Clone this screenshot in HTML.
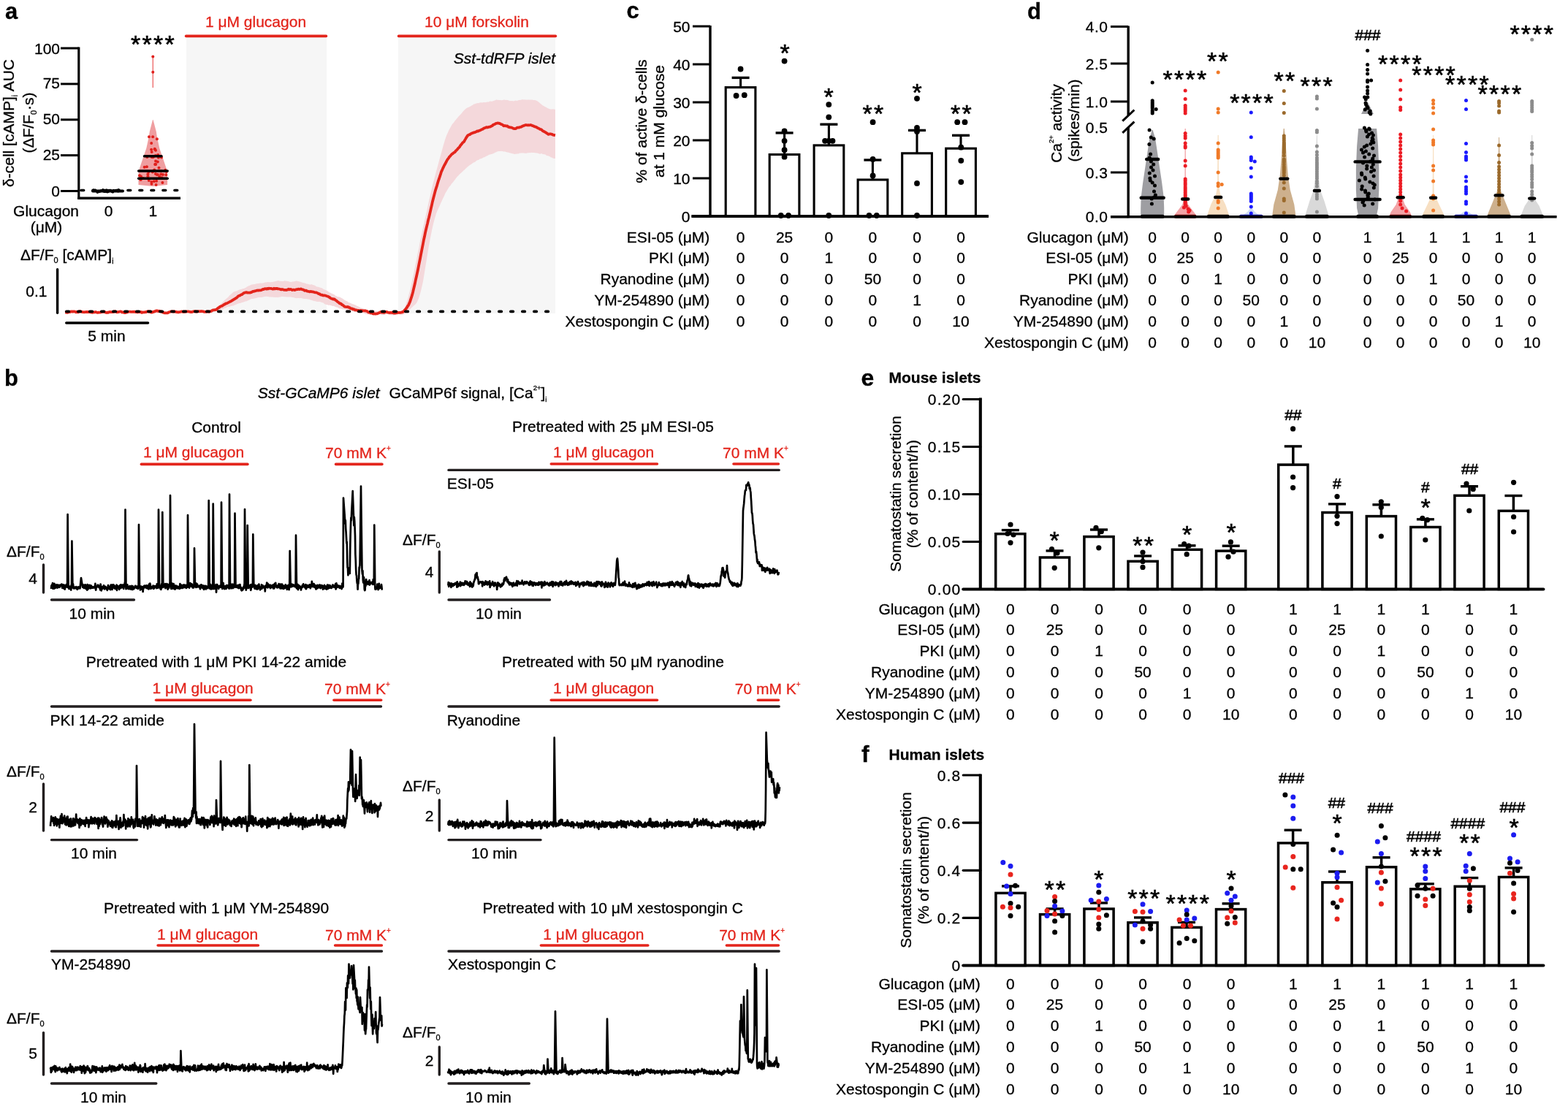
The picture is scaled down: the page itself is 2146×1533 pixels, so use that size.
<!DOCTYPE html>
<html><head><meta charset="utf-8"><style>
html,body{margin:0;padding:0;background:#fff;}
svg{display:block;}
text{font-family:"Liberation Sans",Arial,sans-serif;stroke:#000;stroke-width:0.3px;}
text[fill="#e3241b"]{stroke:#e3241b;}
</style></head><body>
<svg width="2146" height="1533" viewBox="0 0 2146 1533" font-family="Liberation Sans, Arial, sans-serif" font-size="21">
<rect width="2146" height="1533" fill="#fff"/>
<text x="6.9" y="25.8" font-size="31" font-weight="bold">a</text>
<line x1="107.8" y1="64.5" x2="107.8" y2="272.5" stroke="#000" stroke-width="3.2"/>
<line x1="106.2" y1="271.3" x2="247" y2="271.3" stroke="#000" stroke-width="3.4"/>
<line x1="83" y1="261.5" x2="107.8" y2="261.5" stroke="#000" stroke-width="3"/>
<text x="82" y="269" text-anchor="end">0</text>
<line x1="83" y1="212.6" x2="107.8" y2="212.6" stroke="#000" stroke-width="3"/>
<text x="82" y="218.6" text-anchor="end">25</text>
<line x1="83" y1="163.8" x2="107.8" y2="163.8" stroke="#000" stroke-width="3"/>
<text x="82" y="169.8" text-anchor="end">50</text>
<line x1="83" y1="114.9" x2="107.8" y2="114.9" stroke="#000" stroke-width="3"/>
<text x="82" y="120.9" text-anchor="end">75</text>
<line x1="83" y1="66" x2="107.8" y2="66" stroke="#000" stroke-width="3"/>
<text x="82" y="73.5" text-anchor="end">100</text>
<text x="108" y="296" text-anchor="end">Glucagon</text>
<text x="63.5" y="318" text-anchor="middle">(μM)</text>
<text x="148.5" y="296" text-anchor="middle">0</text>
<text x="209.3" y="296" text-anchor="middle">1</text>
<text transform="translate(19,168.5) rotate(-90)" text-anchor="middle">δ-cell [cAMP]<tspan font-size="10" dy="5">i</tspan><tspan dy="-5"> AUC</tspan></text>
<text transform="translate(46.2,168) rotate(-90)" text-anchor="middle">(ΔF/F<tspan font-size="11" dy="4">0</tspan><tspan dy="-4">·s)</tspan></text>
<line x1="110.9" y1="260.6" x2="247" y2="260.6" stroke="#000" stroke-width="3.5" stroke-linecap="round" stroke-dasharray="3.8 12.2"/>
<line x1="127" y1="261.5" x2="168" y2="261.5" stroke="#000" stroke-width="4" stroke-linecap="round"/>
<circle cx="149.6" cy="260.7" r="1.9" fill="#000"/>
<circle cx="147.9" cy="262.3" r="1.9" fill="#000"/>
<circle cx="163.6" cy="261.1" r="1.9" fill="#000"/>
<circle cx="145.7" cy="261.5" r="1.9" fill="#000"/>
<circle cx="153.6" cy="262.3" r="1.9" fill="#000"/>
<circle cx="151.2" cy="260.6" r="1.9" fill="#000"/>
<circle cx="128" cy="260.2" r="1.9" fill="#000"/>
<circle cx="144" cy="261.8" r="1.9" fill="#000"/>
<circle cx="138.6" cy="261.1" r="1.9" fill="#000"/>
<circle cx="133.4" cy="263" r="1.9" fill="#000"/>
<circle cx="149.3" cy="260.9" r="1.9" fill="#000"/>
<circle cx="136.1" cy="262.3" r="1.9" fill="#000"/>
<circle cx="142.9" cy="262" r="1.9" fill="#000"/>
<circle cx="161.7" cy="261.7" r="1.9" fill="#000"/>
<circle cx="142.5" cy="261.7" r="1.9" fill="#000"/>
<circle cx="149.9" cy="260.9" r="1.9" fill="#000"/>
<circle cx="141.8" cy="261.1" r="1.9" fill="#000"/>
<circle cx="146.2" cy="260.4" r="1.9" fill="#000"/>
<circle cx="138" cy="261.2" r="1.9" fill="#000"/>
<circle cx="162.3" cy="260" r="1.9" fill="#000"/>
<circle cx="151" cy="260.7" r="1.9" fill="#000"/>
<circle cx="145.6" cy="260.7" r="1.9" fill="#000"/>
<circle cx="135.4" cy="261.6" r="1.9" fill="#000"/>
<circle cx="130.6" cy="260.4" r="1.9" fill="#000"/>
<circle cx="146.8" cy="262.6" r="1.9" fill="#000"/>
<circle cx="157.6" cy="260.8" r="1.9" fill="#000"/>
<circle cx="155.3" cy="260.7" r="1.9" fill="#000"/>
<circle cx="154.4" cy="262.7" r="1.9" fill="#000"/>
<circle cx="140.9" cy="260" r="1.9" fill="#000"/>
<circle cx="145.3" cy="262.1" r="1.9" fill="#000"/>
<path d="M209.6 164 213.8 180 214.8 187 218.3 203 223.8 219 228.8 234 229.1 242 229.1 253 209.3 255 209.3 255 189.5 253 189.5 242 189.8 234 194.8 219 200.3 203 203.8 187 204.8 180 209 164Z" fill="#ec8d8f" fill-opacity="0.85"/>
<line x1="209.3" y1="77.5" x2="209.3" y2="120" stroke="#e66" stroke-width="1.3"/>
<circle cx="209.3" cy="77.5" r="2" fill="#e0201c"/>
<circle cx="209.3" cy="98.7" r="2" fill="#e0201c"/>
<circle cx="209.1" cy="187.2" r="2" fill="#e0201c"/>
<circle cx="208.8" cy="235.6" r="2" fill="#e0201c"/>
<circle cx="222.9" cy="239.1" r="2" fill="#e0201c"/>
<circle cx="212.7" cy="224.8" r="2" fill="#e0201c"/>
<circle cx="221.4" cy="243.2" r="2" fill="#e0201c"/>
<circle cx="202.4" cy="238.3" r="2" fill="#e0201c"/>
<circle cx="208.8" cy="215.2" r="2" fill="#e0201c"/>
<circle cx="214.9" cy="190.2" r="2" fill="#e0201c"/>
<circle cx="221" cy="215.5" r="2" fill="#e0201c"/>
<circle cx="192.7" cy="246.1" r="2" fill="#e0201c"/>
<circle cx="193" cy="241.6" r="2" fill="#e0201c"/>
<circle cx="220.3" cy="238.5" r="2" fill="#e0201c"/>
<circle cx="220.4" cy="234.3" r="2" fill="#e0201c"/>
<circle cx="204" cy="187.2" r="2" fill="#e0201c"/>
<circle cx="213" cy="205.8" r="2" fill="#e0201c"/>
<circle cx="218.2" cy="241.7" r="2" fill="#e0201c"/>
<circle cx="207.7" cy="207.9" r="2" fill="#e0201c"/>
<circle cx="211.7" cy="204.3" r="2" fill="#e0201c"/>
<circle cx="214.7" cy="239" r="2" fill="#e0201c"/>
<circle cx="226.4" cy="232.8" r="2" fill="#e0201c"/>
<circle cx="212.2" cy="225" r="2" fill="#e0201c"/>
<circle cx="191" cy="240.2" r="2" fill="#e0201c"/>
<circle cx="207.5" cy="251.7" r="2" fill="#e0201c"/>
<circle cx="207.2" cy="196.1" r="2" fill="#e0201c"/>
<circle cx="216.9" cy="215.7" r="2" fill="#e0201c"/>
<circle cx="213.1" cy="220.4" r="2" fill="#e0201c"/>
<circle cx="201.3" cy="215.1" r="2" fill="#e0201c"/>
<circle cx="202.4" cy="241.3" r="2" fill="#e0201c"/>
<circle cx="211.8" cy="203.7" r="2" fill="#e0201c"/>
<circle cx="222.4" cy="250.1" r="2" fill="#e0201c"/>
<circle cx="207.7" cy="215.1" r="2" fill="#e0201c"/>
<circle cx="203.4" cy="235.3" r="2" fill="#e0201c"/>
<circle cx="227.3" cy="239.3" r="2" fill="#e0201c"/>
<circle cx="214.1" cy="247.8" r="2" fill="#e0201c"/>
<circle cx="210.2" cy="214.5" r="2" fill="#e0201c"/>
<circle cx="210" cy="233.7" r="2" fill="#e0201c"/>
<circle cx="212.9" cy="213.1" r="2" fill="#e0201c"/>
<circle cx="207.3" cy="249" r="2" fill="#e0201c"/>
<circle cx="216.2" cy="211.9" r="2" fill="#e0201c"/>
<circle cx="212.9" cy="238" r="2" fill="#e0201c"/>
<circle cx="210.8" cy="248.3" r="2" fill="#e0201c"/>
<circle cx="209.4" cy="214.9" r="2" fill="#e0201c"/>
<circle cx="195.8" cy="244" r="2" fill="#e0201c"/>
<circle cx="211.3" cy="232.5" r="2" fill="#e0201c"/>
<circle cx="213.1" cy="225" r="2" fill="#e0201c"/>
<circle cx="227.9" cy="235.1" r="2" fill="#e0201c"/>
<circle cx="197.7" cy="228.7" r="2" fill="#e0201c"/>
<circle cx="203.8" cy="247" r="2" fill="#e0201c"/>
<circle cx="213.6" cy="253.1" r="2" fill="#e0201c"/>
<circle cx="207.1" cy="204.8" r="2" fill="#e0201c"/>
<circle cx="192.3" cy="245.8" r="2" fill="#e0201c"/>
<circle cx="217.5" cy="229.7" r="2" fill="#e0201c"/>
<circle cx="200.9" cy="228.3" r="2" fill="#e0201c"/>
<circle cx="215.9" cy="239.1" r="2" fill="#e0201c"/>
<circle cx="215.8" cy="221.4" r="2" fill="#e0201c"/>
<line x1="197.5" y1="213.7" x2="221" y2="213.7" stroke="#000" stroke-width="3.5" stroke-linecap="round"/>
<line x1="189.7" y1="234" x2="229.2" y2="234" stroke="#000" stroke-width="3.5" stroke-linecap="round"/>
<line x1="189.7" y1="244.2" x2="229.2" y2="244.2" stroke="#000" stroke-width="3.5" stroke-linecap="round"/>
<text x="179.1" y="72" font-size="34" letter-spacing="2.2" style="stroke-width:0.6px">****</text>
<rect x="255" y="51" width="192" height="378" fill="#f6f6f6"/>
<rect x="545" y="51" width="215" height="378" fill="#f6f6f6"/>
<line x1="254.6" y1="49.4" x2="446.4" y2="49.4" stroke="#e3241b" stroke-width="3.6" stroke-linecap="round"/>
<line x1="545.6" y1="49.4" x2="760.4" y2="49.4" stroke="#e3241b" stroke-width="3.6" stroke-linecap="round"/>
<text x="350" y="37" text-anchor="middle" fill="#e3241b">1 μM glucagon</text>
<text x="652.5" y="37" text-anchor="middle" fill="#e3241b">10 μM forskolin</text>
<text x="760" y="87" text-anchor="end" font-style="italic">Sst-tdRFP islet</text>
<line x1="78.6" y1="368.7" x2="78.6" y2="428.3" stroke="#000" stroke-width="3.4" stroke-linecap="round"/>
<text x="64.5" y="405.5" text-anchor="end">0.1</text>
<text x="28" y="356">ΔF/F<tspan font-size="11" dy="4">0</tspan><tspan dy="-4"> [cAMP]</tspan><tspan font-size="10" dy="5">i</tspan></text>
<line x1="90.8" y1="442" x2="202.5" y2="442" stroke="#000" stroke-width="3.6" stroke-linecap="round"/>
<text x="146" y="467" text-anchor="middle">5 min</text>
<path d="M89 427.2 90 426.9 91 427.2 92 427.1 93 426.6 94 426.8 95 426.9 96 426.9 97 427.3 98 427 99 427 100 427.5 101 427.1 102 426.8 103 426.6 104 426.4 105 426.5 106 426.6 107 426.6 108 426.5 109 426.4 110 426.6 111 426.7 112 426.7 113 427 114 426.6 115 426.9 116 426.7 117 426.5 118 426.4 119 426.2 120 425.8 121 426.2 122 426.4 123 426.8 124 426.7 125 426.7 126 426.8 127 427 128 427 129 426.9 130 426.6 131 426.7 132 426.7 133 426.6 134 426.6 135 426.4 136 426.6 137 426.9 138 427 139 427 140 427.3 141 427.2 142 427.5 143 427.4 144 427.3 145 427.3 146 427 147 426.9 148 426.9 149 426.6 150 426.7 151 426.7 152 426.5 153 426.6 154 426.5 155 426.5 156 426.5 157 426.3 158 426 159 426.1 160 426.3 161 426.1 162 426.3 163 426.5 164 426.4 165 426.2 166 426.5 167 426.6 168 426.5 169 426.4 170 426.3 171 426.1 172 426.4 173 426.5 174 426.3 175 426.6 176 426.7 177 426.6 178 426.5 179 426.8 180 426.5 181 426.5 182 426.6 183 426.5 184 426.6 185 426.8 186 426.7 187 427.2 188 427.1 189 426.7 190 426.7 191 426.5 192 426.7 193 426.6 194 426.3 195 426.4 196 426.6 197 426.8 198 426.8 199 426.7 200 426.8 201 426.5 202 426.3 203 426.2 204 425.9 205 426.2 206 426.2 207 426.7 208 426.8 209 426.9 210 427.4 211 427.3 212 427.5 213 427 214 426.3 215 426.6 216 427 217 426.7 218 426.6 219 426.2 220 426.9 221 427.1 222 427 223 426.6 224 426.6 225 427 226 427.5 227 427.5 228 427.6 229 427.3 230 427.1 231 426.6 232 426.5 233 426.3 234 426.1 235 425.6 236 425.7 237 425.9 238 426.3 239 426.5 240 426.3 241 426.6 242 426.9 243 426.9 244 426.8 245 427 246 426.5 247 426.5 248 426.3 249 426.5 250 426.2 251 426.5 252 426 253 425.9 254 425.5 255 425.8 256 425.8 257 425.9 258 425.9 259 426.6 260 426.8 261 426.8 262 426.2 263 426.2 264 426.6 265 426.5 266 426 267 425.9 268 425.8 269 426.2 270 426.3 271 426.1 272 425.8 273 426 274 426.2 275 426.6 276 426.6 277 426.5 278 426.5 279 426.8 280 426.7 281 426.5 282 426.4 283 426.6 284 426.6 285 426.7 286 426.5 287 426.2 288 426.1 289 425.6 290 424.9 291 424.7 292 423.4 293 423 294 422.5 295 422 296 421.1 297 420.1 298 419.3 299 419 300 418.3 301 417.2 302 415.9 303 415.3 304 414.2 305 413.2 306 412.3 307 411.2 308 410.3 309 409.4 310 408.4 311 407.8 312 406.9 313 405.8 314 404.6 315 403.7 316 402.8 317 401.9 318 401 319 400.1 320 399.5 321 399.1 322 398.8 323 398.5 324 398.2 325 397.7 326 397.3 327 396.7 328 396.4 329 396.1 330 395.9 331 395.5 332 395.2 333 395.1 334 394.9 335 394.3 336 393.9 337 393.2 338 392.5 339 392.1 340 391.5 341 391.1 342 390.7 343 390.1 344 389.7 345 389.5 346 389.3 347 389.2 348 388.9 349 388.9 350 388.4 351 388.3 352 388.3 353 388.1 354 388.1 355 387.8 356 387.6 357 387.6 358 387.7 359 387.4 360 387.4 361 386.9 362 386.9 363 386.3 364 386.4 365 386.2 366 386.1 367 386 368 386.2 369 386.1 370 386.4 371 386.1 372 386.1 373 385.9 374 385.7 375 385.5 376 385.2 377 384.9 378 384.8 379 384.6 380 384.2 381 384.1 382 384.6 383 384.7 384 384.8 385 384.9 386 384.7 387 385 388 385 389 384.2 390 384.4 391 384.5 392 384.7 393 384.8 394 385 395 385 396 385.8 397 385.8 398 386 399 385.9 400 385.6 401 385.4 402 385.6 403 385.1 404 384.9 405 384.6 406 384.4 407 384.7 408 385 409 385.2 410 385.4 411 385.7 412 386 413 386.4 414 386.8 415 387 416 387.3 417 387.4 418 387.8 419 388.3 420 388.8 421 388.6 422 388.9 423 389.2 424 389.6 425 389.6 426 389.3 427 389.3 428 390 429 390 430 390.5 431 390.8 432 391.5 433 392.3 434 392.4 435 392.7 436 392.8 437 393.2 438 393.6 439 393.9 440 394 441 394.6 442 395.2 443 395.9 444 396.2 445 396.7 446 397 447 397.6 448 398.3 449 398.8 450 399.8 451 400.4 452 400.6 453 401.3 454 401.8 455 402.1 456 402.6 457 403.1 458 403.6 459 404.7 460 405 461 405.6 462 406.2 463 406.3 464 406.3 465 406.7 466 407 467 407.8 468 408.3 469 408.8 470 409.4 471 410.2 472 411 473 411.6 474 411.9 475 412.3 476 412.9 477 413.9 478 414.2 479 414.5 480 415 481 415.5 482 415.9 483 416.3 484 416.5 485 417.1 486 417.3 487 417.7 488 418.4 489 418.9 490 419.1 491 419.9 492 420.2 493 420.9 494 421.5 495 421.6 496 421.9 497 422.4 498 422.6 499 422.9 500 423.1 501 423.6 502 424 503 424.5 504 425.1 505 425.2 506 425.3 507 425.3 508 425.1 509 425.4 510 425.5 511 425.1 512 425.1 513 425.3 514 425.8 515 425.7 516 425.7 517 425.7 518 425.8 519 425.9 520 425.7 521 425.4 522 425.8 523 425.3 524 425.3 525 425.3 526 425.2 527 425.3 528 425.2 529 425.2 530 425.6 531 425.5 532 425.8 533 425.9 534 425.7 535 425.7 536 425.7 537 425.3 538 425.5 539 425.4 540 425.8 541 426.1 542 426.7 543 426.5 544 427 545 426.7 546 426.5 547 426 548 425.8 549 425.6 550 425.2 551 424.5 552 423.8 553 422.5 554 420.5 555 418.5 556 415.5 557 412.5 558 409.4 559 405.8 560 402.1 561 398.6 562 394.2 563 389.5 564 384.9 565 380.2 566 375.5 567 370.7 568 365.8 569 360.6 570 355.9 571 350.8 572 345.6 573 340.9 574 335.7 575 330.4 576 325.8 577 320.9 578 316.6 579 311.9 580 307.3 581 302.7 582 298.2 583 293.8 584 289.6 585 284.8 586 280.2 587 275.3 588 271.1 589 266.7 590 262.5 591 257.9 592 253.8 593 249.8 594 246.4 595 242.3 596 238.6 597 234.5 598 231 599 227.4 600 223.8 601 220 602 216.2 603 212.7 604 209.3 605 205.6 606 201.8 607 198.3 608 194.9 609 191.6 610 188.5 611 185.8 612 183.4 613 181.3 614 178.9 615 176.9 616 175.3 617 173.4 618 171.6 619 170.1 620 168.8 621 167.7 622 166.3 623 165 624 163.8 625 162.6 626 161.4 627 160.1 628 159.1 629 157.9 630 156.9 631 156 632 154.7 633 153.6 634 152.3 635 151.2 636 150.2 637 149.3 638 148.4 639 147.8 640 147.2 641 147 642 146.5 643 146.1 644 145.6 645 144.8 646 144.3 647 143.8 648 142.8 649 142.6 650 142.2 651 141.8 652 141.6 653 141.3 654 140.9 655 141.2 656 140.8 657 140.3 658 140.4 659 140.3 660 140.4 661 140.2 662 140.1 663 140 664 140.3 665 140.1 666 139.7 667 139.5 668 139.5 669 139.4 670 138.7 671 138.6 672 138.7 673 138.8 674 138.6 675 138.3 676 137.8 677 137.6 678 137.2 679 136.6 680 136.5 681 136.9 682 136.8 683 136.9 684 137 685 137 686 137.3 687 137.2 688 136.9 689 136.7 690 136.6 691 136.7 692 137 693 136.7 694 137.1 695 137 696 137.4 697 137.8 698 138.2 699 138 700 138.2 701 138 702 138.3 703 138.4 704 138.1 705 137.7 706 137.5 707 137.9 708 137.8 709 137.6 710 136.9 711 137 712 136.8 713 137 714 136.3 715 136.3 716 136.2 717 136.6 718 136.2 719 136.6 720 136.4 721 136.7 722 136.5 723 136.4 724 136.4 725 136.7 726 136.6 727 136.7 728 136.6 729 136.7 730 136.9 731 136.9 732 137 733 137.3 734 137.7 735 138.1 736 138.8 737 139.4 738 140.3 739 141.2 740 142.2 741 142.7 742 143.7 743 144.6 744 145.1 745 145.6 746 146.2 747 146.5 748 147.3 749 147.8 750 148.3 751 148.7 752 149.1 753 149.5 754 149.4 755 149.6 756 149.5 757 149.3 758 149.6 759 149.7 760 149.7 760 217.1 759 217.1 758 216.8 757 216.7 756 216 755 215.6 754 215.6 753 214.6 752 214.1 751 213.8 750 213 749 213.2 748 212.9 747 211.8 746 211.6 745 211.3 744 211.1 743 211.3 742 210.6 741 210.1 740 210.6 739 210.7 738 210.4 737 210.1 736 209.7 735 209.6 734 209.6 733 209.2 732 209.2 731 208.9 730 209 729 209 728 208.9 727 208.8 726 209.3 725 209.1 724 209.3 723 209.2 722 209.2 721 209.8 720 209.8 719 209.7 718 209.8 717 209.4 716 209.6 715 209.6 714 209.2 713 209.8 712 209.6 711 209.6 710 210.4 709 210.3 708 210.5 707 210.7 706 210.5 705 210.9 704 211.1 703 210.5 702 210.5 701 210.1 700 209.9 699 209.6 698 209.4 697 209 696 208.8 695 208.5 694 208.4 693 208.1 692 208 691 207.3 690 207.5 689 207.4 688 207.1 687 206.9 686 206.7 685 206.9 684 207.1 683 207 682 207 681 207.5 680 207.6 679 208.4 678 208.6 677 209.2 676 209.7 675 210.2 674 210.5 673 210.9 672 211.1 671 211.5 670 211.6 669 212.1 668 212.6 667 213.3 666 213.6 665 214.1 664 214.8 663 215.2 662 215.2 661 216 660 216.4 659 217.1 658 217.2 657 217.4 656 217.9 655 219 654 219.1 653 219.5 652 220 651 221 650 221.7 649 222.2 648 222.5 647 223.3 646 224.1 645 224.7 644 225.4 643 225.8 642 226.8 641 227.6 640 228.3 639 229.3 638 230.3 637 231.1 636 232.2 635 232.9 634 233.7 633 235 632 235.7 631 236.7 630 237.4 629 238.4 628 239.5 627 240.8 626 241.6 625 242.8 624 244 623 245.5 622 246.8 621 248 620 249.2 619 250.4 618 251.6 617 253.2 616 254.4 615 255.6 614 257.1 613 258.7 612 260.3 611 262.2 610 263.5 609 265.4 608 268.1 607 270 606 272 605 274.2 604 276.4 603 278.6 602 280.9 601 282.9 600 285.3 599 287.5 598 289.8 597 292.3 596 295.7 595 298.9 594 302.7 593 306.6 592 310.9 591 315.5 590 320.4 589 325.4 588 331 587 336.2 586 341.9 585 348.2 584 354.5 583 360.4 582 366.7 581 372.9 580 379.1 579 385 578 389.7 577 394 576 398.5 575 401.9 574 405.3 573 408.5 572 410.6 571 412.9 570 414.8 569 416 568 417.1 567 417.9 566 418.5 565 419.7 564 420.6 563 421.4 562 422.6 561 423.5 560 424.3 559 425.4 558 425.9 557 427.1 556 428 555 428.6 554 429.5 553 430.1 552 430.4 551 430.9 550 430.7 549 430.5 548 430.4 547 430.2 546 430 545 430.2 544 430.6 543 430.7 542 431.1 541 431.1 540 431.3 539 431.6 538 431.6 537 431.3 536 431.6 535 431 534 430.9 533 430.7 532 430.7 531 430 530 430.1 529 429.9 528 430.5 527 430.6 526 431 525 431 524 431.2 523 431.1 522 430.7 521 430.3 520 430.1 519 429.8 518 429.8 517 429.7 516 429.7 515 429.8 514 430.1 513 430.2 512 430.1 511 429.9 510 429.7 509 429.9 508 430 507 429.7 506 429.9 505 430 504 430.4 503 430.4 502 429.9 501 429.7 500 429.7 499 429.2 498 428.8 497 428.3 496 428.4 495 428.2 494 428.2 493 428 492 427.8 491 427.7 490 427.6 489 427.4 488 427.1 487 427 486 426.6 485 426.8 484 426.7 483 426.2 482 425.8 481 426 480 425.8 479 425.9 478 425.7 477 425.3 476 425.3 475 425.1 474 424.5 473 424.2 472 423.7 471 423.4 470 423.3 469 423.5 468 422.9 467 422.8 466 422.3 465 422.4 464 422 463 421.6 462 420.5 461 420.7 460 420.3 459 419.9 458 419.4 457 419 456 418.8 455 419 454 418.4 453 418 452 418 451 417.6 450 417.8 449 417.8 448 417 447 416.9 446 416.7 445 416.4 444 415.9 443 415 442 414.2 441 414.3 440 413.7 439 413.6 438 413 437 413 436 413 435 413 434 412.9 433 412.7 432 412.3 431 412.3 430 412.1 429 411.7 428 411.4 427 410.9 426 410.8 425 410.6 424 409.9 423 409.6 422 409.7 421 409.3 420 409.2 419 409.1 418 409.1 417 409.1 416 409.1 415 408.7 414 408.6 413 408.3 412 408.1 411 408.1 410 408.2 409 408.1 408 408.1 407 408 406 408.3 405 408.1 404 407.9 403 407.4 402 407.3 401 407.1 400 407 399 406.8 398 406.6 397 406.4 396 406.4 395 406.6 394 406.4 393 406.6 392 406.6 391 406.3 390 406.3 389 406.3 388 406.1 387 406 386 406.1 385 406 384 406.4 383 406.6 382 406.7 381 406.8 380 407.2 379 406.8 378 406.9 377 406.9 376 406.7 375 406.9 374 406.8 373 406.6 372 406.7 371 406.6 370 406.5 369 406.5 368 406.3 367 406.1 366 406.1 365 405.8 364 405.8 363 406.1 362 406.1 361 406.2 360 406.5 359 406.7 358 407.1 357 407.1 356 406.9 355 406.9 354 407.1 353 407.2 352 407.5 351 407.9 350 408.1 349 408.6 348 408.4 347 408.8 346 408.9 345 409.1 344 409.1 343 409.7 342 409.8 341 410.7 340 411.1 339 411.6 338 411.9 337 412.4 336 412.3 335 413.1 334 413.3 333 413.6 332 413.9 331 414 330 414.4 329 414.9 328 415 327 415.2 326 415.5 325 416.1 324 416.3 323 416.9 322 417.2 321 417.6 320 418.3 319 418.5 318 418.6 317 419 316 419.1 315 419.6 314 419.9 313 419.8 312 420 311 420.1 310 420.9 309 421.2 308 421.7 307 422.1 306 422.7 305 423.3 304 423.7 303 423.5 302 423.7 301 423.8 300 423.8 299 423.7 298 423.9 297 424.2 296 425 295 425.3 294 425.5 293 426 292 426.5 291 426.9 290 427.2 289 427.2 288 427.3 287 427.3 286 427.6 285 427.4 284 427.5 283 427.3 282 427 281 426.7 280 427.3 279 427.2 278 427.3 277 427.6 276 428 275 428.4 274 428.4 273 427.9 272 428 271 427.9 270 427.6 269 427.3 268 427.2 267 427.7 266 427.6 265 427.2 264 427 263 427 262 427.3 261 427.3 260 427.6 259 427.7 258 427.9 257 428 256 427.9 255 427.8 254 427.7 253 427.6 252 427.6 251 427.6 250 427.3 249 427.3 248 427.3 247 427.5 246 427.6 245 427.6 244 427.7 243 428.3 242 428.4 241 428.4 240 428.2 239 428.2 238 428.5 237 428.4 236 428.2 235 428 234 428 233 428.2 232 427.9 231 427.8 230 428 229 427.7 228 427.6 227 427.7 226 427.7 225 427.9 224 427.6 223 427.7 222 428 221 428.4 220 428.6 219 428.4 218 428.6 217 428.9 216 428.8 215 428.5 214 428.5 213 428.7 212 428.8 211 428.4 210 428.4 209 428.5 208 428.4 207 428.6 206 428.1 205 428 204 428.3 203 428.4 202 428.2 201 428.5 200 428.3 199 428.4 198 428.4 197 428 196 428.1 195 428.4 194 428.2 193 428.3 192 428.1 191 428 190 428.1 189 428 188 427.8 187 427.7 186 427.7 185 427.9 184 427.6 183 427.6 182 427 181 427.2 180 427.3 179 427 178 427.4 177 427.6 176 427.7 175 428.2 174 428.1 173 428 172 428.4 171 428.2 170 428.2 169 428.2 168 428.1 167 427.8 166 427.9 165 427.7 164 427.5 163 427.8 162 427.8 161 427.8 160 427.6 159 427.8 158 427.8 157 428 156 427.9 155 427.8 154 427.7 153 428.1 152 427.7 151 427.6 150 427.4 149 427.5 148 427.6 147 427.7 146 427.9 145 428.2 144 427.9 143 428.3 142 428 141 428.1 140 428 139 427.8 138 427.6 137 428 136 427.7 135 427.6 134 427.8 133 427.8 132 427.6 131 427.4 130 427.1 129 427.4 128 427.6 127 427.2 126 427.1 125 427.2 124 427.3 123 427.7 122 427.1 121 427.2 120 427.7 119 428 118 428 117 428.3 116 427.9 115 427.8 114 428 113 427.4 112 427.3 111 427.9 110 427.8 109 428 108 428.6 107 428.5 106 428.7 105 428.8 104 428.4 103 428.2 102 427.9 101 427.6 100 427.7 99 428 98 427.5 97 427.6 96 427.9 95 428.1 94 428 93 428 92 427.7 91 427.9 90 428 89 427.8Z" fill="#f4d8db"/>
<path d="M89 427.6 90 427.5 91 427.6 92 427.8 93 427.7 94 427 95 427.1 96 427 97 426.3 98 426.5 99 426.5 100 426.6 101 426.3 102 426.4 103 426.8 104 427.3 105 426.8 106 427.3 107 427.3 108 426.8 109 426.1 110 426.4 111 426.5 112 426.9 113 427.1 114 427.2 115 427.3 116 427.1 117 427.1 118 426.9 119 427 120 427 121 427 122 426.9 123 427.1 124 427.4 125 427.4 126 427.8 127 427.6 128 427.5 129 427.2 130 427.3 131 427 132 427.4 133 427.8 134 427.9 135 427.7 136 427.6 137 427.6 138 427.4 139 427 140 426.9 141 426.8 142 426.7 143 426.6 144 427.5 145 427.8 146 428 147 427.6 148 427.9 149 427.3 150 426.9 151 427 152 427.1 153 427.2 154 427.2 155 426.7 156 426.8 157 426.3 158 426.4 159 426.9 160 427.4 161 427 162 427.1 163 426.9 164 426.4 165 426.4 166 426.6 167 427.5 168 427.3 169 427.6 170 427.9 171 428.2 172 427.9 173 427.7 174 427.5 175 427.1 176 426.7 177 426.7 178 426.7 179 426.8 180 426.8 181 426.8 182 426.7 183 426.8 184 426.7 185 426.9 186 427.2 187 427.2 188 427.4 189 427 190 427.1 191 427.1 192 427.1 193 426.9 194 427.9 195 427.5 196 427.5 197 427.3 198 427.4 199 427 200 427.2 201 426.5 202 426.2 203 426.4 204 426.7 205 426.4 206 427 207 427.6 208 427.6 209 427 210 427 211 426.6 212 426 213 425.8 214 425.3 215 425.3 216 425.8 217 425.8 218 425.7 219 426.2 220 426.4 221 426.5 222 427 223 427.7 224 427.9 225 428.3 226 428.4 227 428.4 228 428.3 229 428.4 230 428.1 231 427.3 232 427.1 233 426.7 234 426.4 235 426.4 236 426.4 237 426.5 238 426.7 239 426.4 240 426.7 241 427.1 242 426.9 243 427.3 244 427.5 245 427.1 246 427.1 247 426.8 248 426.4 249 426.4 250 426.8 251 426.7 252 426.9 253 426.6 254 426.7 255 426.5 256 426.4 257 426.4 258 426.4 259 426.6 260 426.8 261 427.1 262 427 263 427.2 264 426.3 265 426.4 266 426.1 267 426.3 268 426.2 269 426.7 270 426.4 271 426.3 272 426 273 426.3 274 426.2 275 426 276 426.1 277 426.1 278 426.3 279 426.6 280 426.9 281 426.8 282 426.9 283 426.6 284 426.3 285 426.4 286 426.8 287 426.6 288 426.2 289 426 290 425.1 291 424.8 292 424.3 293 424.4 294 424.2 295 424 296 423.9 297 423.1 298 422 299 421.3 300 420.9 301 419.8 302 419.4 303 418.9 304 418.8 305 418 306 417.3 307 416.8 308 416.3 309 415.4 310 415.3 311 414.9 312 414.4 313 413.9 314 413.4 315 412.7 316 412.4 317 411.8 318 411.1 319 410.5 320 409.9 321 409.2 322 408.7 323 407.9 324 407.6 325 406.4 326 405.5 327 404.8 328 404.7 329 403.9 330 403.4 331 403.1 332 402.5 333 401.5 334 401 335 400.6 336 400.4 337 400.1 338 400.5 339 400.5 340 400.7 341 400.7 342 400.7 343 400.2 344 400.2 345 399.5 346 399 347 398.9 348 398.6 349 398.3 350 398.1 351 397.8 352 397.5 353 397.6 354 397.5 355 397.4 356 397.4 357 397.3 358 397 359 396.2 360 395.9 361 396 362 395.3 363 395.2 364 395.3 365 395.6 366 395 367 395.3 368 394.7 369 394.8 370 394.9 371 394.8 372 395.2 373 395.5 374 395.6 375 394.7 376 395.4 377 395 378 395.1 379 394.8 380 395.3 381 395.3 382 395.5 383 395.8 384 396.1 385 396.4 386 396 387 396.2 388 396.6 389 396.8 390 396.9 391 396.9 392 397 393 396.7 394 396.2 395 395.7 396 396.3 397 396.2 398 395.9 399 396.4 400 397 401 396.7 402 396.6 403 397 404 396.9 405 396.4 406 396.1 407 396.2 408 395.7 409 395.7 410 396.1 411 395.6 412 395.5 413 396 414 396.4 415 396.3 416 397.2 417 397.8 418 397.7 419 397.6 420 398.4 421 398.7 422 398.8 423 399 424 399.4 425 398.9 426 399.1 427 399.4 428 399.4 429 399.7 430 399.9 431 400.3 432 400.3 433 400.4 434 400.9 435 401.4 436 402 437 402.1 438 402.9 439 403.5 440 403.8 441 403.7 442 404.3 443 404.5 444 404.2 445 404.5 446 404.8 447 405.2 448 405.5 449 405.8 450 406.4 451 407 452 407.9 453 408.4 454 408.8 455 409 456 409.6 457 409.3 458 409.6 459 410.8 460 411.2 461 412.1 462 413 463 413.7 464 414.4 465 415.4 466 415.4 467 416 468 417.1 469 417.4 470 418.2 471 419.3 472 419.8 473 420 474 420.2 475 420.1 476 420 477 420.8 478 420.7 479 421.4 480 422.2 481 422.3 482 422.3 483 423.4 484 423.2 485 423.6 486 424.4 487 424.4 488 424.4 489 424.9 490 424.9 491 425 492 425.3 493 425.2 494 424.9 495 425.3 496 425.2 497 425.3 498 425.3 499 425.4 500 425.3 501 425.7 502 425.8 503 426.6 504 427.2 505 427.7 506 427.5 507 428.5 508 428.1 509 428.5 510 429.2 511 429.6 512 429.1 513 429.5 514 429.6 515 429.4 516 429.4 517 429 518 428.6 519 428.2 520 427.4 521 427 522 427.7 523 427.5 524 427.7 525 427.8 526 427.8 527 427.2 528 427.1 529 426.8 530 427.3 531 427.6 532 427.8 533 428 534 428 535 427.8 536 427.8 537 428.1 538 428.1 539 428.6 540 428.6 541 428.5 542 428 543 428.3 544 428 545 427.8 546 427.8 547 428 548 427.8 549 427.7 550 427.3 551 427.1 552 426.4 553 425.9 554 424.3 555 423.5 556 422 557 420.8 558 418.8 559 417.8 560 415.4 561 413.3 562 410.2 563 407.2 564 403.9 565 400.2 566 395.9 567 391.7 568 387.5 569 382.5 570 378.3 571 373.7 572 369 573 363.8 574 358.9 575 354 576 348.7 577 343.7 578 338.5 579 333.5 580 328 581 323.8 582 318.6 583 314.3 584 310.1 585 306.1 586 301.5 587 297.7 588 293.5 589 289.1 590 284.7 591 280.4 592 275.7 593 271.7 594 268 595 264.1 596 260.3 597 257.2 598 254.1 599 250.6 600 247.2 601 244.5 602 241.4 603 238.4 604 235 605 233.1 606 230.6 607 228.6 608 226.5 609 224.8 610 222.8 611 221 612 219 613 217.6 614 216.4 615 214.7 616 213.8 617 212.6 618 211.4 619 210.6 620 210 621 209 622 208.6 623 207.6 624 206.2 625 205.4 626 204.4 627 203 628 202.1 629 201.2 630 199.3 631 198.1 632 197 633 195.5 634 194.7 635 194 636 192.1 637 190.4 638 188.6 639 187.1 640 185.6 641 184.9 642 184.4 643 184.1 644 183.4 645 182.7 646 182.5 647 181.9 648 181.7 649 181.2 650 181.2 651 180.6 652 180.2 653 179.4 654 179.7 655 179.2 656 178.8 657 178.4 658 178 659 177.3 660 177 661 176.5 662 175.6 663 175.4 664 174.9 665 174.5 666 174.1 667 174.5 668 174.2 669 173.8 670 173.7 671 173.7 672 172.8 673 172.5 674 171.9 675 170.8 676 170.4 677 170 678 169.5 679 168.8 680 168.8 681 168.4 682 168.7 683 168.7 684 169.2 685 169.4 686 170.2 687 170.4 688 170.9 689 172.1 690 172.3 691 171.9 692 172.3 693 172.6 694 172.3 695 173.1 696 173.9 697 174 698 174.4 699 174.4 700 174.7 701 174.8 702 175.7 703 175.9 704 176.2 705 176.1 706 176.1 707 175.3 708 174.6 709 174.7 710 174.7 711 174.2 712 174 713 173.8 714 173.3 715 172.8 716 172.3 717 171.9 718 171.6 719 171.2 720 171 721 171.3 722 171.3 723 171.2 724 171.3 725 171.3 726 171 727 171.3 728 171.8 729 172.2 730 172.4 731 173 732 173.4 733 173.6 734 174 735 174.6 736 175.3 737 175.5 738 176.2 739 176.8 740 177 741 177.5 742 178.4 743 179.2 744 179.7 745 180.2 746 180.8 747 181.4 748 182.1 749 182.8 750 183.6 751 183.9 752 183.4 753 183.3 754 183.4 755 183.8 756 183.9 757 184.7 758 184.9 759 185 760 185.2" fill="none" stroke="#e3241b" stroke-width="3.8" stroke-linejoin="round"/>
<line x1="90.8" y1="426.4" x2="753" y2="426.4" stroke="#000" stroke-width="3.6" stroke-linecap="round" stroke-dasharray="3.6 12.4"/>
<text x="6" y="527.5" font-size="31" font-weight="bold">b</text>
<text x="352.8" y="545" font-style="italic">Sst-GCaMP6 islet</text>
<text x="532.4" y="545">GCaMP6f signal, [Ca<tspan font-size="9.5" dy="-11">2+</tspan><tspan dy="11">]</tspan><tspan font-size="9.5" dy="5">i</tspan></text>
<text x="296" y="592" text-anchor="middle">Control</text>
<text x="265" y="625.5" text-anchor="middle" fill="#e3241b">1 μM glucagon</text>
<text x="445" y="627" fill="#e3241b">70 mM K<tspan font-size="10" dy="-10">+</tspan></text>
<line x1="193.4" y1="635.4" x2="338.9" y2="635.4" stroke="#e3241b" stroke-width="3.6" stroke-linecap="round"/>
<line x1="459.6" y1="635.4" x2="522.9" y2="635.4" stroke="#e3241b" stroke-width="3.6" stroke-linecap="round"/>
<text x="9" y="762">ΔF/F<tspan font-size="11" dy="4">0</tspan></text>
<line x1="59.5" y1="773" x2="59.5" y2="811" stroke="#231f20" stroke-width="3.4" stroke-linecap="round"/>
<text x="51" y="799" text-anchor="end">4</text>
<line x1="70.5" y1="821" x2="183.5" y2="821" stroke="#231f20" stroke-width="3.4" stroke-linecap="round"/>
<text x="126" y="847" text-anchor="middle">10 min</text>
<text x="839" y="591" text-anchor="middle">Pretreated with 25 μM ESI-05</text>
<text x="826" y="625.5" text-anchor="middle" fill="#e3241b">1 μM glucagon</text>
<text x="989" y="627" fill="#e3241b">70 mM K<tspan font-size="10" dy="-10">+</tspan></text>
<line x1="754.3" y1="635" x2="899.4" y2="635" stroke="#e3241b" stroke-width="3.6" stroke-linecap="round"/>
<line x1="1004" y1="635" x2="1065.4" y2="635" stroke="#e3241b" stroke-width="3.6" stroke-linecap="round"/>
<line x1="614" y1="643.4" x2="1066.2" y2="643.4" stroke="#231f20" stroke-width="3.4" stroke-linecap="round"/>
<text x="611.8" y="669">ESI-05</text>
<text x="551" y="746">ΔF/F<tspan font-size="11" dy="4">0</tspan></text>
<line x1="601.3" y1="755" x2="601.3" y2="811" stroke="#231f20" stroke-width="3.4" stroke-linecap="round"/>
<text x="593.5" y="790" text-anchor="end">4</text>
<line x1="614" y1="821" x2="752.5" y2="821" stroke="#231f20" stroke-width="3.4" stroke-linecap="round"/>
<text x="682.5" y="847" text-anchor="middle">10 min</text>
<text x="296" y="913" text-anchor="middle">Pretreated with 1 μM PKI 14-22 amide</text>
<text x="277.7" y="948.5" text-anchor="middle" fill="#e3241b">1 μM glucagon</text>
<text x="444" y="950" fill="#e3241b">70 mM K<tspan font-size="10" dy="-10">+</tspan></text>
<line x1="213.6" y1="958.3" x2="342.9" y2="958.3" stroke="#e3241b" stroke-width="3.6" stroke-linecap="round"/>
<line x1="457" y1="958.3" x2="521.6" y2="958.3" stroke="#e3241b" stroke-width="3.6" stroke-linecap="round"/>
<line x1="70.5" y1="967" x2="521.5" y2="967" stroke="#231f20" stroke-width="3.4" stroke-linecap="round"/>
<text x="68.4" y="993">PKI 14-22 amide</text>
<text x="9" y="1063">ΔF/F<tspan font-size="11" dy="4">0</tspan></text>
<line x1="59.5" y1="1073" x2="59.5" y2="1137" stroke="#231f20" stroke-width="3.4" stroke-linecap="round"/>
<text x="51" y="1112" text-anchor="end">2</text>
<line x1="70.5" y1="1149.6" x2="187.5" y2="1149.6" stroke="#231f20" stroke-width="3.4" stroke-linecap="round"/>
<text x="128.5" y="1175" text-anchor="middle">10 min</text>
<text x="839" y="913" text-anchor="middle">Pretreated with 50 μM ryanodine</text>
<text x="826" y="948.5" text-anchor="middle" fill="#e3241b">1 μM glucagon</text>
<text x="1005.8" y="950" fill="#e3241b">70 mM K<tspan font-size="10" dy="-10">+</tspan></text>
<line x1="754.3" y1="958.3" x2="899.4" y2="958.3" stroke="#e3241b" stroke-width="3.6" stroke-linecap="round"/>
<line x1="1037.4" y1="958.3" x2="1065.4" y2="958.3" stroke="#e3241b" stroke-width="3.6" stroke-linecap="round"/>
<line x1="614" y1="967" x2="1066.2" y2="967" stroke="#231f20" stroke-width="3.4" stroke-linecap="round"/>
<text x="611.8" y="993">Ryanodine</text>
<text x="551" y="1083">ΔF/F<tspan font-size="11" dy="4">0</tspan></text>
<line x1="601.3" y1="1095" x2="601.3" y2="1137" stroke="#231f20" stroke-width="3.4" stroke-linecap="round"/>
<text x="593.5" y="1124" text-anchor="end">2</text>
<line x1="614" y1="1149.6" x2="740" y2="1149.6" stroke="#231f20" stroke-width="3.4" stroke-linecap="round"/>
<text x="676.5" y="1175" text-anchor="middle">10 min</text>
<text x="296" y="1250" text-anchor="middle">Pretreated with 1 μM YM-254890</text>
<text x="284" y="1285.5" text-anchor="middle" fill="#e3241b">1 μM glucagon</text>
<text x="445" y="1287" fill="#e3241b">70 mM K<tspan font-size="10" dy="-10">+</tspan></text>
<line x1="216.1" y1="1294" x2="353.4" y2="1294" stroke="#e3241b" stroke-width="3.6" stroke-linecap="round"/>
<line x1="458.6" y1="1294" x2="522.4" y2="1294" stroke="#e3241b" stroke-width="3.6" stroke-linecap="round"/>
<line x1="70.5" y1="1302" x2="522.5" y2="1302" stroke="#231f20" stroke-width="3.4" stroke-linecap="round"/>
<text x="70" y="1327">YM-254890</text>
<text x="9" y="1401">ΔF/F<tspan font-size="11" dy="4">0</tspan></text>
<line x1="59.5" y1="1413.5" x2="59.5" y2="1471" stroke="#231f20" stroke-width="3.4" stroke-linecap="round"/>
<text x="51" y="1449" text-anchor="end">5</text>
<line x1="70.5" y1="1483" x2="213.8" y2="1483" stroke="#231f20" stroke-width="3.4" stroke-linecap="round"/>
<text x="141.5" y="1509" text-anchor="middle">10 min</text>
<text x="838.8" y="1250" text-anchor="middle">Pretreated with 10 μM xestospongin C</text>
<text x="812.4" y="1285.5" text-anchor="middle" fill="#e3241b">1 μM glucagon</text>
<text x="984.2" y="1287" fill="#e3241b">70 mM K<tspan font-size="10" dy="-10">+</tspan></text>
<line x1="740.4" y1="1294" x2="886.8" y2="1294" stroke="#e3241b" stroke-width="3.6" stroke-linecap="round"/>
<line x1="994.4" y1="1294" x2="1065.4" y2="1294" stroke="#e3241b" stroke-width="3.6" stroke-linecap="round"/>
<line x1="614" y1="1302" x2="1066.2" y2="1302" stroke="#231f20" stroke-width="3.4" stroke-linecap="round"/>
<text x="613" y="1327">Xestospongin C</text>
<text x="551" y="1420">ΔF/F<tspan font-size="11" dy="4">0</tspan></text>
<line x1="601.3" y1="1433" x2="601.3" y2="1471" stroke="#231f20" stroke-width="3.4" stroke-linecap="round"/>
<text x="593.5" y="1459" text-anchor="end">2</text>
<line x1="614" y1="1483" x2="724.3" y2="1483" stroke="#231f20" stroke-width="3.4" stroke-linecap="round"/>
<text x="668.5" y="1509" text-anchor="middle">10 min</text>
<path d="M70 806 70.4 801.6 70.8 801.7 71.2 800.5 71.6 804.2 72 798.1 72.4 805.7 72.8 801 73.2 803.4 73.6 802.2 74 805.6 74.4 798.8 74.8 802.1 75.2 802.2 75.6 805 76 800.7 76.4 802.4 76.8 800.9 77.2 802.7 77.6 803.7 78 800.4 78.4 804.6 78.8 803.9 79.2 802.9 79.6 804 80 800.9 80.4 802.5 80.8 800.8 81.2 802.4 81.6 803.8 82 801.5 82.4 801.9 82.8 801.1 83.2 800.3 83.6 800.8 84 801.7 84.4 799.6 84.8 802.2 85.2 804.8 85.6 803.1 86 801.5 86.4 800.4 86.8 800.7 87.2 805.4 87.6 802 88 800.8 88.4 802.8 88.8 806.6 89.2 803 89.6 804 90 803.4 90.4 801.7 90.8 800.2 91.2 801.6 91.6 801.8 92 803.3 92.1 803.6 92.6 704 93.6 804.5 93.6 804.5 94 801.7 94.4 805.9 94.8 804.5 95.2 802.9 95.6 804.7 96 803.7 96.4 805.8 96.8 806.5 97.2 807.6 97.6 800.8 98 800.8 98.4 740.5 99.4 804.4 99.6 803.8 100 799.3 100.4 802.8 100.8 805.3 101.2 804 101.6 805.4 102 803.7 102.4 803.6 102.8 804.5 103.2 805 103.6 805.1 104 804.9 104.4 803.2 104.8 805.5 105.2 805 105.6 806.8 106 806.7 106.4 804.8 106.8 803.7 107.2 803.4 107.6 805.3 108 804.8 108.4 803.8 108.8 804.8 109.2 803.2 109.5 805.3 111 791 113 803.1 113.2 803.7 113.6 803.6 114 800.6 114.4 803.9 114.8 804.9 115.2 801.6 115.6 803.8 116 800.6 116.4 803.2 116.8 800.4 117.2 805.6 117.6 804.6 118 803.7 118.4 802.5 118.8 806.2 119.2 807.7 119.6 800.1 120 805.7 120.4 806.6 120.8 803.8 121.2 801 121.6 804.8 122 802.8 122.4 802.2 122.8 800.9 123.2 804.5 123.6 805.4 124 803 124.4 804.9 124.8 801.6 125.2 805 125.6 803.3 126 803 126.4 803.2 126.8 804.7 127.2 804.5 127.6 804.2 128 803.6 128.4 803.3 128.8 804.3 129.2 803.5 129.6 804.4 130 802.7 130.4 798.8 130.8 805.5 131.2 807.7 131.6 804.2 132 803.6 132.4 803.5 132.8 803.3 133.2 803.2 133.6 800.8 134 801.8 134.4 800.8 134.8 803.3 135.2 802.3 135.6 804.1 136 802.5 136.4 804.9 136.8 803.8 137.2 807.4 137.6 799.5 138 801.8 138.4 804.9 138.8 808.3 139.2 803.1 139.6 803.5 140 803.1 140.4 805.8 140.8 802.8 141.2 804.7 141.6 803.4 142 801.3 142.4 804.1 142.8 804.6 143.2 806.4 143.6 803.6 144 802.8 144.4 805.2 144.8 804.5 145.2 804.7 145.6 804 146 806.6 146.4 805 146.8 807.8 147.2 806.3 147.6 805.4 148 801 148.4 805.1 148.8 804.6 149.2 805.7 149.6 806.1 150 803 150.4 805.4 150.8 802.5 151.2 807.2 151.6 800.9 152 800.5 152.4 800.7 152.8 801.6 153.2 801.2 153.6 806.9 154 802.4 154.4 800.3 154.8 804.9 155.2 801.6 155.6 800.5 156 804.5 156.4 803.9 156.8 801.9 157.2 805.5 157.6 803 158 806 158.4 803.9 158.8 806 159.2 802.9 159.6 800.7 160 808 160.4 802.4 160.8 803.3 161.2 802.1 161.6 803.1 162 803.5 162.4 803.5 162.8 804.7 163.2 806.8 163.6 803.4 164 801.4 164.4 801.6 164.8 802.1 165.2 800.4 165.6 804.9 166 802.2 166.4 802.5 166.8 803.4 167.2 800.5 167.6 801.6 168 804.2 168.4 804.3 168.8 802.2 169.2 805.9 169.6 800.2 170 801.8 170.4 802.2 170.8 797.4 171.1 803.2 171.5 697.5 172.5 806.2 172.8 804.2 173.2 803.8 173.6 802 174 803.3 174.4 800.3 174.8 805.3 175.2 803.1 175.6 804.1 176 806.1 176.4 804.3 176.8 804.1 177.2 804.4 177.6 802.1 178 805.1 178.4 806.4 178.8 805.4 179.2 806.4 179.6 802.7 180 803.1 180.4 801.8 180.8 806.8 181.2 803.7 181.6 806.8 182 802.7 182.4 803.5 182.8 804.7 183.2 806.2 183.6 804.4 184 804.5 184.4 804.3 184.8 804.3 185.2 801.8 185.6 804 186 803.6 186.4 803.8 186.8 804.8 187.2 802.6 187.6 804.2 188 804.3 188.4 805.5 188.8 805.9 189.2 802.3 189.6 804.6 190 718 191 802.5 191.2 802.4 191.6 803.8 192 807.5 192.4 804.1 192.8 802.6 193.2 805.1 193.6 802.8 194 806.5 194.4 805.1 194.8 806.9 195.2 803 195.6 810 196 805.6 196.4 805.6 196.8 804 197.2 802 197.6 801.7 198 803 198.4 802 198.8 803.9 199.2 801.9 199.6 804.4 200 804.5 200.4 801.3 200.8 805 201.2 802.7 201.6 805.4 202 803.8 202.4 805.4 202.8 801.4 203.2 803.4 203.6 806.3 204 802.2 204.4 799.2 204.8 799.7 205.2 798.6 205.6 799.5 206 802.7 206.4 805.9 206.8 802.9 207.2 805.1 207.6 803.6 208 803.4 208.4 803.1 208.8 803.1 209.2 804 209.6 801.5 210 805.9 210.4 805.5 210.8 803.3 211.2 805.3 211.6 802.1 212 802.6 212.4 803.6 212.8 802.8 213.2 802.3 213.6 801.9 214 802.2 214.4 805.1 214.8 799.3 215.2 803.6 215.6 802.7 216 804.7 216.4 804.4 216.6 802 217 697.5 218 803.8 218 803.8 218.4 802.3 218.8 804.7 219.2 802.1 219.6 806.2 220 803.8 220.4 806.8 220.8 801.4 221.2 799.3 221.6 804.3 221.9 804.2 222.3 701 223.3 802.2 223.6 803.7 224 802.2 224.4 802.1 224.8 801.8 225.2 800 225.6 800.7 226 799 226.4 805.1 226.8 800.8 227.2 802.8 227.6 800.3 228 803.9 228.4 799 228.8 804.4 229.2 802.8 229.6 806.7 230 800 230.4 802.8 230.8 803.3 231.2 804.9 231.6 801.5 232 802.3 232.4 797.8 232.6 798.7 233 678 234 801.2 234 801.2 234.4 806 234.8 806 235.2 803.1 235.6 798.6 236 799.8 236.4 801.8 236.8 805.5 237.2 803.6 237.6 799 238 802.4 238.4 805.8 238.8 802.1 239.2 801.6 239.6 806.7 240 802.7 240.4 801.7 240.8 803.3 241.2 802.8 241.6 801.9 242 805.2 242.4 805.2 242.8 804.6 243.2 802.7 243.6 805.2 244 803.1 244.4 803.7 244.8 804.6 245.2 804.2 245.6 805.9 246 803.4 246.4 799.2 246.8 800 247.2 805.1 247.6 801.8 248 802.9 248.4 800.8 248.8 804 249.2 801.4 249.6 805 250 801.2 250.4 804.2 250.8 803.1 251.2 800.5 251.6 804.2 252 800.5 252.4 800.7 252.8 803.8 253.2 801.1 253.6 801 254 801.5 254.4 800.9 254.8 804.8 255.2 803.5 255.6 802.3 256 802.1 256.4 803.1 256.6 804 257 705 258 803.1 258 803.1 258.4 801 258.8 800.9 259.2 804.7 259.6 800.6 260 800.7 260.4 798 260.8 799 261.2 802.1 261.6 800 262 802.6 262.4 799.3 262.8 799.8 263.2 802.9 263.6 804.3 264 802.6 264.4 803.5 264.8 804.4 265.2 803.8 265.6 800.5 266 750.4 267 802 267.2 802.8 267.6 799 268 800.8 268.4 804 268.8 798.7 269.2 800.7 269.6 803.1 270 799.7 270.4 803.3 270.8 801.9 271.2 802.9 271.6 803 272 803.4 272.4 801.8 272.8 803 273.2 801.6 273.6 803.9 274 806.2 274.4 803.3 274.8 803.3 275.2 800.4 275.6 804.1 276 801.2 276.4 801 276.8 803.8 277.2 803.3 277.6 805.1 278 805.4 278.4 801.5 278.8 803.2 279.2 806.8 279.6 805 280 804.7 280.4 805.6 280.8 801.8 281.2 804.1 281.6 805.8 282 806.4 282.4 802.3 282.8 803.6 283.2 804.4 283.6 803.5 284 803 284.4 805.1 284.8 803.3 285.2 800.6 285.2 801 285.7 685 286.7 801 286.8 800.6 287.2 805.7 287.6 799.5 288 801 288.4 803.5 288.8 806.4 289.2 806.2 289.6 801.4 290 803.3 290.4 800.7 290.8 805.8 291.2 801.2 291.2 801.4 291.7 689.6 292.7 805.1 292.8 806 293.2 801.7 293.6 803.8 294 804.7 294.4 803.1 294.8 805.8 295.2 803.5 295.6 800 296 810.7 296.4 804.9 296.8 803.7 297.2 800.2 297.6 803 298 801.6 298.4 803.8 298.8 802.9 299.2 805.9 299.6 802.4 300 803.1 300.4 803 300.8 801.8 301.2 801.6 301.6 803.9 302 803.8 302.4 800.9 302.6 800.6 303 687.5 304 802.7 304 802.7 304.4 806 304.8 801.4 305.2 803.5 305.6 798.2 306 801.9 306.4 802 306.8 803.6 307.2 806.2 307.6 802.7 308 805.6 308.4 804.4 308.8 805 309.2 802.2 309.6 806 310 801.2 310.4 804.3 310.8 801.6 311.2 803 311.6 801.4 312 802.8 312.4 804.4 312.8 803.7 313.2 801.1 313.6 805.7 314 676.6 315 803 315.2 801.7 315.6 799.1 316 801 316.4 805.3 316.8 800.9 317.2 804.6 317.6 802.2 318 804.2 318.4 799.5 318.8 805.1 319.2 802.5 319.6 804.3 320 803 320.4 804 320.8 802.2 321.1 803 321.5 702.7 322.5 803.6 322.8 802.3 323.2 801.7 323.6 802 324 803.8 324.4 801.9 324.8 803.9 325.2 801.1 325.6 802.3 326 804.9 326.4 805.1 326.8 800.9 327.2 804.8 327.6 801.4 328 804.7 328.4 800 328.8 801.8 329.2 803.3 329.6 804 330 807.3 330.4 806.7 330.8 808.3 331.2 807.6 331.6 805 332 804.8 332.4 807.3 332.8 805.4 333.2 805 333.6 802.6 334 804.8 334.4 799.6 334.6 801.3 335 697 336 804.3 336 804.3 336.4 804.6 336.8 807.7 337.2 802.9 337.6 805.4 338 800.8 338.2 803.1 338.7 719 339.7 803.4 340 805 340.4 804.6 340.8 803.5 341.2 803.9 341.6 804 342 803.8 342.4 800.8 342.8 800.5 343.2 807.8 343.6 806.6 344 800.2 344.4 803.8 344.8 803.7 345.2 803.7 345.6 802.8 345.9 801.4 346.3 731.4 347.3 802.9 347.6 802.5 348 803 348.4 805.3 348.8 805.6 349.2 800.9 349.6 802.1 350 801.8 350.4 805.7 350.8 803.5 351.2 806.3 351.6 802.7 352 804 352.4 801.4 352.8 806.3 353.2 803 353.6 800.9 354 802.5 354.4 799.5 354.8 804.3 355.2 804.6 355.6 804.9 356 807.3 356.4 803.7 356.8 806.2 357.2 805.3 357.6 804.1 358 800.3 358.4 805.8 358.8 803.1 359.2 803.9 359.6 801.4 360 804 360.4 803.6 360.8 803.2 361.2 802.6 361.6 805 362 804.7 362.4 804 362.8 809.3 363.2 801.9 363.6 802.3 364 801.3 364.4 803.7 364.8 801.5 365.2 797.5 365.6 800 366 802.3 366.4 804.4 366.8 799.2 367.2 800.9 367.6 801.7 368 800.9 368.4 803.3 368.8 802.2 369.2 803 369.6 800.7 370 805.2 370.4 802.1 370.8 804.5 371.2 801.6 371.6 803.7 372 801.5 372.4 801 372.8 801.1 373.2 802.3 373.6 802 374 805.3 374.4 800.3 374.8 800.1 375.2 805.5 375.6 803.4 376 798.8 376.4 803 376.8 802.4 377.2 797.8 377.6 801.2 378 801.9 378.4 803.5 378.8 804.1 379.2 802.3 379.6 804.4 380 802 380.4 801 380.8 801.1 381.2 803.8 381.6 799.1 382 803.8 382.4 801.1 382.8 802.4 383.2 804.1 383.6 805.5 384 799.7 384.4 801.7 384.8 803.7 385.2 802.6 385.6 805.4 386 799.7 386.4 804.4 386.8 804.3 387.2 803.6 387.6 805.8 388 801.6 388.4 805.8 388.8 801.8 389.2 804.7 389.6 802.8 390 805 390.4 804.7 390.8 800.4 391.2 803.2 391.6 803.2 392 803.3 392.4 801.9 392.8 806.8 393.2 803.8 393.6 806.3 394 801.8 394.4 801 394.8 802.7 395.2 801.5 395.6 807.2 396 803 396.2 804 396.7 754 397.7 802 398 802.3 398.4 803.4 398.8 801.8 399.2 800.4 399.6 799.7 400 801.6 400.4 802.6 400.8 802.2 401.2 801 401.6 800.3 402 801.7 402.4 802.4 402.8 801.1 403.2 801.4 403.6 801.1 404 803.3 404.4 801 404.6 801.6 405 732.7 406 805.3 406 805.3 406.4 803.8 406.8 803.9 407.2 799.9 407.6 803.9 408 807.1 408.4 801.3 408.8 801 409.2 802.5 409.6 804.7 410 803.9 410.4 802.3 410.8 803 411.2 805.1 411.6 804.3 412 807.5 412.4 805 412.8 803.9 413.2 804.3 413.6 802 414 801 414.4 802.7 414.8 803.2 415.2 799.4 415.6 801 416 801.6 416.4 803 416.8 802.3 417.2 803.8 417.6 803.3 418 805.2 418.4 800 418.8 806.1 419.2 805.8 419.6 803.3 420 804.1 420.4 803.8 420.8 801.1 421.2 802.7 421.6 803.4 422 802.5 422.4 803.8 422.8 802 423.2 801.8 423.6 800.4 424 801.1 424.4 801 424.8 805.2 425.2 802.2 425.6 800.2 426 802.7 426.4 801.4 426.8 795.9 427.2 802.8 427.6 798.9 428 802.9 428.4 799.9 428.8 799.1 429.2 803.1 429.6 799.1 430 801.4 430.4 802.7 430.8 804 431.2 804 431.6 802.7 432 801.2 432.4 806.4 432.8 801.6 433.2 806.2 433.6 802 434 805 434.4 805 434.8 800.9 435.2 803.7 435.6 804.3 436 804 436.4 802.6 436.8 803.4 437.2 802 437.6 800.5 438 804.5 438.4 801.3 438.8 805.1 439.2 803.6 439.6 801.2 440 802.8 440.4 802.7 440.8 801.4 441.2 804.4 441.6 802.4 442 806.6 442.4 805.3 442.8 802.1 443.2 803.8 443.6 803.6 444 800.9 444.4 805.6 444.8 805.8 445.2 805.5 445.6 802.7 446 805.7 446.4 803.1 446.8 805.2 447.2 806.7 447.6 803.4 448 800.7 448.4 802.9 448.8 804.7 449.2 805.6 449.6 800.8 450 802.4 450.4 803.1 450.8 803.8 451.2 804.7 451.6 801.2 452 802.1 452.4 804.5 452.8 803.4 453.2 803.9 453.6 804.9 454 803.3 454.4 804 454.8 802 455.2 800.5 455.6 800.5 456 803.2 456.4 802.8 456.8 801.8 457.2 803.8 457.6 801.7 458 803.7 458.4 803.4 458.8 802.1 459.2 799.2 459.6 806.4 460 804.2 460.4 798.4 460.8 802.1 461.2 803.6 461.6 802.5 462 803.8 462.4 801 462.8 803.2 463.2 802.3 463.6 802.4 464 802.6 464.4 803.2 464.8 805 465.2 801.9 465.6 802.4 466 803.5 466.4 803.3 466.8 804.2 467.2 804.9 467.6 806 468 803.1 468.4 798.6 468.8 802.7 469.2 803.9 469.6 802.8 470 681.6 472.5 716.9 472.8 712.4 473.2 723.3 473.6 728.4 474 735.9 474.4 743.7 474.8 741.9 475.2 764.4 475.6 776.8 476 777.5 476.4 787.3 476.8 785.6 477.2 778.1 477.6 777.6 478 780.1 478.4 778.8 478.8 785 479.2 753.3 479.6 733.4 480 718.7 480.4 708.6 480.8 712.3 481.2 701.7 482.7 672.2 484.2 713 484.4 719.3 484.8 707.8 485.2 713.1 485.6 722 486 733.1 486.4 758.7 486.8 767.4 487.2 780 487.6 787 488 787.6 488.4 794.7 488.8 798.3 489.2 798 489.6 806.6 490 799.2 490.4 798.8 490.8 793 491.2 792 491.6 776.7 492 777.7 492.4 772.6 492.5 774.2 494 665.6 495.5 781.6 495.6 781.9 496 785.8 496.4 781 496.8 793.7 497.2 797.4 497.6 789.8 498 790.2 498.4 795 498.8 806.4 499.2 808.2 499.6 807.7 500 799.6 500.4 802.1 500.8 800.6 501.2 793.2 501.6 797.5 502 797.1 502.4 796.4 502.8 796.8 503.2 796.4 503.6 799.8 504 796 504.4 796.5 504.8 797 505.2 797.3 505.6 794.2 506 800.6 506.4 798.5 506.8 799.2 507.2 798.1 507.6 797.5 508 797 508.4 797.3 508.8 797.3 509.2 798.8 509.6 797.1 510 796.2 510.4 799.8 510.8 793.2 511.2 794 511.6 799 511.8 799.5 512.3 718.7 513.3 804.2 513.6 806.6 514 803.5 514.4 806.6 514.8 805.3 515.2 804.5 515.6 804.6 516 805.1 516.4 799.7 516.8 804.8 517.2 803.4 517.6 807.2 518 802.6 518.4 806.1 518.8 798.9 519.2 805.2 519.6 804.3 520 803.3 520.4 803.6 520.8 803.4 521.2 804.6 521.6 803.4 522 800.1 522.4 803.1 522.8 807.6" fill="none" stroke="#000" stroke-width="2.7" stroke-linejoin="round"/>
<path d="M613 799.8 613.4 800.3 613.8 797 614.2 803 614.6 797.5 615 798.9 615.4 801.2 615.8 798.5 616.2 798.7 616.6 798.6 617 800.9 617.4 803.8 617.8 800.1 618.2 798.5 618.6 801.1 619 799.4 619.4 800.4 619.8 802.2 620.2 799.4 620.6 800.7 621 799.3 621.4 800.2 621.8 800.8 622.2 798.6 622.6 799.5 623 799.6 623.4 798.8 623.8 798 624.2 797.6 624.6 799.9 625 799.8 625.4 803.7 625.8 796.3 626.2 800.6 626.6 801.4 627 802.8 627.4 801.3 627.8 799 628.2 800.1 628.6 800.6 629 799.2 629.4 801 629.8 796.7 630.2 802.1 630.6 801.5 631 798.4 631.4 800.1 631.8 799.3 632.2 797.7 632.6 799.3 633 800.6 633.4 798.4 633.8 798.2 634.2 799 634.6 799.6 635 800.9 635.4 797.8 635.8 799.6 636.2 798.8 636.6 795.3 637 797.9 637.4 798.2 637.8 798.6 638.2 799.3 638.6 795.9 639 799.3 639.4 798.1 639.8 796.9 640.2 800.3 640.6 800.6 641 798.4 641.4 800.9 641.8 799.2 642.2 800.3 642.6 798.6 643 802.9 643.4 796.4 643.8 800.7 644.2 801.9 644.6 797.8 645 800.8 645.4 800.9 645.8 802.5 646.2 803.6 646.6 800.9 647 799.4 647.4 802.5 647.8 801 648.2 796.8 648.6 796.8 649 795.2 649.4 794.3 649.8 792.7 650.2 793 650.6 786.5 651 789.4 651.4 786.8 651.8 784.8 652.2 788.5 652.6 784 653 790.8 653.4 790.7 653.8 789.8 654.2 793.4 654.6 793.2 655 799.2 655.4 799.2 655.8 798.1 656.2 796.6 656.6 796.8 657 797 657.4 796.8 657.8 796.2 658.2 797 658.6 797.6 659 797.6 659.4 797 659.8 796.4 660.2 802.3 660.6 796 661 796.9 661.4 799.1 661.8 798 662.2 799.1 662.6 799.7 663 800.6 663.4 800 663.8 796.8 664.2 799.9 664.6 795.4 665 798 665.4 797.5 665.8 796.6 666.2 799.4 666.6 798.1 667 800.4 667.4 796.5 667.8 800.1 668.2 799.5 668.6 799 669 796.6 669.4 798.7 669.8 796.3 670.2 795.3 670.6 804 671 800.5 671.4 802.1 671.8 798.7 672.2 800.2 672.6 800.4 673 800.4 673.4 799.2 673.8 798.8 674.2 796.2 674.6 800.4 675 800.1 675.4 801.3 675.8 799.1 676.2 802.4 676.6 799 677 797.7 677.4 801 677.8 799.1 678.2 797.9 678.6 799.8 679 800.9 679.4 800.1 679.8 801.3 680.2 807 680.6 801.6 681 802.8 681.4 797.4 681.8 800.7 682.2 801.5 682.6 799.6 683 798.8 683.4 801.2 683.8 800.3 684.2 799.8 684.6 802.9 685 803.4 685.4 801.6 685.8 800.7 686.2 802.1 686.6 802.4 687 802 687.4 798.6 687.8 800.1 688.2 800.5 688.6 800 689 799.3 689.4 797.7 689.8 793.3 690.2 793.1 690.6 791.2 691 795 691.4 791.1 691.8 791 692.2 791.5 692.6 790.3 693 789.6 693.4 791.6 693.8 792.7 694.2 796.2 694.6 795.8 695 793.2 695.4 796.9 695.8 797.9 696.2 796.1 696.6 799 697 797 697.4 800.5 697.8 799.4 698.2 797.5 698.6 798.4 699 799.8 699.4 798.9 699.8 800.1 700.2 800.6 700.6 798.1 701 798.8 701.4 802.9 701.8 799.5 702.2 798.4 702.6 799.6 703 797.5 703.4 801.3 703.8 800 704.2 801.2 704.6 800.8 705 800 705.4 801.2 705.8 799.8 706.2 798.1 706.6 797.3 707 798.5 707.4 795.1 707.8 801.7 708.2 796.8 708.6 799.2 709 797.2 709.4 795.6 709.8 798.2 710.2 797.9 710.6 798 711 799.4 711.4 797.3 711.8 798.8 712.2 798.9 712.6 797.8 713 797.9 713.4 799.1 713.8 798.2 714.2 798.5 714.6 794.7 715 798.7 715.4 798.7 715.8 797.8 716.2 798.2 716.6 800.4 717 797.5 717.4 798.3 717.8 796.6 718.2 796.3 718.6 797.1 719 796.8 719.4 798.9 719.8 797.7 720.2 798.8 720.6 796.9 721 796.1 721.4 797.8 721.8 797.2 722.2 797.6 722.6 797.7 723 797.8 723.4 800 723.8 800.5 724.2 799.3 724.6 797.5 725 800.9 725.4 796.2 725.8 795.4 726.2 799.8 726.6 799.7 727 799.3 727.4 799.6 727.8 796.6 728.2 797.7 728.6 801.5 729 800.7 729.4 797.6 729.8 801.9 730.2 797.5 730.6 798.3 731 799.8 731.4 797.4 731.8 798.4 732.2 798.9 732.6 798.8 733 801 733.4 800.6 733.8 798.1 734.2 798.9 734.6 800.2 735 799.6 735.4 798.3 735.8 800.3 736.2 800.7 736.6 798.4 737 800.6 737.4 796.8 737.8 797 738.2 800.1 738.6 798 739 797.5 739.4 798.8 739.8 798.1 740.2 799.3 740.6 796.5 741 798.4 741.4 804.3 741.8 799.8 742.2 796.8 742.6 800.6 743 799.8 743.4 801.3 743.8 799.4 744.2 797.9 744.6 801.4 745 800 745.4 796.2 745.8 800.1 746.2 798.6 746.6 800.5 747 798.1 747.4 799.9 747.8 798.7 748.2 799 748.6 798.1 749 797.5 749.4 798.5 749.8 799.4 750.2 799.1 750.6 801.1 751 799.2 751.4 799.1 751.8 801.6 752.2 798.3 752.6 799.1 753 797.5 753.4 798.5 753.8 800.9 754.2 798.9 754.6 800.4 755 796.6 755.4 796.1 755.8 799 756.2 796.4 756.6 803 757 800.7 757.4 796.7 757.8 798.7 758.2 798.3 758.6 799.6 759 798.8 759.4 800.4 759.8 801.2 760.2 798.5 760.6 796.9 761 799.5 761.4 798.7 761.8 800.4 762.2 798.2 762.6 799.5 763 799.2 763.4 798.4 763.8 798 764.2 799.7 764.6 802.5 765 799.8 765.4 798.2 765.8 799.3 766.2 798.1 766.6 796 767 798.6 767.4 800.6 767.8 797.6 768.2 796 768.6 798.5 769 801 769.4 799.7 769.8 799.5 770.2 801.6 770.6 800.6 771 799.5 771.4 797.7 771.8 798.3 772.2 798 772.6 799.5 773 796.4 773.4 800.5 773.8 798.3 774.2 797.8 774.6 799.9 775 794.9 775.4 797 775.8 797.5 776.2 799.8 776.6 798 777 800.8 777.4 797.9 777.8 799.4 778.2 797.6 778.6 800.5 779 797.8 779.4 798.7 779.8 797.3 780.2 796.2 780.6 797.6 781 799.5 781.4 796.2 781.8 795.4 782.2 797.3 782.6 799.1 783 796.3 783.4 796.7 783.8 798.2 784.2 797.1 784.6 798 785 799.8 785.4 798 785.8 798 786.2 799.6 786.6 798.1 787 797.2 787.4 797 787.8 796.9 788.2 802 788.6 798.7 789 799.9 789.4 800.3 789.8 797.8 790.2 800.3 790.6 798.6 791 796 791.4 799.3 791.8 798 792.2 799 792.6 800.2 793 803.3 793.4 799 793.8 799.1 794.2 800.4 794.6 800.2 795 799.6 795.4 797.8 795.8 797.9 796.2 799.1 796.6 797.6 797 798 797.4 797.1 797.8 801.1 798.2 796.8 798.6 802.2 799 798.3 799.4 797.6 799.8 797 800.2 800.2 800.6 800.6 801 798.1 801.4 800.1 801.8 799.2 802.2 798.9 802.6 799.6 803 800.4 803.4 796 803.8 795.8 804.2 799.3 804.6 798.9 805 800.1 805.4 796.7 805.8 797.8 806.2 801.7 806.6 797.3 807 800.2 807.4 798.4 807.8 798.9 808.2 797.5 808.6 801.9 809 797.2 809.4 798.3 809.8 798.8 810.2 801.9 810.6 800.3 811 800.9 811.4 799.7 811.8 800 812.2 800.6 812.6 802.2 813 800.3 813.4 797.9 813.8 801.9 814.2 800.1 814.6 798 815 799.2 815.4 798.1 815.8 803 816.2 799.1 816.6 796.2 817 799.5 817.4 797.7 817.8 801.2 818.2 799.2 818.6 796.2 819 798.1 819.4 797.2 819.8 798.1 820.2 798.5 820.6 796.5 821 799.7 821.4 797.8 821.8 797.7 822.2 800.4 822.6 802.3 823 798.5 823.4 802.3 823.8 796.4 824.2 800.8 824.6 798.8 825 800 825.4 798.3 825.8 799.1 826.2 799.7 826.6 799.8 827 801.4 827.4 804 827.8 799.3 828.2 800.2 828.6 797.7 829 796.7 829.4 803 829.8 798.6 830.2 799.4 830.6 800.6 831 802.1 831.4 801.3 831.8 803.7 832.2 800.2 832.6 797.5 833 800.5 833.4 800.4 833.8 799 834.2 800 834.6 799.7 835 803.3 835.4 799.5 835.8 798.2 836.2 800.7 836.6 797.4 837 800.8 837.4 801.2 837.8 798.9 838.2 799.5 838.6 799.3 839 802.8 839.4 800.9 839.8 798.1 840.2 798.5 840.6 800.5 841 800.5 841.4 799.2 841.8 801 842.2 797.6 842.6 794.2 843 787.4 843.4 780.8 843.8 775.1 844.2 767.6 844.6 765.2 845 764.5 845.4 768.9 845.8 775.1 846.2 780.2 846.6 790.6 847 791.9 847.4 799.6 847.8 801.1 848.2 799.4 848.6 800.6 849 800 849.4 800.7 849.8 800.7 850.2 801.1 850.6 801.2 851 799.5 851.4 799.2 851.8 799.3 852.2 798.9 852.6 797.5 853 801.1 853.4 800 853.8 800 854.2 797.5 854.6 797.3 855 795.5 855.4 799.7 855.8 801.6 856.2 801.6 856.6 801 857 799.5 857.4 801.2 857.8 801 858.2 801.8 858.6 802.2 859 800.5 859.4 800.9 859.8 802.4 860.2 802.1 860.6 800.9 861 797.4 861.4 800.1 861.8 802.3 862.2 801.1 862.6 802.3 863 800.4 863.4 801.3 863.8 802.6 864.2 802.3 864.6 802.1 865 803.4 865.4 803.8 865.8 803.9 866.2 799 866.6 800.8 867 800.9 867.4 800.6 867.8 798.8 868.2 803.5 868.6 799.6 869 801.6 869.4 797.9 869.8 801 870.2 801.7 870.6 800.7 871 803.4 871.4 806.1 871.8 801.3 872.2 801.4 872.6 805.4 873 803.5 873.4 801.7 873.8 799.8 874.2 803.3 874.6 802.3 875 804.6 875.4 800.7 875.8 801.7 876.2 801.4 876.6 801.4 877 803.6 877.4 803 877.8 800.9 878.2 801.8 878.6 801.6 879 803 879.4 801.1 879.8 799.4 880.2 800.3 880.6 800.5 881 801.9 881.4 802.2 881.8 801.8 882.2 800.4 882.6 799.2 883 800.7 883.4 799.8 883.8 799.1 884.2 800.5 884.6 800.7 885 801.2 885.4 798.2 885.8 796.9 886.2 800.1 886.6 797.6 887 800.6 887.4 797.5 887.8 798.2 888.2 796 888.6 802 889 797.8 889.4 798.4 889.8 797.7 890.2 797.9 890.6 799.8 891 799 891.4 799.2 891.8 801.5 892.2 797.2 892.6 801.4 893 802.1 893.4 797.3 893.8 800.2 894.2 797.5 894.6 796.2 895 798.2 895.4 800.9 895.8 801.2 896.2 799.5 896.6 798.9 897 799.6 897.4 799 897.8 799.1 898.2 796.7 898.6 800.6 899 800.7 899.4 804.1 899.8 801.7 900.2 800.8 900.6 801.2 901 801.4 901.4 799.4 901.8 797.2 902.2 799.7 902.6 800.2 903 800.8 903.4 799.4 903.8 799.3 904.2 800.7 904.6 801.4 905 802 905.4 800.4 905.8 801.6 906.2 799.2 906.6 802.2 907 800.8 907.4 798.7 907.8 800.5 908.2 800.7 908.6 798.5 909 801.4 909.4 800 909.8 801.3 910.2 798.7 910.6 800.5 911 801.3 911.4 799.5 911.8 799.4 912.2 798.7 912.6 800.4 913 800 913.4 800.9 913.8 799.7 914.2 797.9 914.6 797.8 915 799.2 915.4 800.8 915.8 803.8 916.2 801.5 916.6 798.9 917 796.6 917.4 800.5 917.8 799.4 918.2 797.5 918.6 800.8 919 799.5 919.4 798.6 919.8 796 920.2 800.7 920.6 799.4 921 798.9 921.4 798 921.8 799.1 922.2 801.5 922.6 800.2 923 802.8 923.4 801.4 923.8 800.1 924.2 800.8 924.6 799.4 925 797 925.4 797.8 925.8 799.2 926.2 796.9 926.6 797.2 927 796.1 927.4 801 927.8 796.5 928.2 797.2 928.6 797.9 929 801.1 929.4 801.4 929.8 799 930.2 800.6 930.6 798.1 931 799.5 931.4 803.8 931.8 801.2 932.2 799.5 932.6 797.4 933 799 933.4 797.3 933.8 796 934.2 800.7 934.6 800.8 935 800.2 935.4 801.8 935.8 798 936.2 803.1 936.6 799.6 937 801.8 937.4 802.1 937.8 802.6 938.2 804 938.6 800.9 939 799.7 939.4 798.4 939.8 800.3 940.2 797.5 940.6 794.5 941 793.8 941.4 792.3 941.8 788.3 942.2 787.4 942.6 791.4 943 791.7 943.4 793.5 943.8 800.2 944.2 799.2 944.6 801.7 945 796.1 945.4 800.1 945.8 797.7 946.2 802.4 946.6 797.9 947 797.8 947.4 799.1 947.8 799.2 948.2 798 948.6 800.6 949 800.1 949.4 800.6 949.8 800.2 950.2 798.7 950.6 798.7 951 800.8 951.4 798.5 951.8 802.8 952.2 800.1 952.6 799.2 953 802 953.4 800.3 953.8 802.8 954.2 801.2 954.6 803.9 955 800.7 955.4 798.1 955.8 799.3 956.2 799 956.6 802.7 957 804.6 957.4 801.5 957.8 799.5 958.2 802.8 958.6 802.2 959 800.9 959.4 802.3 959.8 801.6 960.2 799.6 960.6 802.6 961 800.9 961.4 800.2 961.8 801.2 962.2 804.3 962.6 804.7 963 804.1 963.4 801.1 963.8 800 964.2 802.2 964.6 801.2 965 801.5 965.4 799.2 965.8 799.7 966.2 799.5 966.6 802.5 967 802.9 967.4 800.1 967.8 802.2 968.2 802.3 968.6 800.2 969 801.4 969.4 802.5 969.8 799.3 970.2 802.9 970.6 800.7 971 801 971.4 800.4 971.8 798.4 972.2 801.2 972.6 800.7 973 799.7 973.4 800.1 973.8 801.3 974.2 800.4 974.6 799.7 975 800.9 975.4 802.2 975.8 800.9 976.2 799.7 976.6 802.3 977 800.6 977.4 802 977.8 800.9 978.2 799.5 978.6 798.9 979 799.4 979.4 800.7 979.8 797.9 980.2 801.9 980.6 802.9 981 800.5 981.4 799.3 981.8 798.3 982.2 801.5 982.6 801.7 983 801.5 983.4 802.1 983.8 800.1 984.2 801 984.6 802.1 985 801 985.4 799.3 985.8 796.7 986.2 793 986.6 789 987 787.2 987.4 787.8 987.8 781.8 988.2 781.5 988.6 777.4 989 780.3 989.4 777.2 989.8 780.6 990.2 780.2 990.6 788.7 991 783.4 991.4 787.7 991.8 787.3 992.2 790.7 992.6 785.9 993 785.3 993.4 782.2 993.8 782.5 994.2 781.3 994.6 782.2 995 774 995.4 781.3 995.8 783 996.2 784.1 996.6 787.1 997 789.7 997.4 791.3 997.8 793.3 998.2 793.6 998.6 794.7 999 796.6 999.4 795.2 999.8 796.3 1000.2 797.6 1000.6 798.7 1001 799.5 1001.4 799.3 1001.8 796.8 1002.2 801.2 1002.6 801.4 1003 801.9 1003.4 800.4 1003.8 801.1 1004.2 799.3 1004.6 797.9 1005 799.5 1005.4 799.2 1005.8 801.1 1006.2 800.8 1006.6 798.9 1007 800 1007.4 800.4 1007.8 800.6 1008.2 802.8 1008.6 799.7 1009 802.4 1009.4 798.3 1009.8 799.6 1010.2 803.2 1010.6 801.4 1011 800.7 1011.4 801.5 1011.8 800.2 1012.2 800.8 1012.6 801.5 1013 801.3 1013.4 801.6 1013.8 800.2 1014.2 800 1014.6 795.5 1015 795 1015.4 791.1 1015.8 773.1 1016.2 748.9 1016.6 723.5 1017 699 1017.4 695.5 1017.8 692.4 1018.2 689.2 1018.6 683.7 1019 678.8 1019.4 676.5 1019.8 671.9 1020.2 670.9 1020.6 670.6 1021 670.9 1021.4 663.8 1021.8 664.9 1022.2 664.8 1022.6 664.7 1023 663.6 1023.4 661.8 1023.8 661.9 1024.2 660.2 1024.6 662.3 1025 664.7 1025.4 663.6 1025.8 668.9 1026.2 667.2 1026.6 668 1027 672 1027.4 673.6 1027.8 681.1 1028.2 686.5 1028.6 694.1 1029 702 1029.4 702.3 1029.8 705.5 1030.2 712.5 1030.6 716.9 1031 718 1031.4 724.2 1031.8 730.2 1032.2 732.4 1032.6 734.3 1033 738.6 1033.4 740.5 1033.8 746.4 1034.2 750 1034.6 756.3 1035 754.9 1035.4 758.4 1035.8 763.9 1036.2 769 1036.6 765.7 1037 770.8 1037.4 770.3 1037.8 769.4 1038.2 770.5 1038.6 771.9 1039 769.4 1039.4 772.6 1039.8 775.1 1040.2 772.4 1040.6 773.5 1041 772.8 1041.4 773.4 1041.8 775.4 1042.2 775.6 1042.6 773.4 1043 780.8 1043.4 778 1043.8 777.9 1044.2 776.6 1044.6 778.8 1045 778.5 1045.4 781 1045.8 777.3 1046.2 780.3 1046.6 777.9 1047 779.8 1047.4 782.9 1047.8 777.8 1048.2 778.9 1048.6 780 1049 778.2 1049.4 780.6 1049.8 778.3 1050.2 776.9 1050.6 780.4 1051 779 1051.4 778.9 1051.8 779.2 1052.2 780.3 1052.6 780.7 1053 778.5 1053.4 783.1 1053.8 785 1054.2 779.5 1054.6 781.4 1055 780.3 1055.4 780.3 1055.8 781.7 1056.2 783.9 1056.6 784.2 1057 781.4 1057.4 781.7 1057.8 782.3 1058.2 778.4 1058.6 783.8 1059 783.9 1059.4 780.2 1059.8 784.8 1060.2 779.2 1060.6 784 1061 782.3 1061.4 781.1 1061.8 782.9 1062.2 782.2 1062.6 782.5 1063 782.7 1063.4 780.5 1063.8 781.8 1064.2 784.2 1064.6 786.3 1065 784.9 1065.4 785.9 1065.8 782.8" fill="none" stroke="#000" stroke-width="2.7" stroke-linejoin="round"/>
<path d="M69 1130.8 69.4 1125.6 69.8 1124.4 70.2 1117.3 70.6 1123.2 71 1122.9 71.4 1123.8 71.8 1121.6 72.2 1124 72.6 1122.3 73 1119.1 73.4 1127 73.8 1126.7 74.2 1129.9 74.6 1124 75 1122.6 75.4 1122.1 75.8 1118.4 76.2 1127.7 76.6 1120.3 77 1120.6 77.4 1124.3 77.8 1130.3 78.2 1125.8 78.6 1121.2 79 1122.5 79.4 1127.6 79.8 1124.9 80.2 1122.6 80.6 1124.5 81 1128.2 81.4 1132.6 81.8 1120.9 82.2 1122.6 82.6 1122.4 83 1116.8 83.4 1122.2 83.8 1122 84 1126.8 84.5 1114 85.5 1127.1 85.8 1124.4 86.2 1119.3 86.6 1123.3 87 1123.1 87.4 1121.6 87.8 1124.9 88.2 1116.7 88.6 1123.9 89 1128.1 89.4 1127.4 89.8 1128.2 90.2 1128.2 90.6 1129.4 91 1119.8 91.4 1127.1 91.8 1117.8 92.2 1122.6 92.6 1117.6 93 1128.2 93.4 1129.1 93.8 1123.9 94.2 1130.9 94.6 1122.1 95 1125.1 95.4 1125.3 95.8 1121 96.2 1126.2 96.6 1131.5 97 1120.5 97.4 1127.9 97.8 1124.2 98.2 1131.2 98.6 1126.5 99 1127.5 99.4 1127.6 99.8 1126.2 100.2 1120.4 100.6 1130.5 101 1120.7 101.4 1126.3 101.8 1127.5 102.2 1122.1 102.6 1125.5 103 1129.3 103.4 1125.1 103.8 1121.8 104.2 1114.7 104.6 1121.5 105 1122.9 105.4 1123.2 105.8 1121.3 106.2 1126.3 106.6 1122.7 107 1124.4 107.4 1127.2 107.8 1122.1 108.2 1124.2 108.6 1132.9 109 1128.1 109.4 1120.4 109.8 1124.9 110.2 1127.4 110.6 1129.7 111 1125.6 111.4 1123 111.8 1122.2 112.2 1127.4 112.6 1126.2 113 1123.3 113.4 1124.5 113.8 1123.9 114.2 1127.8 114.6 1122.8 115 1127.2 115.4 1128.3 115.8 1127.4 116.2 1122.9 116.6 1131 117 1124 117.4 1127.4 117.8 1122.8 118.2 1119 118.6 1126.2 119 1126.5 119.4 1125 119.8 1126.1 120.2 1122.6 120.6 1122.2 121 1124.5 121.4 1132.1 121.8 1128 122.2 1122.7 122.6 1126.4 123 1122.4 123.4 1122.4 123.8 1127.2 124.2 1122.4 124.6 1118 125 1120.1 125.4 1123.8 125.8 1123.6 126.2 1127.3 126.6 1120.1 127 1125.4 127.4 1124.5 127.8 1122.5 128.2 1126.6 128.6 1125.3 129 1120.3 129.4 1127.5 129.8 1119 130.2 1123.2 130.6 1123 131 1124.5 131.4 1120.5 131.8 1123.2 132.2 1123.5 132.6 1127.8 133 1121.5 133.4 1124.6 133.8 1123.4 134.2 1119.5 134.6 1134 135 1124.7 135.4 1119.9 135.8 1130.7 136.2 1121.6 136.6 1126.7 137 1128 137.4 1122.8 137.8 1123.5 138.2 1122.8 138.6 1124.4 139 1119 139.4 1120.2 139.8 1124.4 140.2 1128.9 140.6 1127.6 141 1131.6 141.4 1127.8 141.8 1123.4 142.2 1124.5 142.6 1117.7 143 1121.6 143.4 1121.4 143.8 1126 144.2 1127.5 144.6 1123 145 1122.4 145.4 1118.6 145.8 1123.6 146.2 1125.1 146.6 1125.9 147 1121.5 147.4 1131.7 147.8 1129.3 148.2 1124.7 148.6 1123.4 149 1124.4 149.4 1126.2 149.8 1125.7 150.2 1127.4 150.6 1128.5 151 1130.8 151.4 1129.7 151.8 1125.3 152.2 1127.1 152.6 1124.4 153 1123.4 153.4 1132.4 153.8 1123.8 154.2 1132.9 154.6 1124.7 155 1127.2 155.4 1130.5 155.8 1126.7 156.2 1128 156.6 1125.8 157 1124.9 157.4 1125.8 157.8 1123.9 158.2 1132.1 158.6 1125.5 159 1132.1 159.4 1116.1 159.8 1125.4 160.2 1127.3 160.6 1124.1 161 1128.6 161.4 1127.3 161.8 1124.1 162.2 1126.4 162.6 1134.9 163 1125.6 163.4 1125.7 163.8 1122.9 164.2 1124.4 164.6 1119.4 165 1123.1 165.4 1132.8 165.8 1127.7 166.2 1126.3 166.6 1127.8 167 1130.6 167.4 1125.9 167.8 1131.1 168.2 1127.7 168.6 1124.2 169 1129.9 169.4 1115.2 169.8 1122.3 170.2 1125.5 170.6 1121.2 171 1124.2 171.4 1122.3 171.8 1122.3 172.2 1134.4 172.6 1126.9 173 1124.8 173.4 1129.8 173.8 1124.2 174.2 1128.6 174.6 1126.7 175 1131.5 175.4 1120.4 175.8 1128.3 176.2 1125.9 176.6 1121.5 177 1129.6 177.4 1122.4 177.8 1131.3 178.2 1127.2 178.6 1128 179 1125.8 179.4 1128.7 179.8 1118.3 180.2 1125.1 180.6 1122.1 181 1125.5 181.4 1124.5 181.8 1127.2 182.2 1121.9 182.6 1131.6 183 1133.4 183.4 1124.3 183.8 1124.8 184.2 1126 184.6 1129.3 185 1131.5 185.4 1120.5 185.8 1122.7 186.2 1121.2 186.6 1121.2 187 1048 188 1126 188.2 1130.8 188.6 1128.7 189 1121.9 189.4 1121.7 189.8 1123.5 190.2 1131 190.6 1123.3 191 1121 191.4 1126 191.8 1127.3 192.2 1123.6 192.6 1131.8 193 1126.4 193.4 1127.6 193.8 1123.1 194.2 1125.8 194.6 1125.6 195 1118 195.4 1126.8 195.8 1119 196.2 1125.3 196.6 1119.9 197 1132.6 197.4 1126.7 197.8 1128.5 198.2 1128.7 198.6 1120.8 199 1117.1 199.4 1124.9 199.8 1129.2 200.2 1126.6 200.6 1129.4 201 1130.1 201.4 1121.4 201.8 1127.9 202.2 1134.3 202.6 1124.7 203 1119.7 203.4 1125.8 203.8 1124.9 204.2 1128.1 204.6 1123.2 205 1126.9 205.4 1118.7 205.8 1130.2 206.2 1132.4 206.6 1131.1 207 1120.7 207.4 1127.3 207.8 1115.4 208.2 1127.1 208.6 1125.5 209 1122.5 209.4 1126.9 209.8 1126.1 210.2 1128.5 210.6 1125.1 211 1125.1 211.4 1117.4 211.8 1120.2 212.2 1122.2 212.6 1125.7 213 1124.5 213.4 1129.6 213.8 1121.4 214.2 1123.8 214.6 1125.6 215 1123.6 215.4 1126.5 215.8 1122.4 216.2 1129.9 216.6 1123.8 217 1129.2 217.4 1125 217.8 1130.4 218.2 1120 218.6 1126.7 219 1123.1 219.4 1125.5 219.8 1129.1 220.2 1120.9 220.6 1120.5 221 1122 221.4 1126.2 221.8 1118.3 222.2 1125.7 222.6 1120.3 223 1120.7 223.4 1124.1 223.8 1126.8 224.2 1122.8 224.6 1123.4 225 1125.2 225.4 1124.4 225.8 1116 226.2 1123.7 226.6 1125.5 227 1129.3 227.4 1133 227.8 1128.1 228.2 1125.7 228.6 1122.4 229 1126 229.4 1128.4 229.8 1129.9 230.2 1122.4 230.6 1126.4 231 1128.5 231.4 1132.2 231.8 1126.2 232.2 1123 232.6 1122.8 233 1123.8 233.4 1122.6 233.8 1128.1 234.2 1129 234.6 1127.6 235 1129.4 235.4 1123.4 235.8 1126.1 236.2 1123.7 236.6 1125.3 237 1129.3 237.4 1124.6 237.8 1118.1 238.2 1124.4 238.6 1122.4 239 1119.8 239.4 1122.5 239.8 1129 240.2 1131.5 240.6 1123.8 241 1129.1 241.4 1129.9 241.8 1121.8 242.2 1125.9 242.6 1125.6 243 1126.6 243.4 1120 243.8 1124.2 244.2 1129.5 244.6 1130.3 245 1132.4 245.4 1124.5 245.8 1132.4 246.2 1128 246.6 1120.5 247 1128.2 247.4 1124.3 247.8 1127.1 248.2 1124.8 248.6 1129.8 249 1126.3 249.4 1124.1 249.8 1128.8 250.2 1126.1 250.6 1123.6 251 1129.3 251.4 1123.4 251.8 1122.7 252.2 1122.9 252.6 1119.9 253 1123.1 253.4 1132.1 253.8 1122.1 254.2 1125.4 254.6 1121.4 255 1122.8 255.4 1130.7 255.8 1128.8 256.2 1123.3 256.6 1125.8 257 1122.9 257.4 1122.7 257.8 1122.4 258.2 1122.5 258.6 1126.9 259 1127.9 259.4 1127.9 259.8 1125.5 260.2 1120.5 260.6 1123.8 261 1119.4 261.4 1124.3 261.8 1122.2 262.2 1121.6 262.6 1116.2 263 1109.6 263.4 1118.1 263.8 1117.7 264.2 1106.1 264.6 1110.5 265 1113.2 266 991 267.5 1112.9 267.8 1112 268.2 1119.7 268.6 1111.4 269 1127 269.4 1117.9 269.8 1122.3 270.2 1120.5 270.6 1124.1 271 1126.5 271.4 1121.3 271.8 1127.1 272.2 1123.6 272.6 1122.3 273 1124.1 273.4 1121.2 273.8 1121.9 274.2 1128.9 274.6 1124.9 275 1129.2 275.4 1126.7 275.8 1121.7 276.2 1118.9 276.6 1123 277 1126.2 277.4 1125.6 277.8 1122.5 278.2 1128.9 278.6 1119 279 1120.9 279.4 1125.8 279.8 1133.5 280.2 1127.2 280.6 1121.9 281 1127.8 281.4 1128.1 281.8 1128.8 282.2 1123.9 282.6 1122.1 283 1125.2 283.4 1126.4 283.8 1130.9 284.2 1132.4 284.6 1122.1 285 1122.8 285.4 1124.4 285.8 1123.4 286.2 1125.8 286.6 1125.8 287 1125 287.4 1129 287.8 1123.5 288.2 1120.2 288.6 1118.2 289 1120.1 289.4 1119.9 289.8 1116.9 290.2 1126.1 290.6 1124.5 291 1122.5 291.4 1120.6 291.8 1118.5 292.2 1121 292.6 1131.1 293 1116.6 293.4 1125.1 293.8 1126.8 294.2 1124.5 294.6 1123.2 295 1127.3 295.4 1120.4 295.6 1122.6 296 1095 297 1122 297 1122 297.4 1124.9 297.8 1128.2 298.2 1129.3 298.6 1126.9 299 1121.8 299.4 1120.1 299.8 1124.8 300.2 1125.3 300.6 1120.1 301 1123.9 301.4 1125.1 301.6 1126 302 1041.8 303 1119.8 303 1119.8 303.4 1122.6 303.8 1124 304.2 1129.8 304.6 1136 305 1125 305.4 1125.7 305.8 1127.3 306.2 1118.7 306.6 1126.4 307 1119.3 307.4 1129.7 307.8 1128.9 308.2 1125.5 308.6 1121.4 309 1130.6 309.4 1125.7 309.8 1125.4 310.2 1127.1 310.6 1118.9 311 1126.6 311.4 1128.4 311.8 1126.3 312.2 1125.3 312.6 1121.5 313 1127.1 313.4 1125.1 313.8 1124.6 314.2 1122.9 314.6 1128.1 315 1129.6 315.4 1126.8 315.8 1128.7 316.2 1130 316.6 1130.9 317 1125.6 317.4 1124.1 317.8 1123.3 318.2 1125.1 318.6 1126.4 319 1127.3 319.4 1122.5 319.8 1124.7 320.2 1120.7 320.6 1128.8 321 1122.7 321.4 1125.8 321.8 1121.8 322.2 1123.4 322.6 1122.2 323 1130.8 323.4 1126.4 323.8 1124.2 324.2 1121 324.6 1122.3 325 1126.4 325.4 1130.2 325.8 1119.1 326.2 1121 326.6 1123.5 327 1122 327.4 1118.2 327.8 1124.5 328.2 1127 328.6 1118.9 329 1125.4 329.4 1127.9 329.8 1127.8 330.2 1122.5 330.6 1132.2 331 1125.8 331.4 1120.6 331.8 1127.3 332.2 1119.9 332.6 1126.9 333 1119.3 333.4 1126.3 333.8 1121.3 334.2 1127.3 334.6 1126.2 335 1125.2 335.4 1123.9 335.8 1127.8 336.2 1117.6 336.6 1125.8 337 1126 337.4 1126.5 337.8 1127.4 338.2 1137.7 338.6 1125 339 1127.6 339.4 1125.2 339.8 1130.1 340.2 1117.1 340.6 1130.5 340.9 1125.3 341.3 1047 342.3 1124 342.6 1125.1 343 1123.9 343.4 1127.1 343.8 1124.3 344.2 1124.8 344.6 1116.9 345 1126.4 345.4 1128.3 345.8 1122.9 346.2 1117.5 346.6 1119.6 347 1130.3 347.4 1122.2 347.8 1121.8 348.2 1121.5 348.6 1126.7 349 1121.9 349.4 1121.2 349.8 1119.3 350.2 1124.3 350.6 1128.6 351 1124.8 351.4 1128.4 351.8 1125.8 352.2 1125.8 352.6 1126.1 353 1125.7 353.4 1129.5 353.8 1127.5 354.2 1123.4 354.6 1126.3 355 1125.6 355.4 1127.8 355.8 1126.8 356.2 1127.9 356.6 1121 357 1127.7 357.4 1131.2 357.8 1121.8 358.2 1132.2 358.6 1127.7 359 1126 359.4 1120.4 359.8 1130.7 360.2 1123.4 360.6 1124.8 361 1128.4 361.4 1122.9 361.8 1123.3 362.2 1122.7 362.6 1126.3 363 1128.9 363.4 1127.9 363.8 1127.6 364.2 1125 364.6 1126.6 365 1123.5 365.4 1133.1 365.8 1126.5 366.2 1119 366.6 1121.9 367 1131.5 367.4 1120.6 367.8 1123.8 368.2 1127 368.6 1121.3 369 1129.1 369.4 1131.1 369.8 1122 370.2 1129.1 370.6 1122.1 371 1121.8 371.4 1126.1 371.8 1126.2 372.2 1123.1 372.6 1128.3 373 1119.8 373.4 1122.3 373.8 1121.7 374.2 1128.5 374.6 1128.6 375 1127.9 375.4 1120.9 375.8 1126.1 376.2 1126.7 376.6 1119.7 377 1122.3 377.4 1128 377.8 1128.1 378.2 1126.3 378.6 1127.6 379 1126.5 379.4 1125.9 379.8 1124.8 380.2 1122.1 380.6 1124.3 381 1123.9 381.4 1133.6 381.8 1126 382.2 1125.3 382.6 1124.6 383 1125.4 383.4 1124.4 383.8 1127.2 384.2 1124.8 384.6 1127.9 385 1122.7 385.4 1126.7 385.8 1128.5 386.2 1121.4 386.6 1126.1 387 1126.6 387.4 1124.5 387.8 1124.1 388.2 1118.9 388.6 1130 389 1122.9 389.4 1121.6 389.8 1128.5 390.2 1119.5 390.6 1129.2 391 1127.2 391.4 1127.8 391.8 1125 392.2 1120.8 392.6 1118.5 393 1130.4 393.4 1123.6 393.8 1123.3 394.2 1130.8 394.6 1123 395 1124.5 395.4 1123.9 395.8 1124.1 396.2 1121 396.6 1122.6 397 1129.3 397.4 1127.1 397.8 1113.7 398.2 1117.2 398.6 1124.9 399 1123.2 399.4 1122.3 399.8 1127.6 400.2 1117.6 400.6 1128.4 401 1124.7 401.4 1126 401.8 1124.9 402.2 1127.3 402.6 1122.8 403 1121.5 403.4 1126.2 403.8 1124.4 404.2 1119.6 404.6 1129 405 1128.1 405.4 1129.3 405.8 1124.6 406.2 1125.8 406.6 1123.2 407 1121.1 407.4 1124.8 407.8 1125.3 408.2 1122.3 408.6 1131.5 409 1119 409.4 1121.9 409.8 1122.2 410.2 1128.9 410.6 1123.6 411 1123.2 411.4 1121.3 411.8 1121.9 412.2 1119.9 412.6 1128.8 413 1127.8 413.4 1129.3 413.8 1123.7 414.2 1134.9 414.6 1122.3 415 1118.4 415.4 1125 415.8 1126.5 416.2 1128.6 416.6 1122.4 417 1128 417.4 1132.1 417.8 1122.5 418.2 1123 418.6 1119.9 419 1127.2 419.4 1129.7 419.8 1129.6 420.2 1129.9 420.6 1131.8 421 1127 421.4 1130 421.8 1123.1 422.2 1123.6 422.6 1127.2 423 1123.2 423.4 1127.9 423.8 1130.4 424.2 1127 424.6 1122.7 425 1122.6 425.4 1129.7 425.8 1121.9 426.2 1125.1 426.6 1123.6 427 1124.5 427.4 1128.4 427.8 1122.7 428.2 1119.5 428.6 1129.1 429 1124.5 429.4 1125.9 429.8 1123.1 430.2 1126.1 430.6 1128.1 431 1128.5 431.4 1122.3 431.8 1122.2 432.2 1125 432.6 1124.3 433 1125.6 433.4 1121.2 433.8 1115.4 434.2 1125.1 434.6 1126.3 435 1125.7 435.4 1129.3 435.8 1126.5 436.2 1122.1 436.6 1127.2 437 1123.5 437.4 1128.3 437.8 1124.9 438.2 1125.7 438.6 1124.9 439 1124.8 439.4 1119.5 439.8 1125.3 440.2 1116.9 440.6 1126.7 441 1128.5 441.4 1132.5 441.8 1126.1 442.2 1122 442.6 1118.8 443 1131.9 443.4 1119.9 443.8 1128.3 444.2 1116.7 444.6 1125.2 445 1128.2 445.4 1127.3 445.8 1125.9 446.2 1122.8 446.6 1122.7 447 1129.8 447.4 1127.9 447.8 1125.6 448.2 1127 448.6 1123.4 449 1130 449.4 1130.6 449.8 1122.9 450.2 1125.8 450.6 1129.5 451 1123.4 451.4 1132.7 451.8 1131.3 452.2 1125.1 452.6 1129.8 453 1131.7 453.4 1121.1 453.8 1128.1 454.2 1125.4 454.6 1124.7 455 1128 455.4 1123.3 455.8 1120 456.2 1120.3 456.6 1125.1 457 1127.5 457.4 1125 457.8 1124.7 458.2 1125.1 458.6 1129.5 459 1126.7 459.4 1122.1 459.8 1123.9 460.2 1129.4 460.6 1122.8 461 1123.5 461.4 1125.2 461.8 1121.2 462.2 1127.7 462.6 1116.2 463 1130 463.4 1123.3 463.8 1120 464.2 1125.7 464.6 1118.7 465 1126.7 465.4 1127.9 465.8 1123.1 466.2 1123.8 466.6 1128.5 467 1122.4 467.4 1124.8 467.8 1126 468.2 1130.6 468.6 1123.1 469 1125.6 469.4 1129.7 469.8 1116.6 470.2 1124.8 470.6 1118.8 471 1119 471.4 1132.6 471.8 1126 472.2 1131 472.6 1124.7 473 1127.3 473.4 1122.3 473.8 1120.4 474.2 1120.6 474.6 1115.6 475 1110.7 475.4 1094.5 475.8 1086.6 476.2 1079 476.6 1083.5 477 1070.3 477.4 1081.7 477.8 1075.6 478.2 1071 478.6 1070.7 479 1072.1 479.2 1070 480 1026 481.2 1072 481.4 1070.6 481.6 1074.7 482 1028 483 1079.6 483 1079.6 483.4 1090.7 483.8 1090.7 484.2 1089.2 484.6 1084.5 485 1079.5 485.4 1090.9 485.8 1086.7 486.2 1096.8 486.6 1079.8 487 1060 488 1090.5 488.2 1088.4 488.6 1092.8 489 1088.6 489.4 1082.4 489.8 1084.6 490.2 1088 490.6 1081.4 491 1086.7 491.4 1075 491.8 1088.6 492.2 1073.3 492.2 1074.4 492.7 1036.6 493.6 1066.9 494 1040 495 1093.3 495 1093.3 495.4 1090.4 495.8 1092.4 496.2 1101.2 496.6 1101.7 497 1104 497.4 1103.1 497.8 1095.1 498.2 1098.1 498.6 1106.4 499 1113.4 499.4 1103 499.8 1099.4 500.2 1099.2 500.6 1102.3 501 1103.3 501.4 1104.9 501.8 1098.3 502.2 1100.9 502.6 1105.8 503 1111.2 503.4 1101.2 503.8 1105.8 504.2 1101.4 504.6 1106.1 505 1100.2 505.4 1098 505.8 1099.3 506.2 1111.8 506.6 1101.3 507 1101.7 507.4 1107.5 507.8 1096.2 508.2 1106.8 508.6 1104.8 509 1101.8 509.4 1113 509.8 1101.7 510.2 1104.8 510.6 1104.7 511 1106.4 511.4 1102.9 511.8 1106.4 512.2 1101.2 512.6 1112.2 513 1100 513.4 1110.8 513.8 1107.3 514.2 1109.8 514.6 1106.2 515 1102.4 515.4 1103.8 515.8 1106.8 516.2 1108.1 516.6 1104.9 517 1117.9 517.4 1104 517.8 1105.2 518.2 1104.7 518.6 1103.6 519 1108.4 519.4 1106.5 519.8 1106.7 520.2 1103.8 520.6 1101.9 521 1098.8 521.4 1102.6 521.8 1102.1" fill="none" stroke="#000" stroke-width="2.7" stroke-linejoin="round"/>
<path d="M613 1127.4 613.4 1128.2 613.8 1124.8 614.2 1129 614.6 1126.3 615 1123.5 615.4 1125.7 615.8 1128.9 616.2 1128.2 616.6 1124.5 617 1128.7 617.4 1126.9 617.8 1127.9 618.2 1127.6 618.6 1124 619 1127.5 619.4 1125.5 619.8 1130.9 620.2 1129.3 620.6 1127.7 621 1125.5 621.4 1127.6 621.8 1128.3 622.2 1125.3 622.6 1133.1 623 1128.7 623.4 1132.2 623.8 1125.2 624.2 1131.7 624.6 1124.6 625 1126.6 625.4 1129.2 625.8 1127.9 626.2 1121.9 626.6 1125 627 1130 627.4 1133.2 627.8 1130.8 628.2 1128 628.6 1130.7 629 1126.4 629.4 1130 629.8 1125.7 630.2 1128.6 630.6 1128.1 631 1130.4 631.4 1127.8 631.8 1131.3 632.2 1128 632.6 1130.8 633 1131 633.4 1124.7 633.8 1128.9 634.2 1129 634.6 1126.8 635 1128.3 635.4 1124.6 635.8 1129.3 636.2 1129.8 636.6 1129.6 637 1134.7 637.4 1129.4 637.8 1128.8 638.2 1126.8 638.6 1129.4 639 1126 639.4 1131.5 639.8 1126.8 640.2 1128.4 640.6 1133.4 641 1131.5 641.4 1129.3 641.8 1131.9 642.2 1128.2 642.6 1130.2 643 1128.2 643.4 1125.6 643.8 1129.1 644.2 1130.5 644.6 1127.7 645 1126.3 645.4 1127.7 645.8 1123.3 646.2 1127.3 646.6 1126.2 647 1133.7 647.4 1127.4 647.8 1124.8 648.2 1130.7 648.6 1128 649 1128.7 649.4 1129.3 649.8 1129.2 650.2 1127.5 650.6 1130 651 1128.9 651.4 1126.4 651.8 1127.3 652.2 1125.6 652.6 1128.6 653 1129.5 653.4 1129.5 653.8 1129.5 654.2 1127.1 654.6 1131.2 655 1127.3 655.4 1128.2 655.8 1127.3 656.2 1128.2 656.6 1127.3 657 1132.5 657.4 1129 657.8 1124 658.2 1126.9 658.6 1124.4 659 1129.8 659.4 1130.6 659.8 1126.5 660.2 1129.4 660.6 1127.5 661 1129 661.4 1132.4 661.8 1127.2 662.2 1124.9 662.6 1129.3 663 1128.6 663.4 1128.8 663.8 1129.6 664.2 1125.6 664.6 1122.8 665 1129.7 665.4 1126.2 665.8 1124.2 666.2 1124.5 666.6 1129.9 667 1127.8 667.4 1127.9 667.8 1129.4 668.2 1125.6 668.6 1124.6 669 1125.3 669.4 1125 669.8 1126.7 670.2 1125.3 670.6 1127.7 671 1126.3 671.4 1127.7 671.8 1129.1 672.2 1131.1 672.6 1131.9 673 1128.7 673.4 1129.6 673.8 1127.9 674.2 1131.8 674.6 1132.6 675 1127.7 675.4 1130.7 675.8 1128.1 676.2 1128.2 676.6 1129.2 677 1127.6 677.4 1130.6 677.8 1124.7 678.2 1126.5 678.6 1127.9 679 1125.9 679.4 1129.1 679.8 1124.8 680.2 1128.8 680.6 1125.1 681 1128.4 681.4 1129.9 681.8 1134.2 682.2 1131.7 682.6 1133 683 1129.1 683.4 1133.7 683.8 1127.7 684.2 1128.1 684.6 1126.1 685 1129.4 685.4 1131.4 685.8 1127.5 686.2 1128 686.6 1127.6 687 1127.8 687.4 1127.2 687.8 1125.5 688.2 1132.4 688.6 1124.6 689 1126.7 689.4 1129.9 689.8 1131.5 690.2 1128.2 690.6 1128.4 691 1129.1 691.4 1128 691.8 1131 692.2 1127.3 692.6 1126 693 1127.4 693.4 1128.4 693.5 1129.4 694 1096 695 1123.9 695.4 1124.2 695.8 1132.9 696.2 1127.2 696.6 1129 697 1132.8 697.4 1126.5 697.8 1127.4 698.2 1126.4 698.6 1125 699 1129.7 699.4 1130.3 699.8 1123.4 700.2 1130.2 700.6 1127 701 1128.2 701.4 1128.2 701.8 1124.6 702.2 1127.3 702.6 1125.6 703 1132.8 703.4 1133.8 703.8 1129.1 704.2 1126.5 704.6 1132.1 705 1128.5 705.4 1133.1 705.8 1133.1 706.2 1132.4 706.6 1127.6 707 1126 707.4 1126.8 707.8 1128.5 708.2 1126.6 708.6 1131.9 709 1130.6 709.4 1128.6 709.8 1127.4 710.2 1130.2 710.6 1131.9 711 1123.9 711.4 1129.1 711.8 1127.6 712.2 1126.3 712.6 1127.2 713 1128.2 713.4 1132.5 713.8 1128 714.2 1126.9 714.6 1125 715 1129.7 715.4 1126.2 715.8 1127.7 716.2 1129.4 716.6 1128 717 1127.2 717.4 1127.9 717.8 1130.1 718.2 1128.1 718.6 1128.6 719 1129.2 719.4 1127.7 719.8 1129.5 720.2 1127.7 720.6 1131.3 721 1129.6 721.4 1124.5 721.8 1128.2 722.2 1131.3 722.6 1128.1 723 1127.4 723.4 1130.7 723.8 1125.7 724.2 1128.2 724.6 1129.6 725 1130.6 725.4 1125.8 725.8 1125.3 726.2 1131.7 726.6 1126.1 727 1127.7 727.4 1133.7 727.8 1126.6 728.2 1122.2 728.6 1134.1 729 1129.5 729.4 1127.7 729.8 1133.3 730.2 1126.5 730.6 1130.1 731 1126.7 731.4 1125.9 731.8 1128.1 732.2 1128.7 732.6 1129.8 733 1129.6 733.4 1125.4 733.8 1126.5 734.2 1131.1 734.6 1127.7 735 1126.6 735.4 1129.8 735.8 1130 736.2 1129.6 736.6 1125.3 737 1125.8 737.4 1128.4 737.8 1129.6 738.2 1124.1 738.6 1126 739 1126.9 739.4 1130 739.8 1125.1 740.2 1134.1 740.6 1128 741 1129.3 741.4 1133.3 741.8 1129.3 742.2 1129.6 742.6 1127.7 743 1129.2 743.4 1125.8 743.8 1128.1 744.2 1128.2 744.6 1126 745 1130.4 745.4 1129.3 745.8 1123.8 746.2 1130.4 746.6 1126.3 747 1129.7 747.4 1126.4 747.8 1127.4 748.2 1129.3 748.6 1132.9 749 1124.5 749.4 1127.2 749.8 1127.4 750.2 1130.8 750.6 1127.8 751 1129.1 751.4 1131 751.8 1129.5 752.2 1126.6 752.6 1126.2 753 1127 753.4 1127.7 753.8 1125.4 754.2 1127.4 754.6 1129 755 1126.8 755.4 1126.8 755.8 1128.6 756.2 1130.1 756.6 1125.1 757 1125.9 757.4 1131.4 757.8 1128.2 757.9 1127.5 758.7 1009.7 760.2 1126.9 760.6 1131.1 761 1125.9 761.4 1128.9 761.8 1130.5 762.2 1129.6 762.6 1127.4 763 1129.9 763.4 1128.8 763.8 1130.2 764.2 1129.4 764.6 1128.4 765 1123.8 765.4 1129.3 765.8 1127.8 766.2 1122.8 766.6 1127.6 767 1128.5 767.4 1127.4 767.8 1121.8 768.2 1126.1 768.6 1125.2 769 1127.1 769.4 1122.2 769.8 1128.5 770.2 1129.2 770.6 1129.1 771 1127.3 771.4 1127.3 771.8 1129.8 772.2 1128.6 772.6 1126.3 773 1127.8 773.4 1129.2 773.8 1130.4 774.2 1128.4 774.6 1125.6 775 1126.6 775.4 1128.1 775.8 1127.9 776.2 1129.7 776.6 1122.7 777 1125.6 777.4 1124.6 777.8 1129.9 778.2 1129.1 778.6 1128.4 779 1129.8 779.4 1126.7 779.8 1129.5 780.2 1128.5 780.6 1128.8 781 1128.7 781.4 1131.2 781.8 1131.1 782.2 1125.3 782.6 1127.6 783 1129.2 783.4 1130.2 783.8 1125 784.2 1126.8 784.6 1128.2 785 1133 785.4 1126.8 785.8 1127.9 786.2 1128.4 786.6 1128.4 787 1129 787.4 1128.5 787.8 1128.7 788.2 1129.7 788.6 1129.9 789 1129.7 789.4 1129.6 789.8 1125.5 790.2 1129 790.6 1129.1 791 1130.5 791.4 1130.4 791.8 1132.7 792.2 1127.1 792.6 1128.4 793 1129 793.4 1127.1 793.8 1127.9 794.2 1127.4 794.6 1127.1 795 1133.3 795.4 1127.9 795.8 1131.9 796.2 1126.5 796.6 1129.3 797 1126.9 797.4 1129.5 797.8 1132.2 798.2 1132.8 798.6 1129.9 799 1129.1 799.4 1128 799.8 1129 800.2 1130.9 800.6 1123.7 801 1126.7 801.4 1125.1 801.8 1129.9 802.2 1124.6 802.6 1129.9 803 1125.4 803.4 1125.3 803.8 1131.4 804.2 1130.3 804.6 1126.2 805 1124.2 805.4 1126 805.8 1129.8 806.2 1128.4 806.6 1126.3 807 1129.7 807.4 1131.7 807.8 1125.8 808.2 1128.2 808.6 1126.5 809 1131.3 809.4 1128.9 809.8 1126.8 810.2 1124.8 810.6 1130.5 811 1128 811.4 1129 811.8 1127.9 812.2 1128.9 812.6 1123.8 813 1125.9 813.4 1128.9 813.8 1132.6 814.2 1129.2 814.6 1128.3 815 1126.9 815.4 1126.7 815.8 1127.6 816.2 1126.3 816.6 1128.2 817 1127.9 817.4 1132.7 817.8 1128 818.2 1131.2 818.6 1127.9 819 1131.1 819.4 1134.8 819.8 1127.7 820.2 1126.1 820.6 1131 821 1129 821.4 1128.3 821.8 1130.2 822.2 1130 822.6 1132 823 1129.9 823.4 1127.3 823.8 1125.9 824.2 1124.3 824.6 1125.6 825 1131.1 825.4 1124.9 825.8 1128.3 826.2 1131 826.6 1129.5 827 1132 827.4 1129.9 827.8 1131.5 828.2 1126.2 828.6 1125.5 829 1131.8 829.4 1127.8 829.8 1127.6 830.2 1125.8 830.6 1131 831 1128.3 831.4 1128.5 831.8 1125.9 832.2 1128.1 832.6 1126.8 833 1127.5 833.4 1128.6 833.8 1126.2 834.2 1125.5 834.6 1129.8 835 1125.5 835.4 1131.4 835.8 1132.1 836.2 1125.6 836.6 1132.7 837 1126.7 837.4 1132 837.8 1127.8 838.2 1131.1 838.6 1126.5 839 1130.7 839.4 1129.5 839.8 1132.7 840.2 1130.7 840.6 1126.8 841 1129.7 841.4 1126.9 841.8 1128.8 842.2 1131.7 842.6 1131.8 843 1128.4 843.4 1125.9 843.8 1128.3 844.2 1133 844.6 1127.7 845 1124.4 845.4 1124.9 845.8 1124.8 846.2 1129.8 846.6 1126.2 847 1125.2 847.4 1127.8 847.8 1129.2 848.2 1126.7 848.6 1125.4 849 1127.4 849.4 1128.6 849.8 1123.1 850.2 1124 850.6 1132.2 851 1128.4 851.4 1128.4 851.8 1124.2 852.2 1125.2 852.6 1127 853 1130.7 853.4 1128.1 853.8 1124.1 854.2 1131.8 854.6 1131.7 855 1129.9 855.4 1125 855.8 1126.5 856.2 1127.4 856.6 1128.5 857 1132.8 857.4 1125.2 857.8 1126.6 858.2 1128 858.6 1126.4 859 1126.7 859.4 1124.2 859.8 1128 860.2 1127 860.6 1128.1 861 1129.9 861.4 1127.2 861.8 1127.6 862.2 1128.5 862.6 1127 863 1128.4 863.4 1123.5 863.8 1125.5 864.2 1128.8 864.6 1127.9 865 1129.4 865.4 1124.3 865.8 1126.1 866.2 1127.2 866.6 1127.2 867 1126.9 867.4 1130.8 867.8 1126.1 868.2 1126.4 868.6 1128.6 869 1128.7 869.4 1128.1 869.8 1131.6 870.2 1129 870.6 1127.1 871 1125.2 871.4 1130.5 871.8 1125.9 872.2 1128.3 872.6 1126 873 1132.3 873.4 1129.2 873.8 1123.4 874.2 1128.2 874.6 1124.1 875 1126.4 875.4 1129.5 875.8 1124.6 876.2 1128.5 876.6 1127.6 877 1129.6 877.4 1125.9 877.8 1130.1 878.2 1128 878.6 1131.2 879 1128.9 879.4 1130.1 879.8 1131.8 880.2 1131.1 880.6 1128.1 881 1129.9 881.4 1128.1 881.8 1129 882.2 1132 882.6 1126.1 883 1125.7 883.4 1129.7 883.8 1127.1 884.2 1131.4 884.6 1130.8 885 1130.1 885.4 1128.9 885.8 1127.6 886.2 1126.5 886.6 1127.2 887 1128.1 887.4 1125.3 887.8 1129.6 888.2 1128.6 888.6 1124 889 1120.9 889.4 1130.2 889.8 1124.3 890.2 1120.5 890.6 1123.7 891 1128.3 891.4 1131.1 891.8 1130.2 892.2 1131.3 892.6 1132 893 1132.1 893.4 1125.3 893.8 1127.2 894.2 1126 894.6 1127.4 895 1126.5 895.4 1127.9 895.8 1131.6 896.2 1125.6 896.6 1129.3 897 1125.5 897.4 1124.9 897.8 1130.7 898.2 1128 898.6 1128.3 899 1131.2 899.4 1124.5 899.8 1128.2 900.2 1131.5 900.6 1125.8 901 1128.7 901.4 1130.2 901.8 1130.2 902.2 1129.7 902.6 1130.4 903 1129.2 903.4 1130.2 903.8 1129 904.2 1126.1 904.6 1128.8 905 1127.9 905.4 1131.4 905.8 1130.1 906.2 1130.1 906.6 1129 907 1130 907.4 1127.2 907.8 1129.1 908.2 1126.8 908.6 1127.6 909 1125.6 909.4 1133.8 909.8 1129.7 910.2 1125.9 910.6 1127.4 911 1128.9 911.4 1127.1 911.8 1130.3 912.2 1129.6 912.6 1131.7 913 1122.2 913.4 1130.8 913.8 1130 914.2 1131.9 914.6 1127.9 915 1127.9 915.4 1126.3 915.8 1129.9 916.2 1129.2 916.6 1124.9 917 1127.4 917.4 1128.7 917.8 1126 918.2 1128 918.6 1128.9 919 1128.2 919.4 1125.6 919.8 1132.3 920.2 1130 920.6 1129.9 921 1128 921.4 1129.4 921.8 1127.1 922.2 1128.6 922.6 1129 923 1130 923.4 1126.9 923.8 1126.4 924.2 1130.9 924.6 1125.1 925 1128.8 925.4 1128.1 925.8 1130.1 926.2 1127.3 926.6 1125.6 927 1128.4 927.4 1125 927.8 1125.2 928.2 1127.8 928.6 1128.1 929 1124.2 929.4 1130.7 929.8 1127.7 930.2 1130.8 930.6 1130.7 931 1128 931.4 1127.2 931.8 1124.6 932.2 1129.9 932.6 1131.2 933 1127.9 933.4 1127.9 933.8 1125.3 934.2 1125 934.6 1126.8 935 1129.8 935.4 1126.2 935.8 1128.9 936.2 1127.8 936.6 1127.2 937 1125.5 937.4 1126.6 937.8 1125.2 938.2 1130.2 938.6 1129.1 939 1125.8 939.4 1126.4 939.8 1125 940.2 1128.6 940.6 1129.4 941 1126.1 941.4 1127.5 941.8 1129.7 942.2 1124.9 942.6 1129 943 1132.1 943.4 1131.9 943.8 1127.8 944.2 1128.2 944.6 1130.4 945 1130 945.4 1131.8 945.8 1128.8 946.2 1129.1 946.6 1128.8 947 1132.1 947.4 1125.9 947.8 1130.9 948.2 1127.9 948.6 1128.3 949 1125.3 949.4 1127.2 949.8 1125.2 950.2 1120.8 950.6 1127.3 951 1123.4 951.4 1126.9 951.8 1123.4 952.2 1125.7 952.6 1125.9 953 1122.9 953.4 1126.8 953.8 1125.6 954.2 1121.1 954.6 1130.9 955 1128.1 955.4 1127.9 955.8 1127.1 956.2 1128.7 956.6 1125.6 957 1128.5 957.4 1129 957.8 1125.3 958.2 1126.8 958.6 1126.7 959 1123 959.4 1127.2 959.8 1126.1 960.2 1129.4 960.6 1126.8 961 1124.3 961.4 1126.5 961.8 1125.2 962.2 1120.9 962.6 1125.6 963 1122.9 963.4 1129.3 963.8 1126.9 964.2 1128.2 964.6 1127 965 1125.6 965.4 1127.5 965.8 1122.2 966.2 1128.3 966.6 1126.1 967 1121.6 967.4 1125.8 967.8 1127.8 968.2 1125.2 968.6 1129.8 969 1129.5 969.4 1125.2 969.8 1124.6 970.2 1126.1 970.6 1125.7 971 1128.8 971.4 1129.5 971.8 1128.6 972.2 1128.7 972.6 1127.6 973 1127.6 973.4 1126.3 973.8 1133.3 974.2 1130.3 974.6 1129.7 975 1126.8 975.4 1124.9 975.8 1127 976.2 1127.8 976.6 1127.8 977 1130.3 977.4 1127.8 977.8 1130.3 978.2 1130.3 978.6 1130.8 979 1129.1 979.4 1131.1 979.8 1129.9 980.2 1129.9 980.6 1128.8 981 1128.9 981.4 1129.7 981.8 1130.7 982.2 1127.5 982.6 1128.2 983 1129 983.4 1131.2 983.8 1128.7 984.2 1129.7 984.6 1130.3 985 1128.2 985.4 1131.5 985.8 1125.6 986.2 1124.5 986.6 1124.6 987 1125.2 987.4 1125.8 987.8 1126.5 988.2 1127.9 988.6 1125.6 989 1125.5 989.4 1128.1 989.8 1126.3 990.2 1127.1 990.6 1126 991 1123.8 991.4 1126.7 991.8 1126.2 992.2 1127.4 992.6 1126.5 993 1124.5 993.4 1130.3 993.8 1124.1 994.2 1122.8 994.6 1125.3 995 1125.7 995.4 1128.3 995.8 1125.7 996.2 1126.8 996.6 1127.8 997 1129.1 997.4 1123.6 997.8 1128 998.2 1124.4 998.6 1130.2 999 1125.4 999.4 1125.8 999.8 1128.6 1000.2 1127.7 1000.6 1127.6 1001 1129.5 1001.4 1126.9 1001.8 1126.7 1002.2 1130.5 1002.6 1127 1003 1128.8 1003.4 1125.5 1003.8 1127.9 1004.2 1127.2 1004.6 1129.1 1005 1133.3 1005.4 1123.5 1005.8 1125.6 1006.2 1127.7 1006.6 1129 1007 1125.3 1007.4 1128.7 1007.8 1126.7 1008.2 1128.8 1008.6 1126.8 1009 1136 1009.4 1129.9 1009.8 1131.1 1010.2 1123.9 1010.6 1127.2 1011 1128.9 1011.4 1133 1011.8 1127 1012.2 1129.8 1012.6 1126.6 1013 1128.3 1013.4 1124.1 1013.8 1124.4 1014.2 1127.3 1014.6 1131 1015 1131.1 1015.4 1128.7 1015.8 1126.3 1016.2 1131.4 1016.6 1127.7 1017 1126.2 1017.4 1127.6 1017.8 1128 1018.2 1132.9 1018.6 1128.6 1019 1127.2 1019.4 1127.2 1019.8 1124.1 1020.2 1130.6 1020.6 1125.4 1021 1128 1021.4 1125.7 1021.8 1126.3 1022.2 1122.8 1022.6 1128.2 1023 1133.3 1023.4 1132.2 1023.8 1128.8 1024.2 1130.9 1024.6 1125.8 1025 1125 1025.4 1130.4 1025.8 1126 1026.2 1133.1 1026.6 1131.2 1027 1125.3 1027.4 1127.2 1027.8 1127.2 1028.2 1129.8 1028.6 1126.8 1029 1127.6 1029.4 1124.2 1029.8 1132 1030.2 1130.3 1030.6 1128.2 1031 1124 1031.4 1128.4 1031.8 1135.4 1032.2 1129.5 1032.6 1131.5 1033 1123.5 1033.4 1128.1 1033.8 1128.3 1034.2 1131.2 1034.6 1126.1 1035 1130.3 1035.4 1131 1035.8 1128.8 1036.2 1127.9 1036.6 1129.5 1037 1125.6 1037.4 1124.3 1037.8 1123.8 1038.2 1128.6 1038.6 1127.7 1039 1128 1039.4 1127 1039.8 1128.4 1040.2 1133 1040.6 1128.1 1041 1126.7 1041.4 1125.7 1041.8 1126.3 1042.2 1130.2 1042.6 1128.6 1043 1127.9 1043.4 1128 1043.8 1125.1 1044.2 1126.7 1044.6 1127.9 1045 1128.1 1045.4 1129.1 1045.8 1129.7 1046.2 1125.6 1046.6 1127.2 1047 1127.2 1047.4 1124.2 1047.8 1107.7 1048.1 1079.9 1048.6 1002.6 1049.8 1039.8 1050.2 1043.7 1050.6 1050.4 1051 1051.1 1051.4 1044.9 1051.8 1053.4 1052.2 1054.2 1052.6 1059.5 1053 1063.5 1053.4 1063.4 1053.8 1057.1 1054.2 1062.8 1054.6 1055.7 1055 1060.9 1055.4 1063.5 1055.8 1057.1 1056.2 1070.6 1056.6 1068 1057 1067.2 1057.4 1068.4 1057.8 1070 1058.2 1066.1 1058.6 1074.1 1059 1071 1059.4 1074.9 1059.8 1085.4 1060.2 1078.5 1060.6 1086.2 1061 1091.1 1061.4 1086.3 1061.8 1088.2 1062.2 1091.8 1062.6 1083.7 1063 1091.6 1063.4 1080.1 1063.8 1074.7 1064.2 1072.1 1064.6 1075 1065 1075.7 1065.4 1074.6 1065.8 1085.4 1066.2 1080.1 1066.6 1082.1 1067 1077.2" fill="none" stroke="#000" stroke-width="2.7" stroke-linejoin="round"/>
<path d="M69 1463.4 69.4 1461.5 69.8 1467.8 70.2 1462 70.6 1462.8 71 1466.5 71.4 1461 71.8 1461.5 72.2 1463.5 72.6 1462.1 73 1460.2 73.4 1462.6 73.8 1462.2 74.2 1464.1 74.6 1458.8 75 1461 75.4 1465.3 75.8 1467.2 76.2 1459.4 76.6 1464.6 77 1460.9 77.4 1461.1 77.8 1461.5 78.2 1462.4 78.6 1465.3 79 1464.3 79.4 1463.3 79.8 1462.1 80.2 1462.8 80.6 1462.6 81 1464.3 81.4 1460.8 81.8 1462.7 82.2 1462.6 82.6 1463 83 1463.6 83.4 1463.6 83.8 1466.4 84.2 1463.3 84.6 1467.3 85 1462.9 85.4 1462.6 85.8 1463.9 86.2 1464.3 86.6 1464 87 1466.6 87.4 1466.3 87.8 1464.4 88.2 1462.7 88.6 1463.4 89 1467.4 89.4 1464.6 89.8 1461.1 90.2 1462.6 90.6 1462.9 91 1466.9 91.4 1463.8 91.8 1469.1 92.2 1465.3 92.6 1463.9 93 1462.7 93.4 1465.7 93.8 1462.7 94.2 1461.2 94.6 1464.4 95 1463.3 95.4 1465.9 95.8 1463.1 96.2 1456.7 96.6 1465.4 97 1459 97.4 1467 97.8 1467.7 98.2 1462.4 98.6 1460.7 99 1459.9 99.4 1465 99.8 1462.5 100.2 1461.7 100.6 1462.6 101 1468 101.4 1464.3 101.8 1465 102.2 1464.6 102.6 1465 103 1465.1 103.4 1460.7 103.8 1462.2 104.2 1461.2 104.6 1461 105 1465.2 105.4 1461.1 105.8 1462 106.2 1460.6 106.6 1460.9 107 1464.1 107.4 1461.3 107.8 1461.4 108.2 1463.7 108.6 1463.7 109 1464.4 109.4 1463.2 109.8 1459.1 110.2 1464.5 110.6 1463.9 111 1465 111.4 1460.7 111.8 1468.6 112.2 1460.1 112.6 1465.1 113 1463.9 113.4 1463.1 113.8 1465.8 114.2 1463.2 114.6 1458.5 115 1461.1 115.4 1465.1 115.8 1469.2 116.2 1460.7 116.6 1464.4 117 1468 117.4 1465.9 117.8 1463.7 118.2 1461.3 118.6 1460.7 119 1463.1 119.4 1463.8 119.8 1459.1 120.2 1460.1 120.6 1464.8 121 1463.3 121.4 1462.3 121.8 1463.2 122.2 1462.3 122.6 1466 123 1467.3 123.4 1468.5 123.8 1465.2 124.2 1465.2 124.6 1467 125 1467.9 125.4 1467.3 125.8 1466.6 126.2 1462.1 126.6 1459.2 127 1465.1 127.4 1463 127.8 1463.1 128.2 1460.8 128.6 1459.7 129 1465.8 129.4 1463.7 129.8 1460.1 130.2 1463.8 130.6 1463.8 131 1464.2 131.4 1468.1 131.8 1463 132.2 1460.4 132.6 1463.4 133 1461.9 133.4 1464.3 133.8 1463.7 134.2 1464.2 134.6 1462.4 135 1464.6 135.4 1462.3 135.8 1464.9 136.2 1463.3 136.6 1461.5 137 1465 137.4 1462.3 137.8 1467.2 138.2 1465.2 138.6 1465.3 139 1464.7 139.4 1464.3 139.8 1459.3 140.2 1467.6 140.6 1462.6 141 1466.7 141.4 1463.3 141.8 1464 142.2 1463.6 142.6 1461.6 143 1463.6 143.4 1465.1 143.8 1463.1 144.2 1461.3 144.6 1462.6 145 1464.5 145.4 1466.7 145.8 1465.6 146.2 1464.1 146.6 1461 147 1465.3 147.4 1462.9 147.8 1462.3 148.2 1464.9 148.6 1464 149 1463.7 149.4 1459.8 149.8 1460.7 150.2 1458.1 150.6 1462.8 151 1462.3 151.4 1463.9 151.8 1462.3 152.2 1460.9 152.6 1466.9 153 1459.6 153.4 1459 153.8 1460.7 154.2 1463.1 154.6 1461.3 155 1461.2 155.4 1459.7 155.8 1465.7 156.2 1461.1 156.6 1459.9 157 1462.1 157.4 1460.8 157.8 1461.7 158.2 1465.5 158.6 1461.9 159 1462.6 159.4 1461.6 159.8 1462.5 160.2 1464.5 160.6 1463.4 161 1461.3 161.4 1460.1 161.8 1461.9 162.2 1464.6 162.6 1462.2 163 1461.8 163.4 1457.5 163.8 1463.7 164.2 1458.1 164.6 1458.3 165 1460.2 165.4 1461.1 165.8 1461.3 166.2 1459.2 166.6 1460.5 167 1460 167.4 1456.9 167.8 1461 168.2 1459.6 168.6 1461.9 169 1460.8 169.4 1463.6 169.8 1462.7 170.2 1463.5 170.6 1464.3 171 1463.2 171.4 1461.2 171.8 1464.8 172.2 1459.1 172.6 1461.2 173 1463.7 173.4 1461.3 173.8 1463.7 174.2 1460.2 174.6 1460.7 175 1463.2 175.4 1463.4 175.8 1464.8 176.2 1461.8 176.6 1462.7 177 1463.5 177.4 1463.1 177.8 1458.7 178.2 1460.7 178.6 1465.1 179 1458.8 179.4 1463.3 179.8 1460.8 180.2 1464 180.6 1460.2 181 1462.1 181.4 1457.4 181.8 1462.2 182.2 1464.7 182.6 1458.9 183 1465.1 183.4 1460.4 183.8 1461.8 184.2 1454.9 184.6 1464.1 185 1459.8 185.4 1460.5 185.8 1458.5 186.2 1459.5 186.6 1464.3 187 1460.4 187.4 1463.6 187.8 1461.3 188.2 1462.5 188.6 1460.8 189 1463.1 189.4 1467.7 189.8 1463.4 190.2 1462.9 190.6 1460.6 191 1464.1 191.4 1465 191.8 1457.9 192.2 1458.9 192.6 1466.9 193 1462.9 193.4 1462.8 193.8 1463.6 194.2 1465.3 194.6 1464.8 195 1462.2 195.4 1467.7 195.8 1463.3 196.2 1461.2 196.6 1461.9 197 1463 197.4 1462.7 197.8 1463.3 198.2 1464.5 198.6 1456.1 199 1461.7 199.4 1466.1 199.8 1465.3 200.2 1462.2 200.6 1462.4 201 1466.6 201.4 1463.4 201.8 1462.3 202.2 1467.6 202.6 1462.4 203 1465 203.4 1463.1 203.8 1463.7 204.2 1461.1 204.6 1461.1 205 1466.1 205.4 1460.4 205.8 1463.5 206.2 1460.3 206.6 1462.5 207 1462.8 207.4 1459.1 207.8 1465.4 208.2 1462.4 208.6 1465.4 209 1460.6 209.4 1464.8 209.8 1467.9 210.2 1463 210.6 1460.6 211 1463 211.4 1462.1 211.8 1461.7 212.2 1462 212.6 1460.9 213 1463 213.4 1461.1 213.8 1459.8 214.2 1463.6 214.6 1461.8 215 1468.2 215.4 1461.7 215.8 1460.4 216.2 1460.5 216.6 1462.3 217 1459.8 217.4 1458.4 217.8 1464.8 218.2 1458 218.6 1464.4 219 1461 219.4 1458.3 219.8 1464.5 220.2 1459.8 220.6 1458.4 221 1461 221.4 1464.2 221.8 1462.7 222.2 1463.2 222.6 1465.7 223 1461.7 223.4 1462 223.8 1460.3 224.2 1457.6 224.6 1460.4 225 1464.5 225.4 1456.5 225.8 1463.4 226.2 1461 226.6 1458.6 227 1461 227.4 1465.1 227.8 1459.6 228.2 1462.8 228.6 1463.4 229 1458.9 229.4 1462.1 229.8 1461.9 230.2 1459.8 230.6 1462.1 231 1459.6 231.4 1458.6 231.8 1456.7 232.2 1460.3 232.6 1458.1 233 1458.5 233.4 1457.3 233.8 1457.3 234.2 1458.6 234.6 1462.3 235 1458.5 235.4 1463.7 235.8 1461.4 236.2 1460.7 236.6 1457.6 237 1465 237.4 1456.8 237.8 1461.5 238.2 1464.2 238.6 1460.2 239 1458.9 239.4 1460.6 239.8 1463.1 240.2 1464.1 240.6 1462.9 241 1459.1 241.4 1460.1 241.8 1462.3 242.2 1459 242.6 1461.5 243 1466.8 243.4 1459.3 243.8 1464.3 244.2 1459.5 244.6 1460.9 245 1461.6 245.4 1458.5 245.8 1462 246.2 1465.3 246.6 1464.2 247 1464.3 247.4 1438.3 248.4 1463.9 248.6 1464.4 249 1465.9 249.4 1460.8 249.8 1466.4 250.2 1462.2 250.6 1462 251 1460 251.4 1463 251.8 1462.9 252.2 1460.6 252.6 1462.7 253 1463.7 253.4 1462.4 253.8 1465 254.2 1461 254.6 1465.4 255 1462.9 255.4 1464.2 255.8 1459.1 256.2 1463.6 256.6 1462.6 257 1464.7 257.4 1459.9 257.8 1465.4 258.2 1459.9 258.6 1465.2 259 1463.4 259.4 1460.2 259.8 1467.3 260.2 1459.5 260.6 1462 261 1462.6 261.4 1463.2 261.8 1462.4 262.2 1463.7 262.6 1463 263 1462.4 263.4 1460.2 263.8 1461.7 264.2 1464.6 264.6 1459.7 265 1463 265.4 1457.8 265.8 1461 266.2 1458.7 266.6 1465.6 267 1458.3 267.4 1462.2 267.8 1464.7 268.2 1464.3 268.6 1465 269 1465.6 269.4 1464.2 269.8 1464.8 270.2 1462.7 270.6 1462.6 271 1458.6 271.4 1462.9 271.8 1465.2 272.2 1460.6 272.6 1459.4 273 1462.3 273.4 1464.7 273.8 1464.7 274.2 1458.4 274.6 1463 275 1460.3 275.4 1462.7 275.8 1456.5 276.2 1463.9 276.6 1460.7 277 1462.5 277.4 1461.4 277.8 1459.3 278.2 1463 278.6 1460.5 279 1459.9 279.4 1463.2 279.8 1461.5 280.2 1459.8 280.6 1463.4 281 1459.9 281.4 1461.1 281.8 1463 282.2 1463.3 282.6 1464 283 1465 283.4 1461.1 283.8 1459 284.2 1464.8 284.6 1464.1 285 1460.1 285.4 1462.4 285.8 1460.1 286.2 1457.4 286.6 1463.3 287 1461.8 287.4 1461.1 287.8 1464.6 288.2 1463.8 288.6 1459.3 289 1458.3 289.4 1456.5 289.8 1460.7 290.2 1460.4 290.6 1462.7 291 1462 291.4 1460.8 291.8 1461.1 292.2 1458.5 292.6 1465.1 293 1460.9 293.4 1463.6 293.8 1460.8 294.2 1462.2 294.6 1463.3 295 1461.3 295.4 1459.8 295.8 1466.9 296.2 1461.1 296.6 1463.2 297 1461.5 297.4 1460 297.8 1464.6 298.2 1463.1 298.6 1462.6 299 1456.8 299.4 1462.4 299.8 1464 300.2 1462.2 300.6 1460.7 301 1463.8 301.4 1461.2 301.8 1462.3 302.2 1463.4 302.6 1463.3 303 1458.1 303.4 1461.9 303.8 1459.2 304.2 1456.4 304.6 1461.9 305 1456.9 305.4 1460.3 305.8 1455.4 306.2 1458.9 306.6 1460.2 307 1461.1 307.4 1459.7 307.8 1459.2 308.2 1458.8 308.6 1464.4 309 1459.7 309.4 1460.8 309.8 1465 310.2 1456.6 310.6 1456 311 1458.3 311.4 1459.7 311.8 1457.7 312.2 1460.6 312.6 1460.4 313 1457 313.4 1460.9 313.8 1457.4 314.2 1462.5 314.6 1461.1 315 1465.8 315.4 1462.4 315.8 1460.2 316.2 1461.5 316.6 1460.8 317 1458.9 317.4 1457.6 317.8 1463.5 318.2 1464.4 318.6 1459.8 319 1460 319.4 1459.2 319.8 1462.8 320.2 1463.7 320.6 1459 321 1460.5 321.4 1460.2 321.8 1462.3 322.2 1463.3 322.6 1464 323 1460.7 323.4 1459.2 323.8 1462.6 324.2 1462.3 324.6 1460 325 1461.4 325.4 1462 325.8 1463.7 326.2 1461.8 326.6 1463 327 1462.1 327.4 1459.6 327.8 1463.3 328.2 1462.2 328.6 1465 329 1459.8 329.4 1461.1 329.8 1463.2 330.2 1458.3 330.6 1461.7 331 1460.8 331.4 1461.1 331.8 1461.3 332.2 1457 332.6 1462.1 333 1462.5 333.4 1465 333.8 1465.9 334.2 1463.9 334.6 1465.4 335 1457.5 335.4 1464.3 335.8 1465 336.2 1464.3 336.6 1462.9 337 1461.6 337.4 1461.3 337.8 1462.2 338.2 1462.7 338.6 1462.6 339 1461.4 339.4 1458.7 339.8 1466.3 340.2 1460.4 340.6 1456.2 341 1465.6 341.4 1464.4 341.8 1462.4 342.2 1464.2 342.6 1463.2 343 1460.1 343.4 1462.2 343.8 1459 344.2 1460.2 344.6 1459.9 345 1462.3 345.4 1464 345.8 1460.3 346.2 1463 346.6 1456.9 347 1459.4 347.4 1463.2 347.8 1464.4 348.2 1464.8 348.6 1465 349 1459 349.4 1461.6 349.8 1456.4 350.2 1461.8 350.6 1463 351 1461.7 351.4 1460.5 351.8 1463.5 352.2 1463.6 352.6 1462.4 353 1460.6 353.4 1461.8 353.8 1462.4 354.2 1462.6 354.6 1463.1 355 1461.8 355.4 1458.8 355.8 1461.6 356.2 1463.1 356.6 1461 357 1462.4 357.4 1460.7 357.8 1465.3 358.2 1463 358.6 1462.6 359 1464 359.4 1464.1 359.8 1462.8 360.2 1465.1 360.6 1464.2 361 1463.1 361.4 1462.8 361.8 1460.4 362.2 1463.1 362.6 1462.9 363 1460.6 363.4 1465.8 363.8 1462.6 364.2 1460.2 364.6 1461.9 365 1462.6 365.4 1462.6 365.8 1460.8 366.2 1462.8 366.6 1459.5 367 1462 367.4 1463.8 367.8 1460.9 368.2 1463.9 368.6 1463.9 369 1460.4 369.4 1456.2 369.8 1463.6 370.2 1464.4 370.6 1457.6 371 1461.8 371.4 1461.9 371.8 1457.2 372.2 1459.7 372.6 1464.3 373 1462.1 373.4 1461.5 373.8 1463.8 374.2 1459.8 374.6 1457 375 1464.7 375.4 1459.5 375.8 1461.3 376.2 1464 376.6 1462.2 377 1461.6 377.4 1459.8 377.8 1462.8 378.2 1466.5 378.6 1460.3 379 1459.1 379.4 1462.5 379.8 1460 380.2 1461.9 380.6 1461.5 381 1462.6 381.4 1462.2 381.8 1462.6 382.2 1465.1 382.6 1459.5 383 1461.7 383.4 1462.1 383.8 1458.7 384.2 1459.3 384.6 1460.8 385 1459.9 385.4 1464 385.8 1461.5 386.2 1467.7 386.6 1460.2 387 1460.4 387.4 1466.2 387.8 1459.8 388.2 1466.2 388.6 1453.9 389 1459.5 389.4 1464 389.8 1464.8 390.2 1462.1 390.6 1459.6 391 1460.5 391.4 1462.3 391.8 1461.1 392.2 1462.2 392.6 1458.6 393 1462.2 393.4 1463.5 393.8 1467.6 394.2 1462.1 394.6 1462.2 395 1458.5 395.4 1457.3 395.8 1455.4 396.2 1461.8 396.6 1465.1 397 1460.6 397.4 1454.7 397.8 1460.8 398.2 1460 398.6 1459.4 399 1464.9 399.4 1463.9 399.8 1464.4 400.2 1459.5 400.6 1462.2 401 1459.4 401.4 1464.5 401.8 1459.4 402.2 1465 402.6 1462.6 403 1462.5 403.4 1458.9 403.8 1463.6 404.2 1457.8 404.6 1458.8 405 1459.7 405.4 1466.7 405.8 1462.1 406.2 1460.3 406.6 1463.2 407 1467.2 407.4 1461.6 407.8 1459.7 408.2 1459.5 408.6 1462.2 409 1465.6 409.4 1460.8 409.8 1460.6 410.2 1459.1 410.6 1458.4 411 1463.1 411.4 1461.8 411.8 1461.7 412.2 1457.7 412.6 1462.1 413 1461.6 413.4 1464.2 413.8 1463.3 414.2 1460.6 414.6 1462.3 415 1462.2 415.4 1461.3 415.8 1459.8 416.2 1463.6 416.6 1466.6 417 1461.2 417.4 1465.4 417.8 1460.4 418.2 1460.3 418.6 1460.9 419 1460.5 419.4 1463.9 419.8 1463.9 420.2 1454.7 420.6 1463 421 1462.1 421.4 1465.2 421.8 1459.5 422.2 1461.4 422.6 1463.7 423 1462.9 423.4 1464.2 423.8 1459.1 424.2 1459 424.6 1461.8 425 1457.4 425.4 1461.6 425.8 1462.1 426.2 1460.8 426.6 1457 427 1458.7 427.4 1459.1 427.8 1460.9 428.2 1460.4 428.6 1459.1 429 1456 429.4 1455.9 429.8 1458.3 430.2 1458.2 430.6 1458.9 431 1457.6 431.4 1459.8 431.8 1458.6 432.2 1460.6 432.6 1460.5 433 1462.1 433.4 1458.4 433.8 1458.3 434.2 1458.1 434.6 1460.5 435 1461.8 435.4 1462.6 435.8 1460.7 436.2 1460.2 436.6 1462 437 1460.5 437.4 1458.5 437.8 1462.5 438.2 1460.2 438.6 1457.7 439 1460.9 439.4 1459.2 439.8 1460.9 440.2 1459.4 440.6 1459.9 441 1459.6 441.4 1460.7 441.8 1462.2 442.2 1461.5 442.6 1460.8 443 1463.2 443.4 1458.1 443.8 1461.3 444.2 1463.5 444.6 1462.3 445 1463.9 445.4 1459.4 445.8 1464.1 446.2 1460.2 446.6 1464.5 447 1462.2 447.4 1463.7 447.8 1460.1 448.2 1461 448.6 1457.3 449 1462.5 449.4 1463.5 449.8 1462.7 450.2 1464.8 450.6 1463.8 451 1462.6 451.4 1463.6 451.8 1461.3 452.2 1464.4 452.6 1462.6 453 1463.1 453.4 1461.8 453.8 1461.1 454.2 1460.3 454.6 1461.8 455 1464 455.4 1457.9 455.8 1462.1 456.2 1469.8 456.6 1461.8 457 1461 457.4 1462.1 457.8 1460.7 458.2 1461.2 458.6 1461.3 459 1458.3 459.4 1462.9 459.8 1460.6 460.2 1462.5 460.6 1460.4 461 1462.6 461.4 1460.3 461.8 1467 462.2 1463.3 462.6 1464 463 1460.1 463.4 1456.7 463.8 1459.3 464.2 1461 464.6 1460.2 465 1458.3 465.4 1458.3 465.8 1457.3 466.2 1459 466.6 1461.6 467 1461.9 467.4 1460.9 467.8 1458.1 468.2 1458.3 468.6 1452.3 469 1443.9 469.4 1434.5 469.8 1425.8 470.2 1415.2 470.6 1406.3 471 1400.5 471.4 1390.5 471.8 1387 472.2 1371.1 472.6 1375.4 473 1382.6 473.4 1352.4 473.8 1363 474.2 1360.4 474.6 1365.9 475 1345.4 475.4 1352.3 475.8 1351.6 476.2 1335.4 476.6 1345.1 477 1346.3 477.5 1319.6 478.5 1333.9 478.6 1336.2 479 1338.6 479.4 1332.8 479.8 1334.2 480.2 1332.3 480.6 1332.5 481 1322 482 1334.7 482.2 1335.2 482.6 1346.5 483 1336.5 483.4 1354.4 483.6 1352.2 484 1321 485 1338.9 485 1338.9 485.4 1350.5 485.8 1341.6 486.2 1353.5 486.6 1353.2 487 1360.5 487.4 1352.6 487.8 1366 488.2 1354.8 488.6 1370.3 489 1371.1 489.4 1375.4 489.8 1364.7 490.2 1375.1 490.6 1381.2 491 1379.4 491.4 1377.3 491.8 1381.1 492.2 1383.2 492.6 1385.9 493 1365 494 1383.7 494.2 1380.4 494.6 1379.4 495 1381.4 495.4 1378.8 495.8 1401.7 496.2 1389.3 496.6 1385.8 497 1386.5 497.4 1390.9 497.8 1390.8 498.2 1397.4 498.6 1393.2 499 1410.3 499.4 1388.2 499.8 1407.9 500.2 1415.2 500.6 1409.2 501 1408.8 501.4 1396.8 501.8 1386 502.2 1375.4 502.6 1378.2 503 1354.8 503.4 1354.2 503.8 1354.3 504.2 1341.3 504.6 1348 505 1323.5 506 1361.4 506.2 1366.1 506.6 1351.7 507 1371.8 507.4 1381.2 507.8 1370.9 508.2 1391 508.6 1404 509 1397.9 509.4 1388.5 509.8 1402.9 510.2 1415.3 510.6 1404.5 511 1406.5 511.4 1406.3 511.8 1408 512.2 1399.7 512.6 1394.1 513 1399.7 513.4 1395.3 513.8 1396.2 514.2 1385.2 514.6 1400.5 515 1413.8 515.4 1415.3 515.8 1404.3 516.2 1420.7 516.6 1426.9 517 1408.7 517.4 1409.6 517.8 1406.4 518.2 1402 518.6 1399.3 519 1395.3 519.4 1393.2 519.5 1390.8 520 1365 521 1394.9 521 1394.9 521.4 1396.6 521.8 1391 522.2 1390.2 522.6 1404.5 523 1401.7" fill="none" stroke="#000" stroke-width="2.7" stroke-linejoin="round"/>
<path d="M613 1466.4 613.4 1468.2 613.8 1467.5 614.2 1465.7 614.6 1463.7 615 1468.4 615.4 1468.8 615.8 1465.2 616.2 1469.5 616.6 1466.8 617 1471.2 617.4 1468.2 617.8 1466.6 618.2 1469.1 618.6 1467.4 619 1467.5 619.4 1467.7 619.8 1467.6 620.2 1468.8 620.6 1469.3 621 1468.4 621.4 1470.7 621.8 1466 622.2 1466.9 622.6 1468.6 623 1465.8 623.4 1469.3 623.8 1467.9 624.2 1466.8 624.6 1467.6 625 1465.8 625.4 1464.7 625.8 1467.8 626.2 1468.3 626.6 1466.9 627 1466.5 627.4 1463.7 627.8 1466 628.2 1466.4 628.6 1467.3 629 1469.2 629.4 1466.6 629.8 1465.9 630.2 1468.2 630.6 1466.4 631 1464.9 631.4 1468.2 631.8 1465.4 632.2 1465.8 632.6 1465.5 633 1467.4 633.4 1468.6 633.8 1466.8 634.2 1467.9 634.6 1466.8 635 1470.8 635.4 1469.2 635.8 1466.3 636.2 1467.5 636.6 1468.5 637 1467.7 637.4 1466.1 637.8 1466.8 638.2 1468.4 638.6 1468 639 1466.2 639.4 1468 639.8 1466.4 640.2 1464.8 640.6 1468.1 641 1468.9 641.4 1468 641.8 1469.1 642.2 1469.4 642.6 1467.2 643 1466 643.4 1466.4 643.8 1464.4 644.2 1466.5 644.6 1466.6 645 1467.1 645.4 1468.8 645.8 1464.3 646.2 1468.6 646.6 1466.3 647 1468.3 647.4 1467.3 647.8 1465.7 648.2 1468.3 648.6 1466.1 649 1467.9 649.4 1466.2 649.8 1466.2 650.2 1466.8 650.6 1469.5 651 1468 651.4 1467.1 651.8 1469.6 652.2 1467.5 652.6 1467.1 653 1465.9 653.4 1467.6 653.8 1467.4 654.2 1466.1 654.6 1464.3 655 1467 655.4 1467.1 655.8 1466.2 656.2 1465 656.6 1464.7 657 1465.6 657.4 1468.4 657.8 1466.8 658.2 1464.2 658.6 1467.3 659 1465.6 659.4 1469.2 659.8 1465.6 660.2 1466.3 660.6 1466.6 661 1466.6 661.4 1466.4 661.8 1466.7 662.2 1466.2 662.6 1465.8 663 1466.2 663.4 1465.1 663.8 1465.9 664.2 1465.6 664.6 1465.9 665 1465.8 665.4 1466.6 665.8 1467.7 666.2 1466.5 666.6 1467.3 667 1467.3 667.4 1466.6 667.8 1466.6 668.2 1467.2 668.6 1464.1 669 1467.5 669.4 1466.1 669.8 1461.5 670.2 1467.6 670.6 1465 671 1468 671.4 1465.1 671.8 1465.8 672.2 1467.3 672.6 1465.2 673 1465 673.4 1466.6 673.8 1468.8 674.2 1468.6 674.6 1469 675 1467.5 675.4 1467.5 675.8 1468.1 676.2 1467.3 676.6 1465.6 677 1467.9 677.4 1466.2 677.8 1465.8 678.2 1467.3 678.6 1467.1 679 1468.2 679.4 1467.4 679.8 1466.5 680.2 1466.7 680.6 1466 681 1466.3 681.4 1469.1 681.8 1468.3 682.2 1467.1 682.6 1467.3 683 1466.9 683.4 1467.3 683.8 1465.6 684.2 1468.4 684.6 1467.1 685 1468.6 685.4 1469.2 685.8 1468.6 686.2 1467.1 686.6 1466.9 687 1470 687.4 1469.9 687.8 1466.5 688.2 1466.8 688.6 1470 689 1468.9 689.4 1471.7 689.8 1469.4 690.2 1469.9 690.6 1468.5 691 1467.9 691.4 1466.2 691.8 1464.3 692.2 1469.9 692.6 1469.6 693 1468.1 693.4 1470 693.8 1466.5 694.2 1470.8 694.6 1469.3 695 1470.8 695.4 1465.9 695.8 1469.9 696.2 1469.3 696.6 1468.3 697 1466.9 697.4 1468.5 697.8 1468.6 698.2 1467.4 698.6 1466.3 699 1466.5 699.4 1467 699.8 1469.2 700.2 1469.4 700.6 1470.4 701 1468.6 701.4 1466.2 701.8 1467.2 702.2 1466.3 702.6 1467.5 703 1469.5 703.4 1467.3 703.8 1466.5 704.2 1467.8 704.6 1468.3 705 1468.3 705.4 1465.7 705.8 1466 706.2 1466.5 706.6 1468.1 707 1467 707.4 1465.3 707.8 1469.3 708.2 1465.9 708.6 1466.3 709 1466.8 709.4 1465.9 709.8 1467.4 710.2 1467.8 710.6 1468 711 1468.3 711.4 1467 711.8 1466.3 712.2 1469 712.6 1467 713 1468.8 713.4 1468.2 713.8 1471.7 714.2 1468.1 714.6 1465.4 715 1467.4 715.4 1469.6 715.8 1470.4 716.2 1470 716.6 1468.2 717 1469.4 717.4 1466 717.8 1466.4 718.2 1466 718.6 1468 719 1468.6 719.4 1466.9 719.8 1466.9 720.2 1465.3 720.6 1465.4 721 1466.2 721.4 1468.1 721.8 1467 722.2 1467 722.6 1467.5 723 1467.1 723.4 1465.1 723.8 1468.5 724.2 1465.8 724.6 1466.2 725 1466.3 725.4 1467.1 725.8 1466.3 726.2 1466.9 726.6 1469.3 727 1466.1 727.4 1464.5 727.8 1469 728.2 1467.7 728.6 1468.3 729 1468.7 729.4 1466.8 729.8 1467.9 730.2 1465.2 730.6 1467.5 731 1467.7 731.4 1465.9 731.8 1466.5 732.2 1467.5 732.6 1468.5 733 1467.4 733.4 1469.5 733.8 1468.6 734.2 1468.6 734.6 1465.3 735 1466.9 735.4 1467.9 735.8 1466.9 736.2 1468.1 736.6 1467.1 737 1466.1 737.4 1467.5 737.8 1467.6 738.2 1467.1 738.6 1467.5 739 1468.5 739.4 1468.5 739.8 1468.9 740.2 1468.6 740.6 1467.7 741 1466.8 741.4 1470.1 741.8 1467.4 742.2 1468.3 742.6 1466 743 1465.3 743.4 1466 743.8 1467.3 743.8 1467.1 744.3 1458 745.3 1466.9 745.4 1466.9 745.8 1469.7 746.2 1466.6 746.6 1466 747 1470.5 747.4 1467.2 747.8 1466.8 748.2 1465.8 748.6 1468.4 749 1468.5 749 1467.8 749.5 1449.6 750.5 1467.4 750.6 1467.5 751 1464.9 751.4 1466.4 751.8 1469 752.2 1468.2 752.6 1465.2 753 1467.1 753.4 1465.3 753.8 1467.4 754.2 1462.3 754.6 1468 755 1467.3 755.4 1468.2 755.8 1465.2 756.2 1466.8 756.6 1466 757 1468.2 757.4 1467.7 757.8 1470.1 758.2 1468.5 758.6 1464 759 1468.1 759 1468.1 760 1384.3 761.5 1468.9 761.8 1467.1 762.2 1468.2 762.6 1466.8 763 1470 763.4 1470 763.8 1468.6 764.2 1466.7 764.6 1466.9 765 1467.2 765.4 1467.1 765.8 1467.6 766.2 1465 766.6 1465.2 767 1466 767.4 1468.3 767.8 1465.2 768.2 1466.9 768.6 1468 769 1464.4 769.1 1464.1 769.6 1448 770.6 1467.2 771 1466.4 771.4 1465.3 771.8 1466.6 772.2 1464.5 772.6 1467.2 773 1466.4 773.1 1466.5 773.6 1457 774.6 1465.5 775 1467.8 775.4 1469 775.8 1466.1 776.2 1466.3 776.6 1467.5 777 1468.5 777.4 1466.9 777.8 1469.3 778.2 1471 778.6 1467.8 779 1467.2 779.4 1470.7 779.8 1466.2 780.2 1469.3 780.6 1469.4 781 1465.7 781.4 1468.9 781.8 1469.5 782.2 1466.9 782.6 1464.6 783 1466.7 783.4 1470.6 783.8 1466.3 784.2 1469.4 784.6 1466.3 785 1467.3 785.4 1466.9 785.8 1467.8 786.2 1468.4 786.6 1467.9 787 1466.3 787.4 1467.3 787.8 1467.1 788.2 1466.8 788.6 1466.7 789 1466.6 789.4 1467.9 789.8 1470.3 790.2 1467.3 790.6 1467.3 791 1465.6 791.4 1465.9 791.8 1468.9 792.2 1466.2 792.6 1467.2 793 1468.1 793.4 1465.9 793.8 1468.2 794.2 1467.8 794.6 1467.4 795 1465.1 795.4 1466.4 795.8 1463.4 796.2 1466.2 796.6 1466.4 797 1465.7 797.4 1466.9 797.8 1465 798.2 1466.1 798.6 1464.7 799 1466.6 799.4 1466 799.8 1468.3 800.2 1465.6 800.6 1467.4 801 1466.7 801.4 1467.1 801.8 1468 802.2 1469.1 802.6 1468.9 803 1464.9 803.4 1467.5 803.8 1465.4 804.2 1467 804.6 1465.2 805 1468 805.4 1467.8 805.8 1467.1 806.2 1465.5 806.6 1464.5 807 1464.7 807.4 1466.2 807.8 1467.1 808.2 1467.6 808.6 1468.2 809 1465.5 809.4 1466.5 809.8 1467.4 810.2 1467.4 810.6 1466.4 811 1465.1 811.4 1469.4 811.8 1466.7 812.2 1464.7 812.6 1467.3 813 1467.1 813.4 1466.2 813.8 1466.4 814.2 1464.7 814.6 1468.4 815 1466.5 815.4 1464.2 815.8 1466.5 816.2 1463.4 816.6 1467.4 817 1466.1 817.4 1467.6 817.8 1468 818.2 1466.8 818.6 1469.9 819 1467 819.4 1467.4 819.8 1466.8 820.2 1466.4 820.6 1465.6 821 1468 821.4 1467.4 821.8 1468.7 822.2 1465.6 822.6 1465.5 823 1466.2 823.4 1466.6 823.8 1466.4 824.2 1464.3 824.6 1467.1 825 1467.9 825.4 1468 825.8 1467 826.2 1467.3 826.6 1468.9 827 1469.1 827.4 1467.6 827.8 1467.7 828.2 1467.7 828.6 1468.9 829 1467.6 829.4 1467.8 829.8 1469.7 830 1468.1 831 1394.5 832.5 1467.8 832.6 1468.7 833 1467.7 833.4 1468.1 833.8 1465.3 834.2 1466.1 834.6 1465.8 835 1467.3 835.4 1465.2 835.8 1465 836.2 1464.3 836.6 1467.3 837 1465.8 837.4 1467.2 837.8 1466.1 838.2 1467.2 838.6 1465.2 839 1467.5 839.4 1466 839.8 1465.8 840.2 1468.7 840.6 1465.8 841 1467.8 841.4 1468.2 841.8 1467.8 842.2 1467.4 842.6 1468.4 843 1466.1 843.4 1468.9 843.8 1468.9 844.2 1467.8 844.6 1467.6 845 1466.1 845.4 1466.3 845.8 1466.5 846.2 1467.6 846.6 1469.5 847 1465.3 847.4 1468.9 847.8 1467.9 848.2 1468 848.6 1467.9 849 1466.2 849.4 1466.8 849.8 1467.3 850.2 1468.7 850.6 1466.8 851 1468.9 851.4 1468.6 851.8 1467.1 852.2 1468.2 852.6 1469.6 853 1466.2 853.4 1467 853.8 1469.4 854.2 1469.3 854.6 1466.7 855 1466.2 855.4 1468 855.8 1469.2 856.2 1466.8 856.6 1466.3 857 1469 857.4 1468.3 857.8 1465.4 858.2 1465.9 858.6 1467 859 1469.5 859.4 1469 859.8 1467.5 860.2 1464.8 860.6 1470.7 861 1466.6 861.4 1469.8 861.8 1469.6 862.2 1468.3 862.6 1468 863 1466.6 863.4 1465.7 863.8 1466 864.2 1465.1 864.6 1467.4 865 1466 865.4 1470.2 865.8 1471.6 866.2 1464.8 866.6 1466.3 867 1469.3 867.4 1468.7 867.8 1468.1 868.2 1468.7 868.6 1469.3 869 1467.8 869.4 1469.5 869.8 1470.9 870.2 1471.1 870.6 1471.5 871 1468.9 871.4 1469.4 871.8 1466.2 872.2 1468.2 872.6 1467.6 873 1470.4 873.4 1471.5 873.8 1468.5 874.2 1468.2 874.6 1467.5 875 1468.1 875.4 1466.8 875.8 1469.2 876.2 1467.4 876.6 1470.1 877 1469.1 877.4 1467.1 877.8 1466.6 878.2 1468.4 878.6 1466.4 879 1464.4 879.4 1466.4 879.8 1465.4 880.2 1469.3 880.6 1466.4 881 1465.9 881.4 1463.7 881.8 1468.4 882.2 1467.3 882.6 1466.1 883 1466.1 883.4 1466.6 883.8 1467.3 884.2 1466.9 884.6 1466 885 1466.6 885.4 1463.4 885.8 1465.5 886.2 1465.7 886.6 1464.8 887 1465.2 887.4 1467.1 887.8 1465.8 888.2 1464.5 888.6 1467.1 889 1468.1 889.4 1468 889.8 1468.1 890.2 1468.7 890.6 1467.2 891 1463.8 891.4 1466.2 891.8 1465.3 892.2 1467.1 892.6 1467.8 893 1465.8 893.4 1468.2 893.8 1465.2 894.2 1467.6 894.6 1465.2 895 1466 895.4 1465.3 895.8 1467.4 896.2 1469.5 896.6 1466.7 897 1467.3 897.4 1468.3 897.8 1466.7 898.2 1467.6 898.6 1467 899 1466 899.4 1465.7 899.8 1468.5 900.2 1467 900.6 1466.1 901 1468.5 901.4 1467.6 901.8 1466.1 902.2 1466.3 902.6 1467.6 903 1466.7 903.4 1467.8 903.8 1465.4 904.2 1465.4 904.6 1467.5 905 1468.4 905.4 1466.7 905.8 1471.1 906.2 1470.4 906.6 1467.3 907 1465.9 907.4 1467.6 907.8 1466.2 908.2 1466.9 908.6 1467.6 909 1467.2 909.4 1464.5 909.8 1469.9 910.2 1466.2 910.6 1467.3 911 1468.5 911.4 1467.6 911.8 1467.5 912.2 1467.8 912.6 1465.8 913 1467.8 913.4 1468.6 913.8 1467.2 914.2 1468.8 914.6 1469.3 915 1467.1 915.4 1468.9 915.8 1467.9 916.2 1469.3 916.6 1467.1 917 1465.8 917.4 1469.1 917.8 1468.8 918.2 1468.1 918.6 1466.2 919 1466.6 919.4 1468.1 919.8 1467.7 920.2 1466.2 920.6 1467.3 921 1468.2 921.4 1466.2 921.8 1467 922.2 1466 922.6 1468 923 1466.5 923.4 1466.9 923.8 1468.2 924.2 1467.5 924.6 1466.2 925 1468.4 925.4 1464.9 925.8 1465 926.2 1467.3 926.6 1466.8 927 1468.4 927.4 1467 927.8 1466.9 928.2 1468.2 928.6 1465.9 929 1465 929.4 1467.7 929.8 1465.4 930.2 1467.2 930.6 1465.3 931 1466.4 931.4 1466.3 931.8 1465.6 932.2 1466 932.6 1467.7 933 1467.3 933.4 1468.1 933.8 1466 934.2 1466.5 934.6 1465.7 935 1465.6 935.4 1466.8 935.8 1467 936.2 1467.6 936.6 1468.2 937 1467.7 937.4 1466.5 937.8 1465.5 938.2 1468.8 938.6 1467.8 939 1463.1 939.4 1467 939.8 1468.2 940.2 1466.2 940.6 1467.3 941 1466.6 941.4 1467.1 941.8 1466.9 942.2 1468 942.6 1467.5 943 1468.1 943.4 1466.6 943.8 1467.9 944.2 1466.3 944.6 1464.4 945 1467.3 945.4 1467.2 945.8 1465.5 946.2 1468.6 946.6 1466.4 947 1468 947.4 1466.9 947.8 1467.7 948.2 1468 948.6 1468.7 949 1466.4 949.4 1465.7 949.8 1469.7 950.2 1467.6 950.6 1470.6 951 1467 951.4 1465.1 951.8 1467.2 952.2 1467.5 952.6 1467.2 953 1466.2 953.4 1467.4 953.8 1465.2 954.2 1465 954.6 1466.8 955 1467.9 955.4 1463.6 955.8 1467.2 956.2 1466.1 956.6 1465.1 957 1466.5 957.4 1466.2 957.8 1466.1 958.2 1466.8 958.6 1466.4 959 1467 959.4 1467 959.8 1464.8 960.2 1465.5 960.6 1462.8 961 1465.2 961.4 1463.9 961.8 1465.1 962.2 1465.8 962.6 1466.5 963 1465.6 963.4 1469.2 963.8 1465.8 964.2 1464 964.6 1468.4 965 1465.9 965.4 1466 965.8 1467.1 966.2 1465.5 966.6 1468.6 967 1469.4 967.4 1468.4 967.8 1467.2 968.2 1466.6 968.6 1468.3 969 1468.9 969.4 1468.6 969.8 1468 970.2 1469.6 970.6 1467.8 971 1466 971.4 1465.8 971.8 1468.2 972.2 1470.1 972.6 1468.1 973 1467.6 973.4 1467.2 973.8 1469.7 974.2 1466.3 974.6 1467.3 975 1470.1 975.4 1467.7 975.8 1468.3 976.2 1470.1 976.6 1470 977 1468.5 977.4 1469.9 977.8 1465.5 978.2 1466.6 978.6 1468.3 979 1467 979.4 1467.4 979.8 1467.2 980.2 1468.7 980.6 1467.2 981 1469.6 981.4 1468.2 981.8 1469.9 982.2 1465.5 982.6 1464.5 983 1467.2 983.4 1467.6 983.8 1468.8 984.2 1468.9 984.6 1467.5 985 1469.7 985.4 1468.2 985.8 1468.2 986.2 1470.2 986.6 1469.7 987 1468.7 987.4 1468.6 987.8 1471.5 988.2 1468.5 988.6 1468.1 989 1467.9 989.4 1466.7 989.8 1469.5 990.2 1469.8 990.6 1468.4 991 1465.4 991.4 1465.6 991.8 1468.1 992.2 1467.3 992.6 1467.4 993 1467.2 993.4 1466.4 993.8 1466.7 994.2 1466.8 994.6 1467 995 1467 995.4 1466.5 995.8 1462.6 996.2 1465 996.6 1467.8 997 1467.8 997.4 1468.6 997.8 1465 998.2 1465.3 998.6 1466.5 999 1468.1 999.4 1466.8 999.8 1467.1 1000.2 1466.9 1000.6 1467.1 1001 1466.1 1001.4 1468 1001.8 1462.8 1002.2 1467 1002.6 1466.3 1003 1467.7 1003.4 1468.5 1003.8 1466.6 1004.2 1468.5 1004.6 1467.3 1005 1467.7 1005.4 1467 1005.8 1467.7 1006.2 1469.4 1006.6 1466.3 1007 1466.2 1007.4 1466.4 1007.8 1465.9 1008.2 1466.1 1008.6 1469.1 1009 1467.2 1009.4 1468 1009.8 1467.3 1010.2 1469.2 1010.6 1465.2 1011 1463.5 1011.4 1464.4 1011.8 1458.5 1012.2 1440.5 1012.6 1420 1013 1397.3 1013.4 1402 1013.8 1404.5 1013.9 1404.7 1014.4 1375 1015.4 1409.5 1015.8 1413.7 1016.2 1412 1016.6 1415.3 1017 1417.5 1017.4 1418.5 1017.5 1419.4 1018 1364 1019 1421.3 1019.4 1426.4 1019.8 1430.6 1020.2 1431.1 1020.6 1438.1 1021 1435.1 1021.4 1437 1021.8 1441.3 1022.2 1441.2 1022.3 1442 1022.8 1355.4 1023.8 1449.7 1024.2 1449.8 1024.6 1452.5 1025 1453.4 1025.4 1452.9 1025.8 1450.4 1026.2 1453.3 1026.6 1449.5 1027 1451 1027.4 1451.9 1027.8 1452.9 1028.2 1454.4 1028.6 1454.5 1029 1452.2 1029.4 1453.4 1029.8 1450.3 1030.2 1449.6 1030.6 1450.6 1031 1446.7 1031.4 1441.5 1031.8 1435.8 1032.2 1426.5 1032.5 1414.4 1033 1319.6 1034 1384.3 1034.2 1384.8 1034.5 1403.1 1035 1325 1036 1454.9 1036.2 1459.4 1036.6 1462.4 1037 1460.6 1037.4 1460.9 1037.8 1456.6 1038.2 1455.1 1038.6 1461.3 1039 1456.7 1039.4 1454 1039.8 1457.4 1040.2 1458.5 1040.6 1459.7 1041 1460.8 1041.4 1462.6 1041.8 1457.2 1042.2 1456.6 1042.6 1453.2 1043 1463.4 1043.4 1455.8 1043.8 1459 1044.2 1462.3 1044.6 1455.9 1045 1458.1 1045.4 1462.7 1045.8 1460.6 1046.2 1455.9 1046.5 1452.1 1047 1420 1048 1429.2 1048.2 1428.4 1048.6 1432.8 1049 1439.1 1049.4 1327.4 1050.4 1450.7 1050.6 1454.3 1051 1455.3 1051.4 1458.8 1051.8 1457.3 1052.2 1458 1052.6 1459.2 1053 1452.1 1053.4 1457.5 1053.8 1458.2 1054.2 1459.2 1054.6 1456.7 1055 1453.9 1055.4 1456.8 1055.8 1458.1 1056.2 1459.1 1056.6 1456.5 1057 1459.2 1057.4 1457.7 1057.8 1456 1058.2 1457.2 1058.6 1455.4 1059 1459 1059.4 1458.1 1059.8 1459.3 1060.2 1453 1060.6 1457.8 1061 1455.3 1061.4 1452.2 1061.8 1452.9 1062.2 1454 1062.6 1447.4 1063 1450.6 1063.4 1454 1063.8 1460.3 1064.2 1459.6 1064.6 1455.7 1065 1460.6 1065.4 1456.1 1065.8 1459" fill="none" stroke="#000" stroke-width="2.7" stroke-linejoin="round"/>
<text x="857.5" y="25" font-size="31" font-weight="bold">c</text>
<line x1="972" y1="35" x2="972" y2="297.5" stroke="#000" stroke-width="3.4"/>
<line x1="946.5" y1="296" x2="1353" y2="296" stroke="#000" stroke-width="3.4"/>
<line x1="948" y1="296" x2="972" y2="296" stroke="#000" stroke-width="3"/>
<text x="944.5" y="303.5" text-anchor="end">0</text>
<line x1="948" y1="244" x2="972" y2="244" stroke="#000" stroke-width="3"/>
<text x="944.5" y="251.5" text-anchor="end">10</text>
<line x1="948" y1="192" x2="972" y2="192" stroke="#000" stroke-width="3"/>
<text x="944.5" y="199.5" text-anchor="end">20</text>
<line x1="948" y1="140" x2="972" y2="140" stroke="#000" stroke-width="3"/>
<text x="944.5" y="147.5" text-anchor="end">30</text>
<line x1="948" y1="88" x2="972" y2="88" stroke="#000" stroke-width="3"/>
<text x="944.5" y="95.5" text-anchor="end">40</text>
<line x1="948" y1="36" x2="972" y2="36" stroke="#000" stroke-width="3"/>
<text x="944.5" y="43.5" text-anchor="end">50</text>
<text transform="translate(885,166) rotate(-90)" text-anchor="middle">% of active δ-cells</text>
<text transform="translate(908.5,166) rotate(-90)" text-anchor="middle">at 1 mM glucose</text>
<rect x="993.2" y="119.6" width="40.7" height="176.4" fill="#fff" stroke="#000" stroke-width="3.1"/>
<line x1="1013.6" y1="119.6" x2="1013.6" y2="106.4" stroke="#000" stroke-width="3.1"/>
<line x1="1001.6" y1="106.4" x2="1025.6" y2="106.4" stroke="#000" stroke-width="3.4"/>
<circle cx="1013.6" cy="94.5" r="3.9" fill="#000"/>
<circle cx="1007.6" cy="131" r="3.9" fill="#000"/>
<circle cx="1018.8" cy="130.2" r="3.9" fill="#000"/>
<rect x="1053.2" y="211.5" width="40.7" height="84.5" fill="#fff" stroke="#000" stroke-width="3.1"/>
<line x1="1073.6" y1="211.5" x2="1073.6" y2="181.9" stroke="#000" stroke-width="3.1"/>
<line x1="1061.6" y1="181.9" x2="1085.6" y2="181.9" stroke="#000" stroke-width="3.4"/>
<circle cx="1073.6" cy="83.6" r="3.9" fill="#000"/>
<circle cx="1073.6" cy="179.3" r="3.9" fill="#000"/>
<circle cx="1073.6" cy="192.8" r="3.9" fill="#000"/>
<circle cx="1073.6" cy="205.2" r="3.9" fill="#000"/>
<circle cx="1073.6" cy="214.7" r="3.9" fill="#000"/>
<circle cx="1068.8" cy="295" r="3.9" fill="#000"/>
<circle cx="1079.1" cy="295" r="3.9" fill="#000"/>
<rect x="1114.1" y="198.9" width="40.7" height="97.1" fill="#fff" stroke="#000" stroke-width="3.1"/>
<line x1="1134.4" y1="198.9" x2="1134.4" y2="170.2" stroke="#000" stroke-width="3.1"/>
<line x1="1122.4" y1="170.2" x2="1146.4" y2="170.2" stroke="#000" stroke-width="3.4"/>
<circle cx="1134.3" cy="143.1" r="3.9" fill="#000"/>
<circle cx="1134.3" cy="160.3" r="3.9" fill="#000"/>
<circle cx="1129.1" cy="192.8" r="3.9" fill="#000"/>
<circle cx="1139.5" cy="192.8" r="3.9" fill="#000"/>
<circle cx="1134.3" cy="192.8" r="3.9" fill="#000"/>
<circle cx="1134.3" cy="295" r="3.9" fill="#000"/>
<rect x="1174.1" y="246" width="40.7" height="50" fill="#fff" stroke="#000" stroke-width="3.1"/>
<line x1="1194.4" y1="246" x2="1194.4" y2="219" stroke="#000" stroke-width="3.1"/>
<line x1="1182.4" y1="219" x2="1206.4" y2="219" stroke="#000" stroke-width="3.4"/>
<circle cx="1194.6" cy="167.2" r="3.9" fill="#000"/>
<circle cx="1194.6" cy="218" r="3.9" fill="#000"/>
<circle cx="1194.6" cy="240.5" r="3.9" fill="#000"/>
<circle cx="1189.5" cy="295" r="3.9" fill="#000"/>
<circle cx="1199.8" cy="295" r="3.9" fill="#000"/>
<rect x="1234.7" y="209.8" width="40.7" height="86.2" fill="#fff" stroke="#000" stroke-width="3.1"/>
<line x1="1255" y1="209.8" x2="1255" y2="178.4" stroke="#000" stroke-width="3.1"/>
<line x1="1243" y1="178.4" x2="1267" y2="178.4" stroke="#000" stroke-width="3.4"/>
<circle cx="1255" cy="134.8" r="3.9" fill="#000"/>
<circle cx="1255" cy="175" r="3.9" fill="#000"/>
<circle cx="1255" cy="180" r="3.9" fill="#000"/>
<circle cx="1255" cy="250.9" r="3.9" fill="#000"/>
<circle cx="1255" cy="295" r="3.9" fill="#000"/>
<rect x="1294.7" y="203.2" width="40.7" height="92.8" fill="#fff" stroke="#000" stroke-width="3.1"/>
<line x1="1315" y1="203.2" x2="1315" y2="185.3" stroke="#000" stroke-width="3.1"/>
<line x1="1303" y1="185.3" x2="1327" y2="185.3" stroke="#000" stroke-width="3.4"/>
<circle cx="1310.2" cy="167.2" r="3.9" fill="#000"/>
<circle cx="1320.5" cy="167.2" r="3.9" fill="#000"/>
<circle cx="1315.3" cy="201.7" r="3.9" fill="#000"/>
<circle cx="1315.3" cy="219.8" r="3.9" fill="#000"/>
<circle cx="1315.3" cy="249.1" r="3.9" fill="#000"/>
<line x1="946.5" y1="296" x2="1353" y2="296" stroke="#000" stroke-width="3.4"/>
<text x="1067.6" y="84.1" font-size="34" letter-spacing="2.2" style="stroke-width:0.6px">*</text>
<text x="1127.6" y="143.6" font-size="34" letter-spacing="2.2" style="stroke-width:0.6px">*</text>
<text x="1180.5" y="166.8" font-size="34" letter-spacing="2.2" style="stroke-width:0.6px">**</text>
<text x="1248.6" y="137.6" font-size="34" letter-spacing="2.2" style="stroke-width:0.6px">*</text>
<text x="1301.1" y="166.8" font-size="34" letter-spacing="2.2" style="stroke-width:0.6px">**</text>
<text x="971.3" y="331.5" text-anchor="end">ESI-05 (μM)</text>
<text x="1013.6" y="331.5" text-anchor="middle">0</text>
<text x="1073.6" y="331.5" text-anchor="middle">25</text>
<text x="1134.4" y="331.5" text-anchor="middle">0</text>
<text x="1194.4" y="331.5" text-anchor="middle">0</text>
<text x="1255" y="331.5" text-anchor="middle">0</text>
<text x="1315" y="331.5" text-anchor="middle">0</text>
<text x="971.3" y="360.4" text-anchor="end">PKI (μM)</text>
<text x="1013.6" y="360.4" text-anchor="middle">0</text>
<text x="1073.6" y="360.4" text-anchor="middle">0</text>
<text x="1134.4" y="360.4" text-anchor="middle">1</text>
<text x="1194.4" y="360.4" text-anchor="middle">0</text>
<text x="1255" y="360.4" text-anchor="middle">0</text>
<text x="1315" y="360.4" text-anchor="middle">0</text>
<text x="971.3" y="388.8" text-anchor="end">Ryanodine (μM)</text>
<text x="1013.6" y="388.8" text-anchor="middle">0</text>
<text x="1073.6" y="388.8" text-anchor="middle">0</text>
<text x="1134.4" y="388.8" text-anchor="middle">0</text>
<text x="1194.4" y="388.8" text-anchor="middle">50</text>
<text x="1255" y="388.8" text-anchor="middle">0</text>
<text x="1315" y="388.8" text-anchor="middle">0</text>
<text x="971.3" y="417.9" text-anchor="end">YM-254890 (μM)</text>
<text x="1013.6" y="417.9" text-anchor="middle">0</text>
<text x="1073.6" y="417.9" text-anchor="middle">0</text>
<text x="1134.4" y="417.9" text-anchor="middle">0</text>
<text x="1194.4" y="417.9" text-anchor="middle">0</text>
<text x="1255" y="417.9" text-anchor="middle">1</text>
<text x="1315" y="417.9" text-anchor="middle">0</text>
<text x="971.3" y="446.8" text-anchor="end">Xestospongin C (μM)</text>
<text x="1013.6" y="446.8" text-anchor="middle">0</text>
<text x="1073.6" y="446.8" text-anchor="middle">0</text>
<text x="1134.4" y="446.8" text-anchor="middle">0</text>
<text x="1194.4" y="446.8" text-anchor="middle">0</text>
<text x="1255" y="446.8" text-anchor="middle">0</text>
<text x="1315" y="446.8" text-anchor="middle">10</text>
<text x="1406" y="26" font-size="31" font-weight="bold">d</text>
<line x1="1544.2" y1="35.5" x2="1544.2" y2="158" stroke="#000" stroke-width="3.4"/>
<line x1="1544.2" y1="174" x2="1544.2" y2="298.2" stroke="#000" stroke-width="3.4"/>
<line x1="1536.3" y1="165.7" x2="1552.4" y2="150.5" stroke="#000" stroke-width="3"/>
<line x1="1536.3" y1="181.8" x2="1552.4" y2="166.6" stroke="#000" stroke-width="3"/>
<line x1="1520" y1="36.4" x2="1544.2" y2="36.4" stroke="#000" stroke-width="3"/>
<text x="1516.5" y="43.9" text-anchor="end" letter-spacing="0.5">4.0</text>
<line x1="1520" y1="87" x2="1544.2" y2="87" stroke="#000" stroke-width="3"/>
<text x="1516.5" y="94.5" text-anchor="end" letter-spacing="0.5">2.5</text>
<line x1="1520" y1="139" x2="1544.2" y2="139" stroke="#000" stroke-width="3"/>
<text x="1516.5" y="146.5" text-anchor="end" letter-spacing="0.5">1.0</text>
<text x="1516.5" y="181.5" text-anchor="end" letter-spacing="0.5">0.5</text>
<line x1="1520" y1="236" x2="1544.2" y2="236" stroke="#000" stroke-width="3"/>
<text x="1516.5" y="243.5" text-anchor="end" letter-spacing="0.5">0.3</text>
<line x1="1520" y1="296.7" x2="1544.2" y2="296.7" stroke="#000" stroke-width="3"/>
<text x="1516.5" y="304.2" text-anchor="end" letter-spacing="0.5">0.0</text>
<text transform="translate(1452.5,169) rotate(-90)" text-anchor="middle">Ca<tspan font-size="9.5" dy="-11">2+</tspan><tspan dy="11"> activity</tspan></text>
<text transform="translate(1477,165) rotate(-90)" text-anchor="middle">(spikes/min)</text>
<path d="M1577.7 178 1581.2 190 1584.2 210 1587.2 230 1590.2 250 1592.7 270 1593.2 285 1593.2 294.5 1561.2 294.5 1561.2 285 1561.7 270 1564.2 250 1567.2 230 1570.2 210 1573.2 190 1576.7 178Z" fill="#9e9ea2"/>
<line x1="1577.2" y1="178" x2="1577.2" y2="190" stroke="#9e9ea2" stroke-width="0.8"/>
<path d="M1622.6 176 1622.8 268 1626.2 280 1632.2 288 1637.2 294.5 1607.2 294.5 1612.2 288 1618.2 280 1621.6 268 1621.8 176Z" fill="#f3a3a6"/>
<line x1="1622.2" y1="176" x2="1622.2" y2="268" stroke="#f3a3a6" stroke-width="0.8"/>
<path d="M1667.6 185 1668.2 255 1670.2 266 1677.2 280 1682.2 294.5 1652.2 294.5 1657.2 280 1664.2 266 1666.2 255 1666.8 185Z" fill="#f7dfc2"/>
<line x1="1667.2" y1="185" x2="1667.2" y2="255" stroke="#f7dfc2" stroke-width="0.8"/>
<path d="M1712.6 284 1717.3 290 1723.3 294.5 1701.3 294.5 1707.3 290 1712 284Z" fill="#cfdcf6"/>
<line x1="1712.3" y1="284" x2="1712.3" y2="290" stroke="#cfdcf6" stroke-width="0.8"/>
<path d="M1757.8 176 1759.3 190 1760.8 215 1762.8 240 1765.8 260 1771.3 280 1773.3 294.5 1741.3 294.5 1743.3 280 1748.8 260 1751.8 240 1753.8 215 1755.3 190 1756.8 176Z" fill="#cdb08d"/>
<line x1="1757.3" y1="176" x2="1757.3" y2="190" stroke="#cdb08d" stroke-width="0.8"/>
<path d="M1802.8 185 1804.4 240 1806.9 260 1812.4 275 1818.4 294.5 1786.4 294.5 1792.4 275 1797.9 260 1800.4 240 1802 185Z" fill="#d9d9d9"/>
<line x1="1802.4" y1="185" x2="1802.4" y2="240" stroke="#d9d9d9" stroke-width="0.8"/>
<path d="M1884.1 176 1886.1 200 1887.3 230 1887.3 260 1886.1 285 1884.1 294.5 1859.1 294.5 1857.1 285 1855.9 260 1855.9 230 1857.1 200 1859.1 176Z" fill="#9e9ea2"/>
<path d="M1917.1 185 1917.5 265 1922.7 280 1929.7 290 1931.7 294.5 1901.7 294.5 1903.7 290 1910.7 280 1915.9 265 1916.3 185Z" fill="#f3a3a6"/>
<line x1="1916.7" y1="185" x2="1916.7" y2="265" stroke="#f3a3a6" stroke-width="0.8"/>
<path d="M1962 185 1962.6 265 1969.6 280 1976.6 294.5 1946.6 294.5 1953.6 280 1960.6 265 1961.2 185Z" fill="#f7dfc2"/>
<line x1="1961.6" y1="185" x2="1961.6" y2="265" stroke="#f7dfc2" stroke-width="0.8"/>
<path d="M2006.8 288 2016.5 294.5 1996.5 294.5 2006.2 288Z" fill="#cfdcf6"/>
<line x1="2006.5" y1="288" x2="2006.5" y2="294.5" stroke="#cfdcf6" stroke-width="0.8"/>
<path d="M2052 188 2053.6 260 2059.6 275 2067.6 294.5 2035.6 294.5 2043.6 275 2049.6 260 2051.2 188Z" fill="#cdb08d"/>
<line x1="2051.6" y1="188" x2="2051.6" y2="260" stroke="#cdb08d" stroke-width="0.8"/>
<path d="M2097.1 185 2098.7 270 2106.7 282 2111.7 294.5 2081.7 294.5 2086.7 282 2094.7 270 2096.3 185Z" fill="#d9d9d9"/>
<line x1="2096.7" y1="185" x2="2096.7" y2="270" stroke="#d9d9d9" stroke-width="0.8"/>
<path d="M1871.6 139 1877 150 1880 156 1863 156 1866 150Z" fill="#9e9ea2"/>
<circle cx="1577.2" cy="113" r="2.5" fill="#000"/>
<circle cx="1577.2" cy="137.7" r="2.5" fill="#000"/>
<circle cx="1577.2" cy="140" r="2.5" fill="#000"/>
<circle cx="1577.2" cy="142" r="2.5" fill="#000"/>
<circle cx="1577.2" cy="144" r="2.5" fill="#000"/>
<circle cx="1577.2" cy="146" r="2.5" fill="#000"/>
<circle cx="1577.2" cy="148" r="2.5" fill="#000"/>
<circle cx="1582.2" cy="149.5" r="2.5" fill="#000"/>
<circle cx="1577.2" cy="151" r="2.5" fill="#000"/>
<circle cx="1577.2" cy="153" r="2.5" fill="#000"/>
<circle cx="1577.2" cy="155" r="2.5" fill="#000"/>
<circle cx="1573.1" cy="178" r="2.5" fill="#000"/>
<circle cx="1575.3" cy="188" r="2.5" fill="#000"/>
<circle cx="1579.2" cy="190" r="2.5" fill="#000"/>
<circle cx="1572.9" cy="197.5" r="2.5" fill="#000"/>
<circle cx="1574.6" cy="211" r="2.5" fill="#000"/>
<circle cx="1573.2" cy="216" r="2.5" fill="#000"/>
<circle cx="1575.4" cy="221" r="2.5" fill="#000"/>
<circle cx="1578.7" cy="225" r="2.5" fill="#000"/>
<circle cx="1575.5" cy="229" r="2.5" fill="#000"/>
<circle cx="1578" cy="233" r="2.5" fill="#000"/>
<circle cx="1573.3" cy="237" r="2.5" fill="#000"/>
<circle cx="1580.5" cy="241" r="2.5" fill="#000"/>
<circle cx="1573.9" cy="244" r="2.5" fill="#000"/>
<circle cx="1574.3" cy="247" r="2.5" fill="#000"/>
<circle cx="1577.2" cy="250" r="2.5" fill="#000"/>
<circle cx="1580.5" cy="254" r="2.5" fill="#000"/>
<circle cx="1579.5" cy="262" r="2.5" fill="#000"/>
<circle cx="1581.4" cy="267" r="2.5" fill="#000"/>
<circle cx="1579.5" cy="270" r="2.5" fill="#000"/>
<circle cx="1576.2" cy="272" r="2.5" fill="#000"/>
<circle cx="1576.4" cy="279" r="2.5" fill="#000"/>
<line x1="1563.2" y1="296.2" x2="1591.2" y2="296.2" stroke="#000" stroke-width="5" stroke-linecap="round"/>
<circle cx="1622.2" cy="124" r="2.5" fill="#ec1c24"/>
<circle cx="1622.2" cy="135.5" r="2.5" fill="#ec1c24"/>
<circle cx="1622.2" cy="144.5" r="2.5" fill="#ec1c24"/>
<circle cx="1622.2" cy="147" r="2.5" fill="#ec1c24"/>
<circle cx="1622.2" cy="149.5" r="2.5" fill="#ec1c24"/>
<circle cx="1622.2" cy="152" r="2.5" fill="#ec1c24"/>
<circle cx="1622.2" cy="155" r="2.5" fill="#ec1c24"/>
<circle cx="1622.2" cy="182.6" r="2.5" fill="#ec1c24"/>
<circle cx="1622.2" cy="186" r="2.5" fill="#ec1c24"/>
<circle cx="1622.2" cy="189" r="2.5" fill="#ec1c24"/>
<circle cx="1622.2" cy="196" r="2.5" fill="#ec1c24"/>
<circle cx="1622.2" cy="200" r="2.5" fill="#ec1c24"/>
<circle cx="1622.2" cy="202" r="2.5" fill="#ec1c24"/>
<circle cx="1622.2" cy="220" r="2.5" fill="#ec1c24"/>
<circle cx="1622.2" cy="227" r="2.5" fill="#ec1c24"/>
<circle cx="1622.2" cy="245" r="2.5" fill="#ec1c24"/>
<circle cx="1622.2" cy="247.5" r="2.5" fill="#ec1c24"/>
<circle cx="1622.2" cy="250.5" r="2.5" fill="#ec1c24"/>
<circle cx="1622.2" cy="253" r="2.5" fill="#ec1c24"/>
<circle cx="1622.2" cy="256" r="2.5" fill="#ec1c24"/>
<circle cx="1622.2" cy="258.5" r="2.5" fill="#ec1c24"/>
<circle cx="1622.2" cy="261" r="2.5" fill="#ec1c24"/>
<circle cx="1622.2" cy="263.5" r="2.5" fill="#ec1c24"/>
<circle cx="1622.2" cy="266" r="2.5" fill="#ec1c24"/>
<circle cx="1622.2" cy="268" r="2.5" fill="#ec1c24"/>
<circle cx="1622.2" cy="270" r="2.5" fill="#ec1c24"/>
<circle cx="1622.2" cy="272" r="2.5" fill="#ec1c24"/>
<circle cx="1622.2" cy="274" r="2.5" fill="#ec1c24"/>
<circle cx="1622.2" cy="276" r="2.5" fill="#ec1c24"/>
<circle cx="1622.2" cy="278" r="2.5" fill="#ec1c24"/>
<circle cx="1622.2" cy="280" r="2.5" fill="#ec1c24"/>
<circle cx="1623.3" cy="282" r="2.5" fill="#ec1c24"/>
<circle cx="1620.4" cy="284" r="2.5" fill="#ec1c24"/>
<circle cx="1626.1" cy="286" r="2.5" fill="#ec1c24"/>
<circle cx="1628" cy="288" r="2.5" fill="#ec1c24"/>
<circle cx="1626.7" cy="290" r="2.5" fill="#ec1c24"/>
<line x1="1609.2" y1="296.2" x2="1635.2" y2="296.2" stroke="#5a0a0a" stroke-width="5" stroke-linecap="round"/>
<circle cx="1667.2" cy="99" r="2.5" fill="#f07a28"/>
<circle cx="1667.2" cy="149" r="2.5" fill="#f07a28"/>
<circle cx="1667.2" cy="154" r="2.5" fill="#f07a28"/>
<circle cx="1667.2" cy="196" r="2.5" fill="#f07a28"/>
<circle cx="1667.2" cy="205" r="2.5" fill="#f07a28"/>
<circle cx="1667.2" cy="207" r="2.5" fill="#f07a28"/>
<circle cx="1667.2" cy="209.5" r="2.5" fill="#f07a28"/>
<circle cx="1667.2" cy="212" r="2.5" fill="#f07a28"/>
<circle cx="1667.2" cy="214" r="2.5" fill="#f07a28"/>
<circle cx="1667.2" cy="216" r="2.5" fill="#f07a28"/>
<circle cx="1667.2" cy="236" r="2.5" fill="#f07a28"/>
<circle cx="1667.2" cy="251" r="2.5" fill="#f07a28"/>
<circle cx="1672.2" cy="252.5" r="2.5" fill="#f07a28"/>
<circle cx="1667.2" cy="254.5" r="2.5" fill="#f07a28"/>
<circle cx="1667.2" cy="275" r="2.5" fill="#f07a28"/>
<circle cx="1667.2" cy="277" r="2.5" fill="#f07a28"/>
<circle cx="1667.2" cy="285" r="2.5" fill="#f07a28"/>
<line x1="1654.2" y1="296.2" x2="1680.2" y2="296.2" stroke="#000" stroke-width="5" stroke-linecap="round"/>
<circle cx="1712.3" cy="154" r="2.5" fill="#1a1aff"/>
<circle cx="1712.3" cy="187.7" r="2.5" fill="#1a1aff"/>
<circle cx="1712.3" cy="215" r="2.5" fill="#1a1aff"/>
<circle cx="1712.3" cy="217" r="2.5" fill="#1a1aff"/>
<circle cx="1712.3" cy="219.5" r="2.5" fill="#1a1aff"/>
<circle cx="1717.3" cy="221" r="2.5" fill="#1a1aff"/>
<circle cx="1712.3" cy="230" r="2.5" fill="#1a1aff"/>
<circle cx="1712.3" cy="242" r="2.5" fill="#1a1aff"/>
<circle cx="1712.3" cy="265" r="2.5" fill="#1a1aff"/>
<circle cx="1712.3" cy="267" r="2.5" fill="#1a1aff"/>
<circle cx="1712.3" cy="269" r="2.5" fill="#1a1aff"/>
<circle cx="1712.3" cy="271" r="2.5" fill="#1a1aff"/>
<circle cx="1712.3" cy="273" r="2.5" fill="#1a1aff"/>
<circle cx="1712.3" cy="275.5" r="2.5" fill="#1a1aff"/>
<circle cx="1712.3" cy="283" r="2.5" fill="#1a1aff"/>
<circle cx="1712.3" cy="292" r="2.5" fill="#1a1aff"/>
<line x1="1698.3" y1="296.2" x2="1726.3" y2="296.2" stroke="#0a0a8a" stroke-width="5" stroke-linecap="round"/>
<circle cx="1757.3" cy="124.5" r="2.5" fill="#9b6a2c"/>
<circle cx="1757.3" cy="141.5" r="2.5" fill="#9b6a2c"/>
<circle cx="1757.3" cy="154.5" r="2.5" fill="#9b6a2c"/>
<circle cx="1757.3" cy="186" r="2.5" fill="#9b6a2c"/>
<circle cx="1757.3" cy="189" r="2.5" fill="#9b6a2c"/>
<circle cx="1757.3" cy="192" r="2.5" fill="#9b6a2c"/>
<circle cx="1757.3" cy="195" r="2.5" fill="#9b6a2c"/>
<circle cx="1757.3" cy="197" r="2.5" fill="#9b6a2c"/>
<circle cx="1757.3" cy="199" r="2.5" fill="#9b6a2c"/>
<circle cx="1757.3" cy="201" r="2.5" fill="#9b6a2c"/>
<circle cx="1757.3" cy="203" r="2.5" fill="#9b6a2c"/>
<circle cx="1757.3" cy="205" r="2.5" fill="#9b6a2c"/>
<circle cx="1757.3" cy="207" r="2.5" fill="#9b6a2c"/>
<circle cx="1757.3" cy="209" r="2.5" fill="#9b6a2c"/>
<circle cx="1757.3" cy="213" r="2.5" fill="#9b6a2c"/>
<circle cx="1757.3" cy="218" r="2.5" fill="#9b6a2c"/>
<circle cx="1757.3" cy="220" r="2.5" fill="#9b6a2c"/>
<circle cx="1757.3" cy="222" r="2.5" fill="#9b6a2c"/>
<circle cx="1757.3" cy="225" r="2.5" fill="#9b6a2c"/>
<circle cx="1757.3" cy="228" r="2.5" fill="#9b6a2c"/>
<circle cx="1757.3" cy="230" r="2.5" fill="#9b6a2c"/>
<circle cx="1757.3" cy="232" r="2.5" fill="#9b6a2c"/>
<circle cx="1757.3" cy="234" r="2.5" fill="#9b6a2c"/>
<circle cx="1757.3" cy="236.5" r="2.5" fill="#9b6a2c"/>
<circle cx="1757.3" cy="240" r="2.5" fill="#9b6a2c"/>
<circle cx="1757.3" cy="245" r="2.5" fill="#9b6a2c"/>
<circle cx="1757.3" cy="250" r="2.5" fill="#9b6a2c"/>
<circle cx="1757.3" cy="258" r="2.5" fill="#9b6a2c"/>
<circle cx="1757.3" cy="272" r="2.5" fill="#9b6a2c"/>
<circle cx="1757.3" cy="274.5" r="2.5" fill="#9b6a2c"/>
<circle cx="1757.3" cy="291" r="2.5" fill="#9b6a2c"/>
<line x1="1743.3" y1="296.2" x2="1771.3" y2="296.2" stroke="#000" stroke-width="5" stroke-linecap="round"/>
<circle cx="1802.4" cy="132" r="2.5" fill="#8c8c8c"/>
<circle cx="1802.4" cy="135" r="2.5" fill="#8c8c8c"/>
<circle cx="1802.4" cy="149" r="2.5" fill="#8c8c8c"/>
<circle cx="1802.4" cy="178.5" r="2.5" fill="#8c8c8c"/>
<circle cx="1802.4" cy="181" r="2.5" fill="#8c8c8c"/>
<circle cx="1802.4" cy="200" r="2.5" fill="#8c8c8c"/>
<circle cx="1802.4" cy="208" r="2.5" fill="#8c8c8c"/>
<circle cx="1802.4" cy="212" r="2.5" fill="#8c8c8c"/>
<circle cx="1802.4" cy="216" r="2.5" fill="#8c8c8c"/>
<circle cx="1802.4" cy="219" r="2.5" fill="#8c8c8c"/>
<circle cx="1802.4" cy="222" r="2.5" fill="#8c8c8c"/>
<circle cx="1802.4" cy="224.5" r="2.5" fill="#8c8c8c"/>
<circle cx="1802.4" cy="227" r="2.5" fill="#8c8c8c"/>
<circle cx="1802.4" cy="229.5" r="2.5" fill="#8c8c8c"/>
<circle cx="1802.4" cy="232" r="2.5" fill="#8c8c8c"/>
<circle cx="1802.4" cy="235" r="2.5" fill="#8c8c8c"/>
<circle cx="1802.4" cy="238" r="2.5" fill="#8c8c8c"/>
<circle cx="1802.4" cy="241" r="2.5" fill="#8c8c8c"/>
<circle cx="1802.4" cy="244" r="2.5" fill="#8c8c8c"/>
<circle cx="1802.4" cy="248" r="2.5" fill="#8c8c8c"/>
<circle cx="1802.4" cy="251" r="2.5" fill="#8c8c8c"/>
<circle cx="1802.4" cy="255" r="2.5" fill="#8c8c8c"/>
<circle cx="1802.4" cy="262" r="2.5" fill="#8c8c8c"/>
<circle cx="1802.4" cy="266" r="2.5" fill="#8c8c8c"/>
<circle cx="1802.4" cy="269" r="2.5" fill="#8c8c8c"/>
<circle cx="1802.4" cy="272" r="2.5" fill="#8c8c8c"/>
<circle cx="1802.4" cy="290" r="2.5" fill="#8c8c8c"/>
<line x1="1788.4" y1="296.2" x2="1816.4" y2="296.2" stroke="#000" stroke-width="5" stroke-linecap="round"/>
<circle cx="1871.6" cy="69.3" r="2.5" fill="#000"/>
<circle cx="1871.6" cy="88.4" r="2.5" fill="#000"/>
<circle cx="1871.6" cy="95.5" r="2.5" fill="#000"/>
<circle cx="1871.6" cy="101" r="2.5" fill="#000"/>
<circle cx="1871.6" cy="110" r="2.5" fill="#000"/>
<circle cx="1871.6" cy="112" r="2.5" fill="#000"/>
<circle cx="1876.6" cy="110" r="2.5" fill="#000"/>
<circle cx="1871.6" cy="119" r="2.5" fill="#000"/>
<circle cx="1871.6" cy="124" r="2.5" fill="#000"/>
<circle cx="1871.6" cy="128" r="2.5" fill="#000"/>
<circle cx="1871.8" cy="133" r="2.5" fill="#000"/>
<circle cx="1867.6" cy="133" r="2.5" fill="#000"/>
<circle cx="1869.2" cy="136" r="2.5" fill="#000"/>
<circle cx="1869" cy="141" r="2.5" fill="#000"/>
<circle cx="1869.5" cy="143" r="2.5" fill="#000"/>
<circle cx="1871.1" cy="146" r="2.5" fill="#000"/>
<circle cx="1872.1" cy="148" r="2.5" fill="#000"/>
<circle cx="1868.2" cy="150" r="2.5" fill="#000"/>
<circle cx="1875.2" cy="152" r="2.5" fill="#000"/>
<circle cx="1874.3" cy="154" r="2.5" fill="#000"/>
<circle cx="1875.8" cy="156" r="2.5" fill="#000"/>
<circle cx="1867.4" cy="175" r="2.5" fill="#000"/>
<circle cx="1873.7" cy="176" r="2.5" fill="#000"/>
<circle cx="1874.4" cy="177" r="2.5" fill="#000"/>
<circle cx="1869.5" cy="178" r="2.5" fill="#000"/>
<circle cx="1869.9" cy="180" r="2.5" fill="#000"/>
<circle cx="1877.5" cy="182" r="2.5" fill="#000"/>
<circle cx="1873.5" cy="184" r="2.5" fill="#000"/>
<circle cx="1879.4" cy="185" r="2.5" fill="#000"/>
<circle cx="1871.4" cy="187" r="2.5" fill="#000"/>
<circle cx="1878.2" cy="189" r="2.5" fill="#000"/>
<circle cx="1879" cy="191" r="2.5" fill="#000"/>
<circle cx="1877.6" cy="193" r="2.5" fill="#000"/>
<circle cx="1879.8" cy="195" r="2.5" fill="#000"/>
<circle cx="1875.9" cy="197" r="2.5" fill="#000"/>
<circle cx="1870.6" cy="199" r="2.5" fill="#000"/>
<circle cx="1867.3" cy="201" r="2.5" fill="#000"/>
<circle cx="1878.7" cy="203" r="2.5" fill="#000"/>
<circle cx="1863.5" cy="205" r="2.5" fill="#000"/>
<circle cx="1869.4" cy="207" r="2.5" fill="#000"/>
<circle cx="1865.5" cy="209" r="2.5" fill="#000"/>
<circle cx="1873.7" cy="211" r="2.5" fill="#000"/>
<circle cx="1880.5" cy="213" r="2.5" fill="#000"/>
<circle cx="1867.6" cy="215" r="2.5" fill="#000"/>
<circle cx="1878.7" cy="217" r="2.5" fill="#000"/>
<circle cx="1878.6" cy="219" r="2.5" fill="#000"/>
<circle cx="1875.5" cy="221" r="2.5" fill="#000"/>
<circle cx="1865.5" cy="223" r="2.5" fill="#000"/>
<circle cx="1879.3" cy="225" r="2.5" fill="#000"/>
<circle cx="1870.8" cy="227" r="2.5" fill="#000"/>
<circle cx="1877.4" cy="229" r="2.5" fill="#000"/>
<circle cx="1870.6" cy="231" r="2.5" fill="#000"/>
<circle cx="1880.5" cy="233" r="2.5" fill="#000"/>
<circle cx="1876.5" cy="235" r="2.5" fill="#000"/>
<circle cx="1863.5" cy="237" r="2.5" fill="#000"/>
<circle cx="1863.8" cy="239" r="2.5" fill="#000"/>
<circle cx="1880.1" cy="241" r="2.5" fill="#000"/>
<circle cx="1868.3" cy="243" r="2.5" fill="#000"/>
<circle cx="1868.7" cy="245" r="2.5" fill="#000"/>
<circle cx="1860.4" cy="247" r="2.5" fill="#000"/>
<circle cx="1874.9" cy="249" r="2.5" fill="#000"/>
<circle cx="1879" cy="251" r="2.5" fill="#000"/>
<circle cx="1881.3" cy="253" r="2.5" fill="#000"/>
<circle cx="1864.2" cy="255" r="2.5" fill="#000"/>
<circle cx="1880.3" cy="257" r="2.5" fill="#000"/>
<circle cx="1863.7" cy="259" r="2.5" fill="#000"/>
<circle cx="1868.5" cy="261" r="2.5" fill="#000"/>
<circle cx="1868.8" cy="263" r="2.5" fill="#000"/>
<circle cx="1873.3" cy="265" r="2.5" fill="#000"/>
<circle cx="1871.9" cy="267" r="2.5" fill="#000"/>
<circle cx="1872.3" cy="269" r="2.5" fill="#000"/>
<circle cx="1872.1" cy="271" r="2.5" fill="#000"/>
<circle cx="1881.6" cy="273" r="2.5" fill="#000"/>
<circle cx="1865.8" cy="275" r="2.5" fill="#000"/>
<circle cx="1865" cy="277" r="2.5" fill="#000"/>
<circle cx="1878.7" cy="279" r="2.5" fill="#000"/>
<circle cx="1867.2" cy="281" r="2.5" fill="#000"/>
<line x1="1858.6" y1="296.2" x2="1884.6" y2="296.2" stroke="#000" stroke-width="5" stroke-linecap="round"/>
<circle cx="1916.7" cy="110" r="2.5" fill="#ec1c24"/>
<circle cx="1916.7" cy="123" r="2.5" fill="#ec1c24"/>
<circle cx="1916.7" cy="136" r="2.5" fill="#ec1c24"/>
<circle cx="1916.7" cy="147" r="2.5" fill="#ec1c24"/>
<circle cx="1916.7" cy="150.5" r="2.5" fill="#ec1c24"/>
<circle cx="1916.7" cy="184" r="2.5" fill="#ec1c24"/>
<circle cx="1916.7" cy="189" r="2.5" fill="#ec1c24"/>
<circle cx="1916.7" cy="194" r="2.5" fill="#ec1c24"/>
<circle cx="1916.7" cy="199" r="2.5" fill="#ec1c24"/>
<circle cx="1916.7" cy="204" r="2.5" fill="#ec1c24"/>
<circle cx="1916.7" cy="209" r="2.5" fill="#ec1c24"/>
<circle cx="1916.7" cy="214" r="2.5" fill="#ec1c24"/>
<circle cx="1916.7" cy="219" r="2.5" fill="#ec1c24"/>
<circle cx="1916.7" cy="224" r="2.5" fill="#ec1c24"/>
<circle cx="1916.7" cy="229" r="2.5" fill="#ec1c24"/>
<circle cx="1916.7" cy="234" r="2.5" fill="#ec1c24"/>
<circle cx="1916.7" cy="239" r="2.5" fill="#ec1c24"/>
<circle cx="1916.7" cy="243" r="2.5" fill="#ec1c24"/>
<circle cx="1916.7" cy="247" r="2.5" fill="#ec1c24"/>
<circle cx="1916.7" cy="251" r="2.5" fill="#ec1c24"/>
<circle cx="1916.7" cy="255" r="2.5" fill="#ec1c24"/>
<circle cx="1916.7" cy="259" r="2.5" fill="#ec1c24"/>
<circle cx="1916.7" cy="263" r="2.5" fill="#ec1c24"/>
<circle cx="1916.7" cy="267" r="2.5" fill="#ec1c24"/>
<circle cx="1916.7" cy="271" r="2.5" fill="#ec1c24"/>
<circle cx="1916.7" cy="275" r="2.5" fill="#ec1c24"/>
<circle cx="1916.7" cy="280" r="2.5" fill="#ec1c24"/>
<circle cx="1919" cy="285" r="2.5" fill="#ec1c24"/>
<circle cx="1924.6" cy="289" r="2.5" fill="#ec1c24"/>
<line x1="1903.7" y1="296.2" x2="1929.7" y2="296.2" stroke="#5a0a0a" stroke-width="5" stroke-linecap="round"/>
<circle cx="1961.6" cy="137.5" r="2.5" fill="#f07a28"/>
<circle cx="1961.6" cy="142" r="2.5" fill="#f07a28"/>
<circle cx="1961.6" cy="147.5" r="2.5" fill="#f07a28"/>
<circle cx="1961.6" cy="155" r="2.5" fill="#f07a28"/>
<circle cx="1961.6" cy="177" r="2.5" fill="#f07a28"/>
<circle cx="1961.6" cy="192" r="2.5" fill="#f07a28"/>
<circle cx="1961.6" cy="195" r="2.5" fill="#f07a28"/>
<circle cx="1961.6" cy="198" r="2.5" fill="#f07a28"/>
<circle cx="1961.6" cy="227" r="2.5" fill="#f07a28"/>
<circle cx="1961.6" cy="233" r="2.5" fill="#f07a28"/>
<circle cx="1961.6" cy="248" r="2.5" fill="#f07a28"/>
<circle cx="1961.6" cy="268" r="2.5" fill="#f07a28"/>
<circle cx="1961.6" cy="272" r="2.5" fill="#f07a28"/>
<circle cx="1961.6" cy="288" r="2.5" fill="#f07a28"/>
<line x1="1948.6" y1="296.2" x2="1974.6" y2="296.2" stroke="#000" stroke-width="5" stroke-linecap="round"/>
<circle cx="2006.5" cy="137.5" r="2.5" fill="#1a1aff"/>
<circle cx="2006.5" cy="149.5" r="2.5" fill="#1a1aff"/>
<circle cx="2006.5" cy="196.5" r="2.5" fill="#1a1aff"/>
<circle cx="2006.5" cy="208.5" r="2.5" fill="#1a1aff"/>
<circle cx="2006.5" cy="214" r="2.5" fill="#1a1aff"/>
<circle cx="2006.5" cy="216.5" r="2.5" fill="#1a1aff"/>
<circle cx="2006.5" cy="219" r="2.5" fill="#1a1aff"/>
<circle cx="2006.5" cy="242" r="2.5" fill="#1a1aff"/>
<circle cx="2006.5" cy="248" r="2.5" fill="#1a1aff"/>
<circle cx="2006.5" cy="256" r="2.5" fill="#1a1aff"/>
<circle cx="2006.5" cy="259" r="2.5" fill="#1a1aff"/>
<circle cx="2006.5" cy="262" r="2.5" fill="#1a1aff"/>
<circle cx="2006.5" cy="265" r="2.5" fill="#1a1aff"/>
<circle cx="2006.5" cy="276" r="2.5" fill="#1a1aff"/>
<circle cx="2006.5" cy="279" r="2.5" fill="#1a1aff"/>
<circle cx="2006.5" cy="292" r="2.5" fill="#1a1aff"/>
<line x1="1992.5" y1="296.2" x2="2020.5" y2="296.2" stroke="#0a0a8a" stroke-width="5" stroke-linecap="round"/>
<circle cx="2051.6" cy="138.5" r="2.5" fill="#9b6a2c"/>
<circle cx="2051.6" cy="141" r="2.5" fill="#9b6a2c"/>
<circle cx="2051.6" cy="145" r="2.5" fill="#9b6a2c"/>
<circle cx="2051.6" cy="152" r="2.5" fill="#9b6a2c"/>
<circle cx="2051.6" cy="154" r="2.5" fill="#9b6a2c"/>
<circle cx="2051.6" cy="199" r="2.5" fill="#9b6a2c"/>
<circle cx="2051.6" cy="212.5" r="2.5" fill="#9b6a2c"/>
<circle cx="2051.6" cy="222.5" r="2.5" fill="#9b6a2c"/>
<circle cx="2051.6" cy="228" r="2.5" fill="#9b6a2c"/>
<circle cx="2051.6" cy="232" r="2.5" fill="#9b6a2c"/>
<circle cx="2051.6" cy="236" r="2.5" fill="#9b6a2c"/>
<circle cx="2051.6" cy="240" r="2.5" fill="#9b6a2c"/>
<circle cx="2051.6" cy="244" r="2.5" fill="#9b6a2c"/>
<circle cx="2051.6" cy="248" r="2.5" fill="#9b6a2c"/>
<circle cx="2051.6" cy="252" r="2.5" fill="#9b6a2c"/>
<circle cx="2051.6" cy="256" r="2.5" fill="#9b6a2c"/>
<circle cx="2051.6" cy="260" r="2.5" fill="#9b6a2c"/>
<circle cx="2051.6" cy="264" r="2.5" fill="#9b6a2c"/>
<circle cx="2051.6" cy="268" r="2.5" fill="#9b6a2c"/>
<circle cx="2051.6" cy="272" r="2.5" fill="#9b6a2c"/>
<circle cx="2051.6" cy="276" r="2.5" fill="#9b6a2c"/>
<circle cx="2051.6" cy="280" r="2.5" fill="#9b6a2c"/>
<line x1="2037.6" y1="296.2" x2="2065.6" y2="296.2" stroke="#000" stroke-width="5" stroke-linecap="round"/>
<circle cx="2096.7" cy="54.3" r="2.5" fill="#8c8c8c"/>
<circle cx="2096.7" cy="138.5" r="2.5" fill="#8c8c8c"/>
<circle cx="2096.7" cy="141" r="2.5" fill="#8c8c8c"/>
<circle cx="2096.7" cy="144" r="2.5" fill="#8c8c8c"/>
<circle cx="2096.7" cy="147" r="2.5" fill="#8c8c8c"/>
<circle cx="2096.7" cy="150" r="2.5" fill="#8c8c8c"/>
<circle cx="2096.7" cy="152.5" r="2.5" fill="#8c8c8c"/>
<circle cx="2096.7" cy="195.5" r="2.5" fill="#8c8c8c"/>
<circle cx="2096.7" cy="199.5" r="2.5" fill="#8c8c8c"/>
<circle cx="2096.7" cy="203" r="2.5" fill="#8c8c8c"/>
<circle cx="2096.7" cy="211" r="2.5" fill="#8c8c8c"/>
<circle cx="2096.7" cy="227" r="2.5" fill="#8c8c8c"/>
<circle cx="2096.7" cy="230" r="2.5" fill="#8c8c8c"/>
<circle cx="2096.7" cy="233" r="2.5" fill="#8c8c8c"/>
<circle cx="2096.7" cy="235.5" r="2.5" fill="#8c8c8c"/>
<circle cx="2096.7" cy="239" r="2.5" fill="#8c8c8c"/>
<circle cx="2096.7" cy="242" r="2.5" fill="#8c8c8c"/>
<circle cx="2096.7" cy="245.5" r="2.5" fill="#8c8c8c"/>
<circle cx="2096.7" cy="250" r="2.5" fill="#8c8c8c"/>
<circle cx="2096.7" cy="253" r="2.5" fill="#8c8c8c"/>
<circle cx="2096.7" cy="256" r="2.5" fill="#8c8c8c"/>
<circle cx="2096.7" cy="262" r="2.5" fill="#8c8c8c"/>
<circle cx="2096.7" cy="266" r="2.5" fill="#8c8c8c"/>
<circle cx="2096.7" cy="270" r="2.5" fill="#8c8c8c"/>
<circle cx="2096.7" cy="274" r="2.5" fill="#8c8c8c"/>
<line x1="2082.7" y1="296.2" x2="2110.7" y2="296.2" stroke="#000" stroke-width="5" stroke-linecap="round"/>
<line x1="1569.2" y1="218" x2="1585.2" y2="218" stroke="#000" stroke-width="4.4" stroke-linecap="round"/>
<line x1="1561.7" y1="270.7" x2="1592.7" y2="270.7" stroke="#000" stroke-width="4.4" stroke-linecap="round"/>
<line x1="1618.2" y1="272.5" x2="1626.2" y2="272.5" stroke="#000" stroke-width="4.4" stroke-linecap="round"/>
<line x1="1663.2" y1="270" x2="1671.2" y2="270" stroke="#000" stroke-width="4.4" stroke-linecap="round"/>
<line x1="1752.3" y1="244.6" x2="1762.3" y2="244.6" stroke="#000" stroke-width="4.4" stroke-linecap="round"/>
<line x1="1798.9" y1="261" x2="1805.9" y2="261" stroke="#000" stroke-width="4.4" stroke-linecap="round"/>
<line x1="1854.6" y1="221.4" x2="1888.6" y2="221.4" stroke="#000" stroke-width="4.4" stroke-linecap="round"/>
<line x1="1854.6" y1="273" x2="1888.6" y2="273" stroke="#000" stroke-width="4.4" stroke-linecap="round"/>
<line x1="1912.7" y1="270.2" x2="1920.7" y2="270.2" stroke="#000" stroke-width="4.4" stroke-linecap="round"/>
<line x1="1958.1" y1="270.7" x2="1965.1" y2="270.7" stroke="#000" stroke-width="4.4" stroke-linecap="round"/>
<line x1="2046.6" y1="267.4" x2="2056.6" y2="267.4" stroke="#000" stroke-width="4.4" stroke-linecap="round"/>
<line x1="2093.2" y1="271.6" x2="2100.2" y2="271.6" stroke="#000" stroke-width="4.4" stroke-linecap="round"/>
<line x1="1520" y1="296.7" x2="2130.6" y2="296.7" stroke="#000" stroke-width="3.6"/>
<text x="1591.6" y="119.8" font-size="34" letter-spacing="2.2" style="stroke-width:0.6px">****</text>
<text x="1652.1" y="94.8" font-size="34" letter-spacing="2.2" style="stroke-width:0.6px">**</text>
<text x="1683.2" y="151.8" font-size="34" letter-spacing="2.2" style="stroke-width:0.6px">****</text>
<text x="1743.6" y="121.8" font-size="34" letter-spacing="2.2" style="stroke-width:0.6px">**</text>
<text x="1779.6" y="128.8" font-size="34" letter-spacing="2.2" style="stroke-width:0.6px">***</text>
<text x="1854.5" y="55" style="stroke-width:0.6px">###</text>
<text x="1886.1" y="98.8" font-size="34" letter-spacing="2.2" style="stroke-width:0.6px">****</text>
<text x="1932.3" y="113.8" font-size="34" letter-spacing="2.2" style="stroke-width:0.6px">****</text>
<text x="1978.1" y="126.8" font-size="34" letter-spacing="2.2" style="stroke-width:0.6px">****</text>
<text x="2022.6" y="140.2" font-size="34" letter-spacing="2.2" style="stroke-width:0.6px">****</text>
<text x="2066.4" y="57.8" font-size="34" letter-spacing="2.2" style="stroke-width:0.6px">****</text>
<text x="1544.8" y="331.6" text-anchor="end">Glucagon (μM)</text>
<text x="1577.2" y="331.6" text-anchor="middle">0</text>
<text x="1622.2" y="331.6" text-anchor="middle">0</text>
<text x="1667.2" y="331.6" text-anchor="middle">0</text>
<text x="1712.3" y="331.6" text-anchor="middle">0</text>
<text x="1757.3" y="331.6" text-anchor="middle">0</text>
<text x="1802.4" y="331.6" text-anchor="middle">0</text>
<text x="1871.6" y="331.6" text-anchor="middle">1</text>
<text x="1916.7" y="331.6" text-anchor="middle">1</text>
<text x="1961.6" y="331.6" text-anchor="middle">1</text>
<text x="2006.5" y="331.6" text-anchor="middle">1</text>
<text x="2051.6" y="331.6" text-anchor="middle">1</text>
<text x="2096.7" y="331.6" text-anchor="middle">1</text>
<text x="1544.8" y="360.4" text-anchor="end">ESI-05 (μM)</text>
<text x="1577.2" y="360.4" text-anchor="middle">0</text>
<text x="1622.2" y="360.4" text-anchor="middle">25</text>
<text x="1667.2" y="360.4" text-anchor="middle">0</text>
<text x="1712.3" y="360.4" text-anchor="middle">0</text>
<text x="1757.3" y="360.4" text-anchor="middle">0</text>
<text x="1802.4" y="360.4" text-anchor="middle">0</text>
<text x="1871.6" y="360.4" text-anchor="middle">0</text>
<text x="1916.7" y="360.4" text-anchor="middle">25</text>
<text x="1961.6" y="360.4" text-anchor="middle">0</text>
<text x="2006.5" y="360.4" text-anchor="middle">0</text>
<text x="2051.6" y="360.4" text-anchor="middle">0</text>
<text x="2096.7" y="360.4" text-anchor="middle">0</text>
<text x="1544.8" y="389.3" text-anchor="end">PKI (μM)</text>
<text x="1577.2" y="389.3" text-anchor="middle">0</text>
<text x="1622.2" y="389.3" text-anchor="middle">0</text>
<text x="1667.2" y="389.3" text-anchor="middle">1</text>
<text x="1712.3" y="389.3" text-anchor="middle">0</text>
<text x="1757.3" y="389.3" text-anchor="middle">0</text>
<text x="1802.4" y="389.3" text-anchor="middle">0</text>
<text x="1871.6" y="389.3" text-anchor="middle">0</text>
<text x="1916.7" y="389.3" text-anchor="middle">0</text>
<text x="1961.6" y="389.3" text-anchor="middle">1</text>
<text x="2006.5" y="389.3" text-anchor="middle">0</text>
<text x="2051.6" y="389.3" text-anchor="middle">0</text>
<text x="2096.7" y="389.3" text-anchor="middle">0</text>
<text x="1544.8" y="418.2" text-anchor="end">Ryanodine (μM)</text>
<text x="1577.2" y="418.2" text-anchor="middle">0</text>
<text x="1622.2" y="418.2" text-anchor="middle">0</text>
<text x="1667.2" y="418.2" text-anchor="middle">0</text>
<text x="1712.3" y="418.2" text-anchor="middle">50</text>
<text x="1757.3" y="418.2" text-anchor="middle">0</text>
<text x="1802.4" y="418.2" text-anchor="middle">0</text>
<text x="1871.6" y="418.2" text-anchor="middle">0</text>
<text x="1916.7" y="418.2" text-anchor="middle">0</text>
<text x="1961.6" y="418.2" text-anchor="middle">0</text>
<text x="2006.5" y="418.2" text-anchor="middle">50</text>
<text x="2051.6" y="418.2" text-anchor="middle">0</text>
<text x="2096.7" y="418.2" text-anchor="middle">0</text>
<text x="1544.8" y="447" text-anchor="end">YM-254890 (μM)</text>
<text x="1577.2" y="447" text-anchor="middle">0</text>
<text x="1622.2" y="447" text-anchor="middle">0</text>
<text x="1667.2" y="447" text-anchor="middle">0</text>
<text x="1712.3" y="447" text-anchor="middle">0</text>
<text x="1757.3" y="447" text-anchor="middle">1</text>
<text x="1802.4" y="447" text-anchor="middle">0</text>
<text x="1871.6" y="447" text-anchor="middle">0</text>
<text x="1916.7" y="447" text-anchor="middle">0</text>
<text x="1961.6" y="447" text-anchor="middle">0</text>
<text x="2006.5" y="447" text-anchor="middle">0</text>
<text x="2051.6" y="447" text-anchor="middle">1</text>
<text x="2096.7" y="447" text-anchor="middle">0</text>
<text x="1544.8" y="476.2" text-anchor="end">Xestospongin C (μM)</text>
<text x="1577.2" y="476.2" text-anchor="middle">0</text>
<text x="1622.2" y="476.2" text-anchor="middle">0</text>
<text x="1667.2" y="476.2" text-anchor="middle">0</text>
<text x="1712.3" y="476.2" text-anchor="middle">0</text>
<text x="1757.3" y="476.2" text-anchor="middle">0</text>
<text x="1802.4" y="476.2" text-anchor="middle">10</text>
<text x="1871.6" y="476.2" text-anchor="middle">0</text>
<text x="1916.7" y="476.2" text-anchor="middle">0</text>
<text x="1961.6" y="476.2" text-anchor="middle">0</text>
<text x="2006.5" y="476.2" text-anchor="middle">0</text>
<text x="2051.6" y="476.2" text-anchor="middle">0</text>
<text x="2096.7" y="476.2" text-anchor="middle">10</text>
<text x="1178.5" y="527.5" font-size="32" font-weight="bold">e</text>
<text x="1216.5" y="524" font-weight="bold">Mouse islets</text>
<line x1="1341.8" y1="544.5" x2="1341.8" y2="808" stroke="#000" stroke-width="4.1"/>
<line x1="1318.2" y1="806.5" x2="1341.8" y2="806.5" stroke="#000" stroke-width="3.2" stroke-linecap="round"/>
<text x="1315.5" y="814" text-anchor="end" letter-spacing="1.2">0.00</text>
<line x1="1318.2" y1="741.5" x2="1341.8" y2="741.5" stroke="#000" stroke-width="3.2" stroke-linecap="round"/>
<text x="1315.5" y="749" text-anchor="end" letter-spacing="1.2">0.05</text>
<line x1="1318.2" y1="676.5" x2="1341.8" y2="676.5" stroke="#000" stroke-width="3.2" stroke-linecap="round"/>
<text x="1315.5" y="684" text-anchor="end" letter-spacing="1.2">0.10</text>
<line x1="1318.2" y1="611.5" x2="1341.8" y2="611.5" stroke="#000" stroke-width="3.2" stroke-linecap="round"/>
<text x="1315.5" y="619" text-anchor="end" letter-spacing="1.2">0.15</text>
<line x1="1318.2" y1="546.5" x2="1341.8" y2="546.5" stroke="#000" stroke-width="3.2" stroke-linecap="round"/>
<text x="1315.5" y="554" text-anchor="end" letter-spacing="1.2">0.20</text>
<text transform="translate(1232.8,676) rotate(-90)" text-anchor="middle">Somatostatin secretion</text>
<text transform="translate(1256,676) rotate(-90)" text-anchor="middle">(% of content/h)</text>
<rect x="1362.7" y="730.7" width="40.2" height="75.8" fill="#fff" stroke="#000" stroke-width="3.5"/>
<line x1="1382.8" y1="730.7" x2="1382.8" y2="725.6" stroke="#000" stroke-width="3.5"/>
<line x1="1370.8" y1="725.6" x2="1394.8" y2="725.6" stroke="#000" stroke-width="3.4"/>
<circle cx="1383" cy="718" r="3.6" fill="#000"/>
<circle cx="1379" cy="730.5" r="3.6" fill="#000"/>
<circle cx="1387" cy="732" r="3.6" fill="#000"/>
<circle cx="1383" cy="742.8" r="3.6" fill="#000"/>
<rect x="1423.4" y="763" width="40.2" height="43.5" fill="#fff" stroke="#000" stroke-width="3.5"/>
<line x1="1443.5" y1="763" x2="1443.5" y2="753.9" stroke="#000" stroke-width="3.5"/>
<line x1="1431.5" y1="753.9" x2="1455.5" y2="753.9" stroke="#000" stroke-width="3.4"/>
<circle cx="1439.5" cy="751.6" r="3.6" fill="#000"/>
<circle cx="1447" cy="757" r="3.6" fill="#000"/>
<circle cx="1443.2" cy="777.3" r="3.6" fill="#000"/>
<rect x="1483.9" y="734.6" width="40.2" height="71.9" fill="#fff" stroke="#000" stroke-width="3.5"/>
<line x1="1504" y1="734.6" x2="1504" y2="725" stroke="#000" stroke-width="3.5"/>
<line x1="1492" y1="725" x2="1516" y2="725" stroke="#000" stroke-width="3.4"/>
<circle cx="1500" cy="722.4" r="3.6" fill="#000"/>
<circle cx="1507.3" cy="727.7" r="3.6" fill="#000"/>
<circle cx="1503.8" cy="749.8" r="3.6" fill="#000"/>
<rect x="1544" y="768.3" width="40.2" height="38.2" fill="#fff" stroke="#000" stroke-width="3.5"/>
<line x1="1564.1" y1="768.3" x2="1564.1" y2="761" stroke="#000" stroke-width="3.5"/>
<line x1="1552.1" y1="761" x2="1576.1" y2="761" stroke="#000" stroke-width="3.4"/>
<circle cx="1564" cy="756" r="3.6" fill="#000"/>
<circle cx="1564" cy="768.4" r="3.6" fill="#000"/>
<circle cx="1564" cy="776.4" r="3.6" fill="#000"/>
<rect x="1604.4" y="752.3" width="40.2" height="54.2" fill="#fff" stroke="#000" stroke-width="3.5"/>
<line x1="1624.5" y1="752.3" x2="1624.5" y2="746.8" stroke="#000" stroke-width="3.5"/>
<line x1="1612.5" y1="746.8" x2="1636.5" y2="746.8" stroke="#000" stroke-width="3.4"/>
<circle cx="1620.7" cy="744.5" r="3.6" fill="#000"/>
<circle cx="1627" cy="747" r="3.6" fill="#000"/>
<circle cx="1624.2" cy="758.7" r="3.6" fill="#000"/>
<rect x="1664.6" y="754.1" width="40.2" height="52.4" fill="#fff" stroke="#000" stroke-width="3.5"/>
<line x1="1684.7" y1="754.1" x2="1684.7" y2="747.2" stroke="#000" stroke-width="3.5"/>
<line x1="1672.7" y1="747.2" x2="1696.7" y2="747.2" stroke="#000" stroke-width="3.4"/>
<circle cx="1684.4" cy="741.9" r="3.6" fill="#000"/>
<circle cx="1688" cy="755.2" r="3.6" fill="#000"/>
<circle cx="1681" cy="762.2" r="3.6" fill="#000"/>
<rect x="1749.7" y="636.1" width="40.2" height="170.4" fill="#fff" stroke="#000" stroke-width="3.5"/>
<line x1="1769.8" y1="636.1" x2="1769.8" y2="610.9" stroke="#000" stroke-width="3.5"/>
<line x1="1757.8" y1="610.9" x2="1781.8" y2="610.9" stroke="#000" stroke-width="3.4"/>
<circle cx="1769.6" cy="586.9" r="3.6" fill="#000"/>
<circle cx="1769.6" cy="653" r="3.6" fill="#000"/>
<circle cx="1769.6" cy="667.6" r="3.6" fill="#000"/>
<rect x="1809.9" y="701.5" width="40.2" height="105" fill="#fff" stroke="#000" stroke-width="3.5"/>
<line x1="1830" y1="701.5" x2="1830" y2="689.9" stroke="#000" stroke-width="3.5"/>
<line x1="1818" y1="689.9" x2="1842" y2="689.9" stroke="#000" stroke-width="3.4"/>
<circle cx="1830" cy="679.6" r="3.6" fill="#000"/>
<circle cx="1830" cy="706.3" r="3.6" fill="#000"/>
<circle cx="1830" cy="716.6" r="3.6" fill="#000"/>
<rect x="1870.3" y="706.6" width="40.2" height="99.9" fill="#fff" stroke="#000" stroke-width="3.5"/>
<line x1="1890.4" y1="706.6" x2="1890.4" y2="690.8" stroke="#000" stroke-width="3.5"/>
<line x1="1878.4" y1="690.8" x2="1902.4" y2="690.8" stroke="#000" stroke-width="3.4"/>
<circle cx="1890.3" cy="686.8" r="3.6" fill="#000"/>
<circle cx="1890.3" cy="694.5" r="3.6" fill="#000"/>
<circle cx="1890.3" cy="734" r="3.6" fill="#000"/>
<rect x="1930.8" y="721.5" width="40.2" height="85" fill="#fff" stroke="#000" stroke-width="3.5"/>
<line x1="1950.9" y1="721.5" x2="1950.9" y2="710.8" stroke="#000" stroke-width="3.5"/>
<line x1="1938.9" y1="710.8" x2="1962.9" y2="710.8" stroke="#000" stroke-width="3.4"/>
<circle cx="1946.8" cy="709.4" r="3.6" fill="#000"/>
<circle cx="1953.5" cy="711.7" r="3.6" fill="#000"/>
<circle cx="1950.8" cy="739" r="3.6" fill="#000"/>
<rect x="1990.9" y="678.3" width="40.2" height="128.2" fill="#fff" stroke="#000" stroke-width="3.5"/>
<line x1="2011" y1="678.3" x2="2011" y2="665.7" stroke="#000" stroke-width="3.5"/>
<line x1="1999" y1="665.7" x2="2023" y2="665.7" stroke="#000" stroke-width="3.4"/>
<circle cx="2007" cy="662" r="3.6" fill="#000"/>
<circle cx="2016.2" cy="669.4" r="3.6" fill="#000"/>
<circle cx="2010.8" cy="699" r="3.6" fill="#000"/>
<rect x="2051.3" y="699.3" width="40.2" height="107.2" fill="#fff" stroke="#000" stroke-width="3.5"/>
<line x1="2071.4" y1="699.3" x2="2071.4" y2="678.5" stroke="#000" stroke-width="3.5"/>
<line x1="2059.4" y1="678.5" x2="2083.4" y2="678.5" stroke="#000" stroke-width="3.4"/>
<circle cx="2071.6" cy="660.3" r="3.6" fill="#000"/>
<circle cx="2071.6" cy="707.5" r="3.6" fill="#000"/>
<circle cx="2071.6" cy="728" r="3.6" fill="#000"/>
<line x1="1318.2" y1="806.5" x2="2112.5" y2="806.5" stroke="#000" stroke-width="3.8" stroke-linecap="round"/>
<text x="1436.6" y="750.6" font-size="34" letter-spacing="2.2" style="stroke-width:0.6px">*</text>
<text x="1550.3" y="757.8" font-size="34" letter-spacing="2.2" style="stroke-width:0.6px">**</text>
<text x="1618" y="742.7" font-size="34" letter-spacing="2.2" style="stroke-width:0.6px">*</text>
<text x="1678.6" y="740" font-size="34" letter-spacing="2.2" style="stroke-width:0.6px">*</text>
<text x="1944.6" y="706.4" font-size="34" letter-spacing="2.2" style="stroke-width:0.6px">*</text>
<text x="1758.2" y="575.4" style="stroke-width:0.6px">##</text>
<text x="1824.1" y="668.5" style="stroke-width:0.6px">#</text>
<text x="1945" y="673.9" style="stroke-width:0.6px">#</text>
<text x="1999.9" y="649" style="stroke-width:0.6px">##</text>
<text x="1341.8" y="840.5" text-anchor="end">Glucagon (μM)</text>
<text x="1382.8" y="840.5" text-anchor="middle">0</text>
<text x="1443.5" y="840.5" text-anchor="middle">0</text>
<text x="1504" y="840.5" text-anchor="middle">0</text>
<text x="1564.1" y="840.5" text-anchor="middle">0</text>
<text x="1624.5" y="840.5" text-anchor="middle">0</text>
<text x="1684.7" y="840.5" text-anchor="middle">0</text>
<text x="1769.8" y="840.5" text-anchor="middle">1</text>
<text x="1830" y="840.5" text-anchor="middle">1</text>
<text x="1890.4" y="840.5" text-anchor="middle">1</text>
<text x="1950.9" y="840.5" text-anchor="middle">1</text>
<text x="2011" y="840.5" text-anchor="middle">1</text>
<text x="2071.4" y="840.5" text-anchor="middle">1</text>
<text x="1341.8" y="869.4" text-anchor="end">ESI-05 (μM)</text>
<text x="1382.8" y="869.4" text-anchor="middle">0</text>
<text x="1443.5" y="869.4" text-anchor="middle">25</text>
<text x="1504" y="869.4" text-anchor="middle">0</text>
<text x="1564.1" y="869.4" text-anchor="middle">0</text>
<text x="1624.5" y="869.4" text-anchor="middle">0</text>
<text x="1684.7" y="869.4" text-anchor="middle">0</text>
<text x="1769.8" y="869.4" text-anchor="middle">0</text>
<text x="1830" y="869.4" text-anchor="middle">25</text>
<text x="1890.4" y="869.4" text-anchor="middle">0</text>
<text x="1950.9" y="869.4" text-anchor="middle">0</text>
<text x="2011" y="869.4" text-anchor="middle">0</text>
<text x="2071.4" y="869.4" text-anchor="middle">0</text>
<text x="1341.8" y="898.2" text-anchor="end">PKI (μM)</text>
<text x="1382.8" y="898.2" text-anchor="middle">0</text>
<text x="1443.5" y="898.2" text-anchor="middle">0</text>
<text x="1504" y="898.2" text-anchor="middle">1</text>
<text x="1564.1" y="898.2" text-anchor="middle">0</text>
<text x="1624.5" y="898.2" text-anchor="middle">0</text>
<text x="1684.7" y="898.2" text-anchor="middle">0</text>
<text x="1769.8" y="898.2" text-anchor="middle">0</text>
<text x="1830" y="898.2" text-anchor="middle">0</text>
<text x="1890.4" y="898.2" text-anchor="middle">1</text>
<text x="1950.9" y="898.2" text-anchor="middle">0</text>
<text x="2011" y="898.2" text-anchor="middle">0</text>
<text x="2071.4" y="898.2" text-anchor="middle">0</text>
<text x="1341.8" y="927.1" text-anchor="end">Ryanodine (μM)</text>
<text x="1382.8" y="927.1" text-anchor="middle">0</text>
<text x="1443.5" y="927.1" text-anchor="middle">0</text>
<text x="1504" y="927.1" text-anchor="middle">0</text>
<text x="1564.1" y="927.1" text-anchor="middle">50</text>
<text x="1624.5" y="927.1" text-anchor="middle">0</text>
<text x="1684.7" y="927.1" text-anchor="middle">0</text>
<text x="1769.8" y="927.1" text-anchor="middle">0</text>
<text x="1830" y="927.1" text-anchor="middle">0</text>
<text x="1890.4" y="927.1" text-anchor="middle">0</text>
<text x="1950.9" y="927.1" text-anchor="middle">50</text>
<text x="2011" y="927.1" text-anchor="middle">0</text>
<text x="2071.4" y="927.1" text-anchor="middle">0</text>
<text x="1341.8" y="956" text-anchor="end">YM-254890 (μM)</text>
<text x="1382.8" y="956" text-anchor="middle">0</text>
<text x="1443.5" y="956" text-anchor="middle">0</text>
<text x="1504" y="956" text-anchor="middle">0</text>
<text x="1564.1" y="956" text-anchor="middle">0</text>
<text x="1624.5" y="956" text-anchor="middle">1</text>
<text x="1684.7" y="956" text-anchor="middle">0</text>
<text x="1769.8" y="956" text-anchor="middle">0</text>
<text x="1830" y="956" text-anchor="middle">0</text>
<text x="1890.4" y="956" text-anchor="middle">0</text>
<text x="1950.9" y="956" text-anchor="middle">0</text>
<text x="2011" y="956" text-anchor="middle">1</text>
<text x="2071.4" y="956" text-anchor="middle">0</text>
<text x="1341.8" y="984.9" text-anchor="end">Xestospongin C (μM)</text>
<text x="1382.8" y="984.9" text-anchor="middle">0</text>
<text x="1443.5" y="984.9" text-anchor="middle">0</text>
<text x="1504" y="984.9" text-anchor="middle">0</text>
<text x="1564.1" y="984.9" text-anchor="middle">0</text>
<text x="1624.5" y="984.9" text-anchor="middle">0</text>
<text x="1684.7" y="984.9" text-anchor="middle">10</text>
<text x="1769.8" y="984.9" text-anchor="middle">0</text>
<text x="1830" y="984.9" text-anchor="middle">0</text>
<text x="1890.4" y="984.9" text-anchor="middle">0</text>
<text x="1950.9" y="984.9" text-anchor="middle">0</text>
<text x="2011" y="984.9" text-anchor="middle">0</text>
<text x="2071.4" y="984.9" text-anchor="middle">10</text>
<text x="1179" y="1042.5" font-size="32" font-weight="bold">f</text>
<text x="1216.5" y="1040" font-weight="bold">Human islets</text>
<line x1="1341.8" y1="1059.5" x2="1341.8" y2="1323" stroke="#000" stroke-width="4.1"/>
<line x1="1318.2" y1="1321.5" x2="1341.8" y2="1321.5" stroke="#000" stroke-width="3.2" stroke-linecap="round"/>
<text x="1315.5" y="1329" text-anchor="end" letter-spacing="1.2">0</text>
<line x1="1318.2" y1="1256.4" x2="1341.8" y2="1256.4" stroke="#000" stroke-width="3.2" stroke-linecap="round"/>
<text x="1315.5" y="1263.9" text-anchor="end" letter-spacing="1.2">0.2</text>
<line x1="1318.2" y1="1191.3" x2="1341.8" y2="1191.3" stroke="#000" stroke-width="3.2" stroke-linecap="round"/>
<text x="1315.5" y="1198.8" text-anchor="end" letter-spacing="1.2">0.4</text>
<line x1="1318.2" y1="1126.1" x2="1341.8" y2="1126.1" stroke="#000" stroke-width="3.2" stroke-linecap="round"/>
<text x="1315.5" y="1133.6" text-anchor="end" letter-spacing="1.2">0.6</text>
<line x1="1318.2" y1="1061" x2="1341.8" y2="1061" stroke="#000" stroke-width="3.2" stroke-linecap="round"/>
<text x="1315.5" y="1068.5" text-anchor="end" letter-spacing="1.2">0.8</text>
<text transform="translate(1247.3,1191) rotate(-90)" text-anchor="middle">Somatostatin secretion</text>
<text transform="translate(1270.5,1191) rotate(-90)" text-anchor="middle">(% of content/h)</text>
<rect x="1362.9" y="1222.4" width="40.2" height="99.1" fill="#fff" stroke="#000" stroke-width="3.5"/>
<line x1="1383" y1="1222.4" x2="1383" y2="1212.9" stroke="#000" stroke-width="3.5"/>
<line x1="1371" y1="1212.9" x2="1395" y2="1212.9" stroke="#000" stroke-width="3.4"/>
<circle cx="1372.8" cy="1180.5" r="3.5" fill="#1c1cf0"/>
<circle cx="1383" cy="1185.4" r="3.5" fill="#1c1cf0"/>
<circle cx="1383" cy="1197" r="3.5" fill="#e8251e"/>
<circle cx="1377.7" cy="1212.9" r="3.5" fill="#1c1cf0"/>
<circle cx="1389.6" cy="1212.3" r="3.5" fill="#000"/>
<circle cx="1383" cy="1223.5" r="3.5" fill="#1c1cf0"/>
<circle cx="1383" cy="1236.4" r="3.5" fill="#000"/>
<circle cx="1372.4" cy="1241.2" r="3.5" fill="#e8251e"/>
<circle cx="1383" cy="1242.4" r="3.5" fill="#e8251e"/>
<circle cx="1393.7" cy="1241.2" r="3.5" fill="#000"/>
<circle cx="1383" cy="1253.6" r="3.5" fill="#000"/>
<rect x="1423.5" y="1251.6" width="40.2" height="69.9" fill="#fff" stroke="#000" stroke-width="3.5"/>
<line x1="1443.6" y1="1251.6" x2="1443.6" y2="1243.9" stroke="#000" stroke-width="3.5"/>
<line x1="1431.6" y1="1243.9" x2="1455.6" y2="1243.9" stroke="#000" stroke-width="3.4"/>
<circle cx="1443.6" cy="1227.6" r="3.5" fill="#e8251e"/>
<circle cx="1443.6" cy="1233.6" r="3.5" fill="#000"/>
<circle cx="1443.6" cy="1240.3" r="3.5" fill="#1c1cf0"/>
<circle cx="1433" cy="1246.5" r="3.5" fill="#e8251e"/>
<circle cx="1453.9" cy="1247" r="3.5" fill="#1c1cf0"/>
<circle cx="1443.6" cy="1251" r="3.5" fill="#e8251e"/>
<circle cx="1433" cy="1253.6" r="3.5" fill="#1c1cf0"/>
<circle cx="1453.9" cy="1253.6" r="3.5" fill="#000"/>
<circle cx="1443.6" cy="1260.7" r="3.5" fill="#000"/>
<circle cx="1443.6" cy="1276" r="3.5" fill="#000"/>
<rect x="1483.9" y="1244" width="40.2" height="77.5" fill="#fff" stroke="#000" stroke-width="3.5"/>
<line x1="1504" y1="1244" x2="1504" y2="1235.9" stroke="#000" stroke-width="3.5"/>
<line x1="1492" y1="1235.9" x2="1516" y2="1235.9" stroke="#000" stroke-width="3.4"/>
<circle cx="1503.8" cy="1212" r="3.5" fill="#1c1cf0"/>
<circle cx="1503.8" cy="1221.2" r="3.5" fill="#000"/>
<circle cx="1493.2" cy="1232.3" r="3.5" fill="#1c1cf0"/>
<circle cx="1514.4" cy="1230.6" r="3.5" fill="#1c1cf0"/>
<circle cx="1503.8" cy="1234.1" r="3.5" fill="#e8251e"/>
<circle cx="1503.8" cy="1244.7" r="3.5" fill="#e8251e"/>
<circle cx="1514.4" cy="1252.7" r="3.5" fill="#000"/>
<circle cx="1503.8" cy="1255.9" r="3.5" fill="#e8251e"/>
<circle cx="1503.8" cy="1265.1" r="3.5" fill="#000"/>
<circle cx="1503.8" cy="1271.3" r="3.5" fill="#000"/>
<rect x="1543.9" y="1262.8" width="40.2" height="58.7" fill="#fff" stroke="#000" stroke-width="3.5"/>
<line x1="1564" y1="1262.8" x2="1564" y2="1255.9" stroke="#000" stroke-width="3.5"/>
<line x1="1552" y1="1255.9" x2="1576" y2="1255.9" stroke="#000" stroke-width="3.4"/>
<circle cx="1564" cy="1237.7" r="3.5" fill="#1c1cf0"/>
<circle cx="1553.4" cy="1247.4" r="3.5" fill="#e8251e"/>
<circle cx="1564" cy="1248.3" r="3.5" fill="#e8251e"/>
<circle cx="1574.6" cy="1247.4" r="3.5" fill="#1c1cf0"/>
<circle cx="1564" cy="1260.7" r="3.5" fill="#000"/>
<circle cx="1553.4" cy="1266" r="3.5" fill="#1c1cf0"/>
<circle cx="1574.6" cy="1266" r="3.5" fill="#000"/>
<circle cx="1564" cy="1271.3" r="3.5" fill="#e8251e"/>
<circle cx="1574.6" cy="1271.3" r="3.5" fill="#000"/>
<circle cx="1564" cy="1289" r="3.5" fill="#000"/>
<rect x="1603.9" y="1269.4" width="40.2" height="52.1" fill="#fff" stroke="#000" stroke-width="3.5"/>
<line x1="1624" y1="1269.4" x2="1624" y2="1262.4" stroke="#000" stroke-width="3.5"/>
<line x1="1612" y1="1262.4" x2="1636" y2="1262.4" stroke="#000" stroke-width="3.4"/>
<circle cx="1624.2" cy="1246" r="3.5" fill="#1c1cf0"/>
<circle cx="1624.2" cy="1251.8" r="3.5" fill="#000"/>
<circle cx="1614.1" cy="1258.9" r="3.5" fill="#e8251e"/>
<circle cx="1624.2" cy="1258.9" r="3.5" fill="#1c1cf0"/>
<circle cx="1634.8" cy="1257.1" r="3.5" fill="#1c1cf0"/>
<circle cx="1619.4" cy="1266.9" r="3.5" fill="#e8251e"/>
<circle cx="1629.5" cy="1266.9" r="3.5" fill="#e8251e"/>
<circle cx="1624.2" cy="1284.6" r="3.5" fill="#000"/>
<circle cx="1614.1" cy="1290.8" r="3.5" fill="#000"/>
<circle cx="1634.8" cy="1287.8" r="3.5" fill="#000"/>
<rect x="1664.5" y="1244.6" width="40.2" height="76.9" fill="#fff" stroke="#000" stroke-width="3.5"/>
<line x1="1684.6" y1="1244.6" x2="1684.6" y2="1236.8" stroke="#000" stroke-width="3.5"/>
<line x1="1672.6" y1="1236.8" x2="1696.6" y2="1236.8" stroke="#000" stroke-width="3.4"/>
<circle cx="1685" cy="1215.9" r="3.5" fill="#000"/>
<circle cx="1679.7" cy="1222.6" r="3.5" fill="#1c1cf0"/>
<circle cx="1690.3" cy="1227" r="3.5" fill="#1c1cf0"/>
<circle cx="1685" cy="1232.3" r="3.5" fill="#1c1cf0"/>
<circle cx="1685" cy="1240" r="3.5" fill="#000"/>
<circle cx="1685" cy="1247" r="3.5" fill="#e8251e"/>
<circle cx="1679.7" cy="1255.9" r="3.5" fill="#e8251e"/>
<circle cx="1690.3" cy="1255.4" r="3.5" fill="#000"/>
<circle cx="1679.7" cy="1264.2" r="3.5" fill="#000"/>
<circle cx="1690.3" cy="1263" r="3.5" fill="#e8251e"/>
<rect x="1749.5" y="1153.9" width="40.2" height="167.6" fill="#fff" stroke="#000" stroke-width="3.5"/>
<line x1="1769.6" y1="1153.9" x2="1769.6" y2="1136.2" stroke="#000" stroke-width="3.5"/>
<line x1="1757.6" y1="1136.2" x2="1781.6" y2="1136.2" stroke="#000" stroke-width="3.4"/>
<circle cx="1758.9" cy="1088" r="3.5" fill="#000"/>
<circle cx="1769.8" cy="1091.1" r="3.5" fill="#1c1cf0"/>
<circle cx="1769.8" cy="1103" r="3.5" fill="#1c1cf0"/>
<circle cx="1769.8" cy="1120.3" r="3.5" fill="#1c1cf0"/>
<circle cx="1769.8" cy="1155.6" r="3.5" fill="#000"/>
<circle cx="1769.8" cy="1172.4" r="3.5" fill="#e8251e"/>
<circle cx="1759.2" cy="1187" r="3.5" fill="#e8251e"/>
<circle cx="1769.8" cy="1189.7" r="3.5" fill="#000"/>
<circle cx="1780.2" cy="1189.7" r="3.5" fill="#000"/>
<circle cx="1769.8" cy="1215.3" r="3.5" fill="#e8251e"/>
<rect x="1809.9" y="1207.8" width="40.2" height="113.7" fill="#fff" stroke="#000" stroke-width="3.5"/>
<line x1="1830" y1="1207.8" x2="1830" y2="1193" stroke="#000" stroke-width="3.5"/>
<line x1="1818" y1="1193" x2="1842" y2="1193" stroke="#000" stroke-width="3.4"/>
<circle cx="1830.1" cy="1143.2" r="3.5" fill="#000"/>
<circle cx="1824.6" cy="1162.9" r="3.5" fill="#000"/>
<circle cx="1835.6" cy="1166.9" r="3.5" fill="#1c1cf0"/>
<circle cx="1830" cy="1195.2" r="3.5" fill="#1c1cf0"/>
<circle cx="1830" cy="1200.7" r="3.5" fill="#1c1cf0"/>
<circle cx="1830" cy="1214.4" r="3.5" fill="#e8251e"/>
<circle cx="1835.6" cy="1232.3" r="3.5" fill="#e8251e"/>
<circle cx="1824.6" cy="1236" r="3.5" fill="#000"/>
<circle cx="1830" cy="1241.5" r="3.5" fill="#000"/>
<circle cx="1830" cy="1257.9" r="3.5" fill="#e8251e"/>
<rect x="1870.5" y="1186.8" width="40.2" height="134.7" fill="#fff" stroke="#000" stroke-width="3.5"/>
<line x1="1890.6" y1="1186.8" x2="1890.6" y2="1173.7" stroke="#000" stroke-width="3.5"/>
<line x1="1878.6" y1="1173.7" x2="1902.6" y2="1173.7" stroke="#000" stroke-width="3.4"/>
<circle cx="1890.4" cy="1130.4" r="3.5" fill="#000"/>
<circle cx="1895.9" cy="1146.8" r="3.5" fill="#000"/>
<circle cx="1885.3" cy="1152" r="3.5" fill="#1c1cf0"/>
<circle cx="1890.4" cy="1168.4" r="3.5" fill="#1c1cf0"/>
<circle cx="1890.4" cy="1186" r="3.5" fill="#000"/>
<circle cx="1890.4" cy="1194.3" r="3.5" fill="#e8251e"/>
<circle cx="1885.3" cy="1208" r="3.5" fill="#1c1cf0"/>
<circle cx="1895.9" cy="1206.2" r="3.5" fill="#000"/>
<circle cx="1890.4" cy="1215.9" r="3.5" fill="#e8251e"/>
<circle cx="1890.4" cy="1237.2" r="3.5" fill="#e8251e"/>
<rect x="1930.7" y="1216.9" width="40.2" height="104.6" fill="#fff" stroke="#000" stroke-width="3.5"/>
<line x1="1950.8" y1="1216.9" x2="1950.8" y2="1209.8" stroke="#000" stroke-width="3.5"/>
<line x1="1938.8" y1="1209.8" x2="1962.8" y2="1209.8" stroke="#000" stroke-width="3.4"/>
<circle cx="1950.8" cy="1186.1" r="3.5" fill="#1c1cf0"/>
<circle cx="1950.8" cy="1192.5" r="3.5" fill="#1c1cf0"/>
<circle cx="1950.8" cy="1202.5" r="3.5" fill="#1c1cf0"/>
<circle cx="1940" cy="1211.7" r="3.5" fill="#000"/>
<circle cx="1950.8" cy="1216.2" r="3.5" fill="#000"/>
<circle cx="1961.1" cy="1216.2" r="3.5" fill="#e8251e"/>
<circle cx="1940" cy="1226.3" r="3.5" fill="#000"/>
<circle cx="1961.1" cy="1226.3" r="3.5" fill="#000"/>
<circle cx="1950.8" cy="1230.9" r="3.5" fill="#e8251e"/>
<circle cx="1950.8" cy="1239.6" r="3.5" fill="#e8251e"/>
<rect x="1991.2" y="1213.3" width="40.2" height="108.2" fill="#fff" stroke="#000" stroke-width="3.5"/>
<line x1="2011.3" y1="1213.3" x2="2011.3" y2="1201.6" stroke="#000" stroke-width="3.5"/>
<line x1="1999.3" y1="1201.6" x2="2023.3" y2="1201.6" stroke="#000" stroke-width="3.4"/>
<circle cx="2011.3" cy="1168.4" r="3.5" fill="#1c1cf0"/>
<circle cx="2006.2" cy="1185.2" r="3.5" fill="#1c1cf0"/>
<circle cx="2006.2" cy="1192.5" r="3.5" fill="#1c1cf0"/>
<circle cx="2016.4" cy="1188.8" r="3.5" fill="#000"/>
<circle cx="2011.3" cy="1205.3" r="3.5" fill="#e8251e"/>
<circle cx="2011.3" cy="1216.2" r="3.5" fill="#000"/>
<circle cx="2011.3" cy="1224.5" r="3.5" fill="#e8251e"/>
<circle cx="2011.3" cy="1234.5" r="3.5" fill="#e8251e"/>
<circle cx="2011.3" cy="1241.5" r="3.5" fill="#000"/>
<circle cx="2011.3" cy="1246.4" r="3.5" fill="#000"/>
<rect x="2051.5" y="1200.5" width="40.2" height="121" fill="#fff" stroke="#000" stroke-width="3.5"/>
<line x1="2071.6" y1="1200.5" x2="2071.6" y2="1187.9" stroke="#000" stroke-width="3.5"/>
<line x1="2059.6" y1="1187.9" x2="2083.6" y2="1187.9" stroke="#000" stroke-width="3.4"/>
<circle cx="2071.6" cy="1142.8" r="3.5" fill="#1c1cf0"/>
<circle cx="2066.5" cy="1175.1" r="3.5" fill="#1c1cf0"/>
<circle cx="2077.1" cy="1179.7" r="3.5" fill="#1c1cf0"/>
<circle cx="2066.5" cy="1181.2" r="3.5" fill="#000"/>
<circle cx="2077.1" cy="1191.6" r="3.5" fill="#000"/>
<circle cx="2066.5" cy="1195.2" r="3.5" fill="#e8251e"/>
<circle cx="2071.6" cy="1208.9" r="3.5" fill="#000"/>
<circle cx="2071.6" cy="1223.5" r="3.5" fill="#e8251e"/>
<circle cx="2071.6" cy="1229.9" r="3.5" fill="#e8251e"/>
<circle cx="2071.6" cy="1248.2" r="3.5" fill="#000"/>
<line x1="1318.2" y1="1321.5" x2="2112.5" y2="1321.5" stroke="#000" stroke-width="3.8" stroke-linecap="round"/>
<text x="1429.6" y="1228.7" font-size="34" letter-spacing="2.2" style="stroke-width:0.6px">**</text>
<text x="1497.2" y="1214.5" font-size="34" letter-spacing="2.2" style="stroke-width:0.6px">*</text>
<text x="1543.2" y="1241.1" font-size="34" letter-spacing="2.2" style="stroke-width:0.6px">***</text>
<text x="1595.5" y="1248.2" font-size="34" letter-spacing="2.2" style="stroke-width:0.6px">****</text>
<text x="1678.6" y="1215.4" font-size="34" letter-spacing="2.2" style="stroke-width:0.6px">*</text>
<text x="1823.6" y="1137.8" font-size="34" letter-spacing="2.2" style="stroke-width:0.6px">*</text>
<text x="1929.6" y="1182.5" font-size="34" letter-spacing="2.2" style="stroke-width:0.6px">***</text>
<text x="1997.2" y="1165.1" font-size="34" letter-spacing="2.2" style="stroke-width:0.6px">**</text>
<text x="2065.6" y="1144.1" font-size="34" letter-spacing="2.2" style="stroke-width:0.6px">*</text>
<text x="1750" y="1071.8" style="stroke-width:0.6px">###</text>
<text x="1817.7" y="1105.6" style="stroke-width:0.6px">##</text>
<text x="1871.6" y="1112.9" style="stroke-width:0.6px">###</text>
<text x="1925.1" y="1151.8" style="stroke-width:0.6px">####</text>
<text x="1985.4" y="1133.9" style="stroke-width:0.6px">####</text>
<text x="2052.4" y="1111.6" style="stroke-width:0.6px">###</text>
<text x="1341.8" y="1353.5" text-anchor="end">Glucagon (μM)</text>
<text x="1382.8" y="1353.5" text-anchor="middle">0</text>
<text x="1443.5" y="1353.5" text-anchor="middle">0</text>
<text x="1504" y="1353.5" text-anchor="middle">0</text>
<text x="1564.1" y="1353.5" text-anchor="middle">0</text>
<text x="1624.5" y="1353.5" text-anchor="middle">0</text>
<text x="1684.7" y="1353.5" text-anchor="middle">0</text>
<text x="1769.8" y="1353.5" text-anchor="middle">1</text>
<text x="1830" y="1353.5" text-anchor="middle">1</text>
<text x="1890.4" y="1353.5" text-anchor="middle">1</text>
<text x="1950.9" y="1353.5" text-anchor="middle">1</text>
<text x="2011" y="1353.5" text-anchor="middle">1</text>
<text x="2071.4" y="1353.5" text-anchor="middle">1</text>
<text x="1341.8" y="1382.2" text-anchor="end">ESI-05 (μM)</text>
<text x="1382.8" y="1382.2" text-anchor="middle">0</text>
<text x="1443.5" y="1382.2" text-anchor="middle">25</text>
<text x="1504" y="1382.2" text-anchor="middle">0</text>
<text x="1564.1" y="1382.2" text-anchor="middle">0</text>
<text x="1624.5" y="1382.2" text-anchor="middle">0</text>
<text x="1684.7" y="1382.2" text-anchor="middle">0</text>
<text x="1769.8" y="1382.2" text-anchor="middle">0</text>
<text x="1830" y="1382.2" text-anchor="middle">25</text>
<text x="1890.4" y="1382.2" text-anchor="middle">0</text>
<text x="1950.9" y="1382.2" text-anchor="middle">0</text>
<text x="2011" y="1382.2" text-anchor="middle">0</text>
<text x="2071.4" y="1382.2" text-anchor="middle">0</text>
<text x="1341.8" y="1411.3" text-anchor="end">PKI (μM)</text>
<text x="1382.8" y="1411.3" text-anchor="middle">0</text>
<text x="1443.5" y="1411.3" text-anchor="middle">0</text>
<text x="1504" y="1411.3" text-anchor="middle">1</text>
<text x="1564.1" y="1411.3" text-anchor="middle">0</text>
<text x="1624.5" y="1411.3" text-anchor="middle">0</text>
<text x="1684.7" y="1411.3" text-anchor="middle">0</text>
<text x="1769.8" y="1411.3" text-anchor="middle">0</text>
<text x="1830" y="1411.3" text-anchor="middle">0</text>
<text x="1890.4" y="1411.3" text-anchor="middle">1</text>
<text x="1950.9" y="1411.3" text-anchor="middle">0</text>
<text x="2011" y="1411.3" text-anchor="middle">0</text>
<text x="2071.4" y="1411.3" text-anchor="middle">0</text>
<text x="1341.8" y="1440" text-anchor="end">Ryanodine (μM)</text>
<text x="1382.8" y="1440" text-anchor="middle">0</text>
<text x="1443.5" y="1440" text-anchor="middle">0</text>
<text x="1504" y="1440" text-anchor="middle">0</text>
<text x="1564.1" y="1440" text-anchor="middle">50</text>
<text x="1624.5" y="1440" text-anchor="middle">0</text>
<text x="1684.7" y="1440" text-anchor="middle">0</text>
<text x="1769.8" y="1440" text-anchor="middle">0</text>
<text x="1830" y="1440" text-anchor="middle">0</text>
<text x="1890.4" y="1440" text-anchor="middle">0</text>
<text x="1950.9" y="1440" text-anchor="middle">50</text>
<text x="2011" y="1440" text-anchor="middle">0</text>
<text x="2071.4" y="1440" text-anchor="middle">0</text>
<text x="1341.8" y="1469" text-anchor="end">YM-254890 (μM)</text>
<text x="1382.8" y="1469" text-anchor="middle">0</text>
<text x="1443.5" y="1469" text-anchor="middle">0</text>
<text x="1504" y="1469" text-anchor="middle">0</text>
<text x="1564.1" y="1469" text-anchor="middle">0</text>
<text x="1624.5" y="1469" text-anchor="middle">1</text>
<text x="1684.7" y="1469" text-anchor="middle">0</text>
<text x="1769.8" y="1469" text-anchor="middle">0</text>
<text x="1830" y="1469" text-anchor="middle">0</text>
<text x="1890.4" y="1469" text-anchor="middle">0</text>
<text x="1950.9" y="1469" text-anchor="middle">0</text>
<text x="2011" y="1469" text-anchor="middle">1</text>
<text x="2071.4" y="1469" text-anchor="middle">0</text>
<text x="1341.8" y="1497.6" text-anchor="end">Xestospongin C (μM)</text>
<text x="1382.8" y="1497.6" text-anchor="middle">0</text>
<text x="1443.5" y="1497.6" text-anchor="middle">0</text>
<text x="1504" y="1497.6" text-anchor="middle">0</text>
<text x="1564.1" y="1497.6" text-anchor="middle">0</text>
<text x="1624.5" y="1497.6" text-anchor="middle">0</text>
<text x="1684.7" y="1497.6" text-anchor="middle">10</text>
<text x="1769.8" y="1497.6" text-anchor="middle">0</text>
<text x="1830" y="1497.6" text-anchor="middle">0</text>
<text x="1890.4" y="1497.6" text-anchor="middle">0</text>
<text x="1950.9" y="1497.6" text-anchor="middle">0</text>
<text x="2011" y="1497.6" text-anchor="middle">0</text>
<text x="2071.4" y="1497.6" text-anchor="middle">10</text>
</svg></body></html>
